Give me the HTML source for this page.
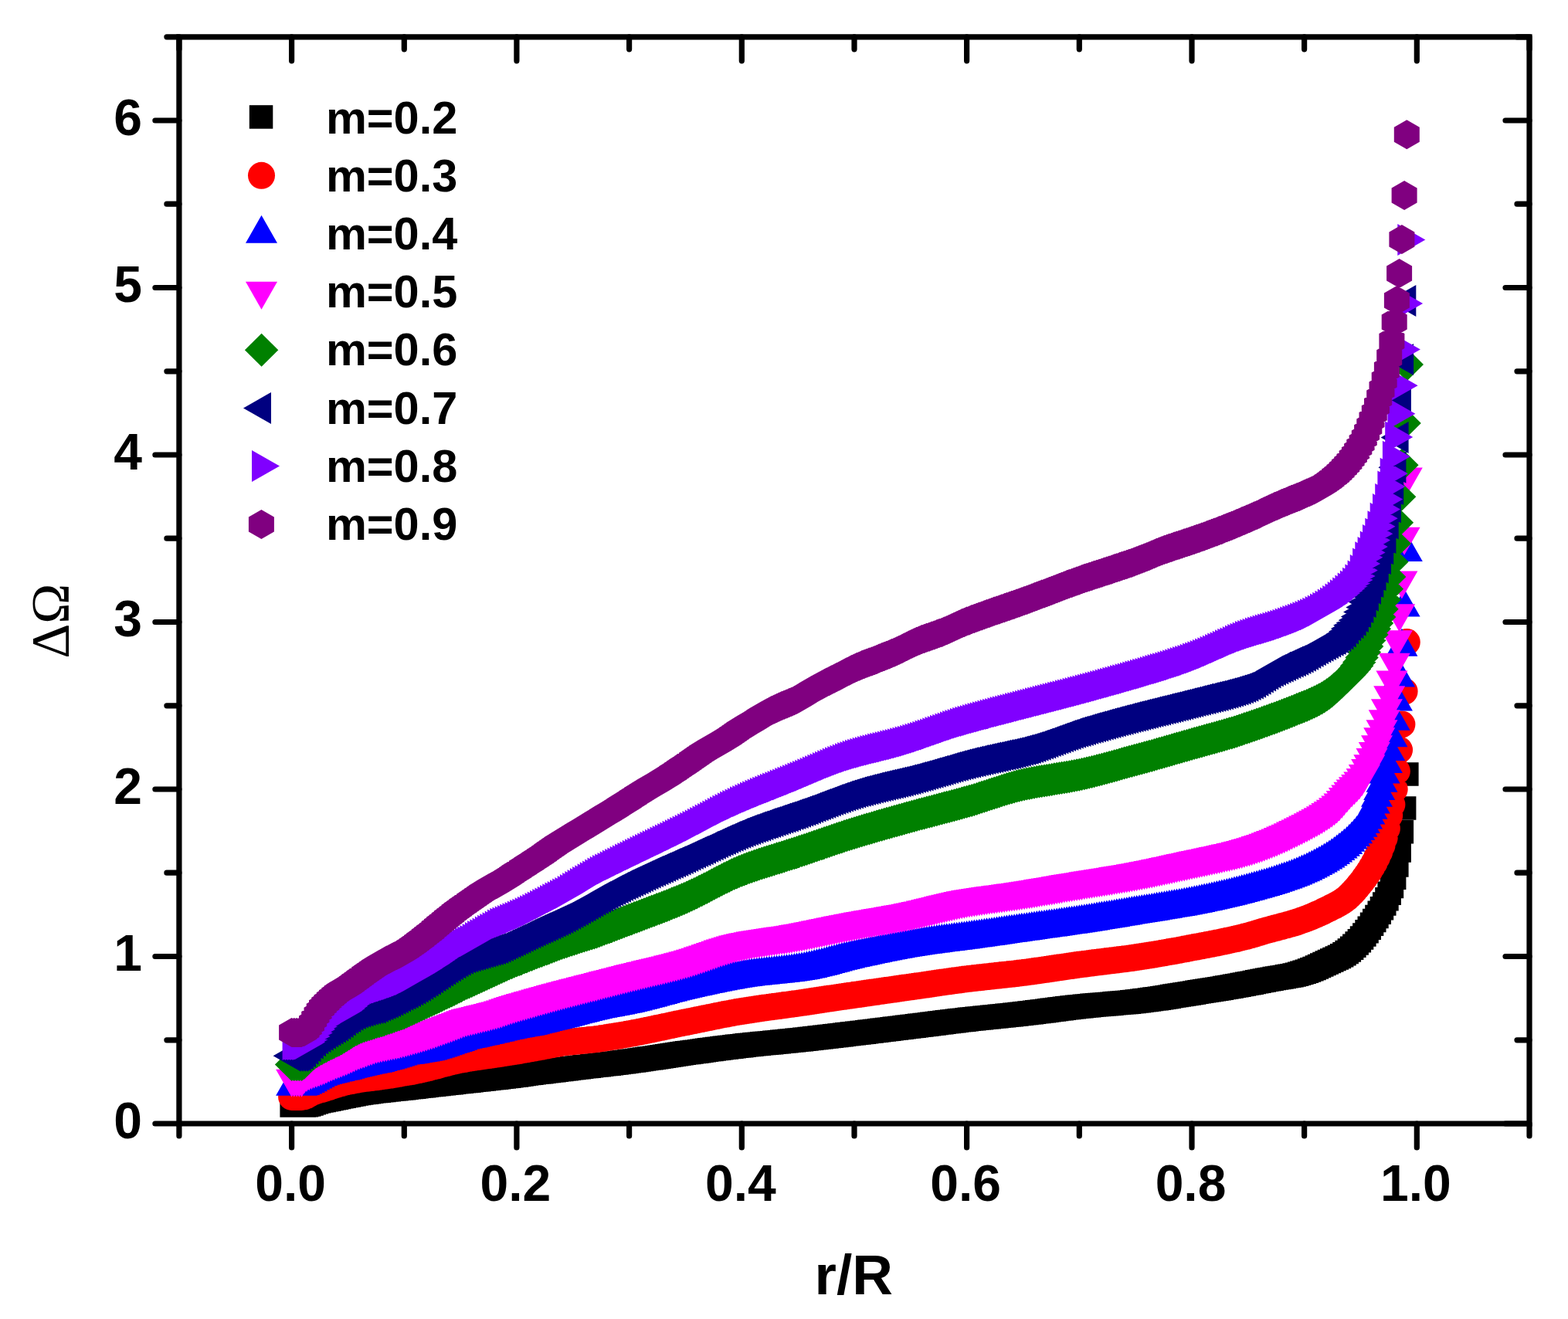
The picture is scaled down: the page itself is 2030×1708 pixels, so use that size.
<!DOCTYPE html><html><head><meta charset="utf-8"><style>html,body{margin:0;padding:0;background:#fff;overflow:hidden}svg{display:block}</style></head><body><svg xmlns="http://www.w3.org/2000/svg" width="2030" height="1708" viewBox="0 0 2030 1708">
<rect width="2030" height="1708" fill="#fff"/>
<path fill="#000000" d="M362.4 1416.2h30.5v30.5h-30.5zM365.6 1416.2h30.5v30.5h-30.5zM368.8 1416.2h30.5v30.5h-30.5zM372.1 1416.2h30.5v30.5h-30.5zM375.3 1416.2h30.5v30.5h-30.5zM378.5 1416.2h30.5v30.5h-30.5zM381.8 1415.9h30.5v30.5h-30.5zM385.0 1415.2h30.5v30.5h-30.5zM388.3 1414.2h30.5v30.5h-30.5zM391.5 1413.1h30.5v30.5h-30.5zM394.7 1412.0h30.5v30.5h-30.5zM398.0 1411.1h30.5v30.5h-30.5zM401.2 1410.3h30.5v30.5h-30.5zM404.4 1409.7h30.5v30.5h-30.5zM407.7 1409.0h30.5v30.5h-30.5zM410.9 1408.4h30.5v30.5h-30.5zM414.2 1407.7h30.5v30.5h-30.5zM417.4 1407.1h30.5v30.5h-30.5zM420.6 1406.4h30.5v30.5h-30.5zM423.9 1405.8h30.5v30.5h-30.5zM427.1 1405.1h30.5v30.5h-30.5zM430.3 1404.5h30.5v30.5h-30.5zM433.6 1403.8h30.5v30.5h-30.5zM436.8 1403.2h30.5v30.5h-30.5zM440.0 1402.5h30.5v30.5h-30.5zM443.3 1401.9h30.5v30.5h-30.5zM446.5 1401.3h30.5v30.5h-30.5zM449.8 1400.7h30.5v30.5h-30.5zM453.0 1400.3h30.5v30.5h-30.5zM456.2 1399.8h30.5v30.5h-30.5zM459.5 1399.4h30.5v30.5h-30.5zM462.7 1398.9h30.5v30.5h-30.5zM465.9 1398.5h30.5v30.5h-30.5zM469.2 1398.1h30.5v30.5h-30.5zM472.4 1397.7h30.5v30.5h-30.5zM475.7 1397.4h30.5v30.5h-30.5zM478.9 1397.0h30.5v30.5h-30.5zM482.1 1396.7h30.5v30.5h-30.5zM485.4 1396.3h30.5v30.5h-30.5zM488.6 1396.0h30.5v30.5h-30.5zM491.8 1395.6h30.5v30.5h-30.5zM495.1 1395.3h30.5v30.5h-30.5zM498.3 1394.9h30.5v30.5h-30.5zM501.6 1394.6h30.5v30.5h-30.5zM504.8 1394.2h30.5v30.5h-30.5zM508.0 1393.9h30.5v30.5h-30.5zM511.3 1393.5h30.5v30.5h-30.5zM514.5 1393.1h30.5v30.5h-30.5zM517.7 1392.7h30.5v30.5h-30.5zM521.0 1392.4h30.5v30.5h-30.5zM524.2 1392.0h30.5v30.5h-30.5zM527.4 1391.6h30.5v30.5h-30.5zM530.7 1391.3h30.5v30.5h-30.5zM533.9 1390.9h30.5v30.5h-30.5zM537.2 1390.5h30.5v30.5h-30.5zM540.4 1390.1h30.5v30.5h-30.5zM543.6 1389.8h30.5v30.5h-30.5zM546.9 1389.4h30.5v30.5h-30.5zM550.1 1389.0h30.5v30.5h-30.5zM553.3 1388.7h30.5v30.5h-30.5zM556.6 1388.3h30.5v30.5h-30.5zM559.8 1387.9h30.5v30.5h-30.5zM563.1 1387.6h30.5v30.5h-30.5zM566.3 1387.2h30.5v30.5h-30.5zM569.5 1386.9h30.5v30.5h-30.5zM572.8 1386.5h30.5v30.5h-30.5zM576.0 1386.1h30.5v30.5h-30.5zM579.2 1385.8h30.5v30.5h-30.5zM582.5 1385.5h30.5v30.5h-30.5zM585.7 1385.1h30.5v30.5h-30.5zM589.0 1384.7h30.5v30.5h-30.5zM592.2 1384.4h30.5v30.5h-30.5zM595.4 1384.0h30.5v30.5h-30.5zM598.7 1383.6h30.5v30.5h-30.5zM601.9 1383.3h30.5v30.5h-30.5zM605.1 1382.9h30.5v30.5h-30.5zM608.4 1382.6h30.5v30.5h-30.5zM611.6 1382.2h30.5v30.5h-30.5zM614.8 1381.8h30.5v30.5h-30.5zM618.1 1381.5h30.5v30.5h-30.5zM621.3 1381.1h30.5v30.5h-30.5zM624.6 1380.8h30.5v30.5h-30.5zM627.8 1380.4h30.5v30.5h-30.5zM631.0 1380.0h30.5v30.5h-30.5zM634.3 1379.6h30.5v30.5h-30.5zM637.5 1379.2h30.5v30.5h-30.5zM640.7 1378.8h30.5v30.5h-30.5zM644.0 1378.4h30.5v30.5h-30.5zM647.2 1378.0h30.5v30.5h-30.5zM650.5 1377.6h30.5v30.5h-30.5zM653.7 1377.2h30.5v30.5h-30.5zM656.9 1376.7h30.5v30.5h-30.5zM660.2 1376.3h30.5v30.5h-30.5zM663.4 1375.8h30.5v30.5h-30.5zM666.6 1375.3h30.5v30.5h-30.5zM669.9 1374.8h30.5v30.5h-30.5zM673.1 1374.4h30.5v30.5h-30.5zM676.4 1374.0h30.5v30.5h-30.5zM679.6 1373.6h30.5v30.5h-30.5zM682.8 1373.2h30.5v30.5h-30.5zM686.1 1372.9h30.5v30.5h-30.5zM689.3 1372.5h30.5v30.5h-30.5zM692.5 1372.1h30.5v30.5h-30.5zM695.8 1371.7h30.5v30.5h-30.5zM699.0 1371.3h30.5v30.5h-30.5zM702.2 1370.9h30.5v30.5h-30.5zM705.5 1370.5h30.5v30.5h-30.5zM708.7 1370.1h30.5v30.5h-30.5zM712.0 1369.7h30.5v30.5h-30.5zM715.2 1369.3h30.5v30.5h-30.5zM718.4 1368.9h30.5v30.5h-30.5zM721.7 1368.5h30.5v30.5h-30.5zM724.9 1368.0h30.5v30.5h-30.5zM728.1 1367.7h30.5v30.5h-30.5zM731.4 1367.3h30.5v30.5h-30.5zM734.6 1366.9h30.5v30.5h-30.5zM737.9 1366.5h30.5v30.5h-30.5zM741.1 1366.1h30.5v30.5h-30.5zM744.3 1365.8h30.5v30.5h-30.5zM747.6 1365.4h30.5v30.5h-30.5zM750.8 1365.0h30.5v30.5h-30.5zM754.0 1364.6h30.5v30.5h-30.5zM757.3 1364.3h30.5v30.5h-30.5zM760.5 1363.9h30.5v30.5h-30.5zM763.8 1363.5h30.5v30.5h-30.5zM767.0 1363.1h30.5v30.5h-30.5zM770.2 1362.7h30.5v30.5h-30.5zM773.5 1362.4h30.5v30.5h-30.5zM776.7 1361.9h30.5v30.5h-30.5zM779.9 1361.6h30.5v30.5h-30.5zM783.2 1361.2h30.5v30.5h-30.5zM786.4 1360.7h30.5v30.5h-30.5zM789.6 1360.3h30.5v30.5h-30.5zM792.9 1359.9h30.5v30.5h-30.5zM796.1 1359.5h30.5v30.5h-30.5zM799.4 1359.1h30.5v30.5h-30.5zM802.6 1358.6h30.5v30.5h-30.5zM805.8 1358.2h30.5v30.5h-30.5zM809.1 1357.7h30.5v30.5h-30.5zM812.3 1357.2h30.5v30.5h-30.5zM815.5 1356.8h30.5v30.5h-30.5zM818.8 1356.3h30.5v30.5h-30.5zM822.0 1355.8h30.5v30.5h-30.5zM825.3 1355.3h30.5v30.5h-30.5zM828.5 1354.9h30.5v30.5h-30.5zM831.7 1354.4h30.5v30.5h-30.5zM835.0 1353.9h30.5v30.5h-30.5zM838.2 1353.4h30.5v30.5h-30.5zM841.4 1352.9h30.5v30.5h-30.5zM844.7 1352.4h30.5v30.5h-30.5zM847.9 1351.9h30.5v30.5h-30.5zM851.2 1351.4h30.5v30.5h-30.5zM854.4 1350.9h30.5v30.5h-30.5zM857.6 1350.4h30.5v30.5h-30.5zM860.9 1349.9h30.5v30.5h-30.5zM864.1 1349.5h30.5v30.5h-30.5zM867.3 1349.0h30.5v30.5h-30.5zM870.6 1348.6h30.5v30.5h-30.5zM873.8 1348.1h30.5v30.5h-30.5zM877.0 1347.7h30.5v30.5h-30.5zM880.3 1347.2h30.5v30.5h-30.5zM883.5 1346.8h30.5v30.5h-30.5zM886.8 1346.4h30.5v30.5h-30.5zM890.0 1345.9h30.5v30.5h-30.5zM893.2 1345.5h30.5v30.5h-30.5zM896.5 1345.0h30.5v30.5h-30.5zM899.7 1344.6h30.5v30.5h-30.5zM902.9 1344.1h30.5v30.5h-30.5zM906.2 1343.7h30.5v30.5h-30.5zM909.4 1343.3h30.5v30.5h-30.5zM912.7 1342.8h30.5v30.5h-30.5zM915.9 1342.4h30.5v30.5h-30.5zM919.1 1342.0h30.5v30.5h-30.5zM922.4 1341.6h30.5v30.5h-30.5zM925.6 1341.2h30.5v30.5h-30.5zM928.8 1340.8h30.5v30.5h-30.5zM932.1 1340.4h30.5v30.5h-30.5zM935.3 1340.0h30.5v30.5h-30.5zM938.6 1339.6h30.5v30.5h-30.5zM941.8 1339.2h30.5v30.5h-30.5zM945.0 1338.9h30.5v30.5h-30.5zM948.3 1338.5h30.5v30.5h-30.5zM951.5 1338.1h30.5v30.5h-30.5zM954.7 1337.8h30.5v30.5h-30.5zM958.0 1337.5h30.5v30.5h-30.5zM961.2 1337.1h30.5v30.5h-30.5zM964.4 1336.8h30.5v30.5h-30.5zM967.7 1336.5h30.5v30.5h-30.5zM970.9 1336.1h30.5v30.5h-30.5zM974.2 1335.8h30.5v30.5h-30.5zM977.4 1335.5h30.5v30.5h-30.5zM980.6 1335.2h30.5v30.5h-30.5zM983.9 1334.9h30.5v30.5h-30.5zM987.1 1334.6h30.5v30.5h-30.5zM990.3 1334.2h30.5v30.5h-30.5zM993.6 1333.9h30.5v30.5h-30.5zM996.8 1333.6h30.5v30.5h-30.5zM1000.1 1333.3h30.5v30.5h-30.5zM1003.3 1333.0h30.5v30.5h-30.5zM1006.5 1332.6h30.5v30.5h-30.5zM1009.8 1332.3h30.5v30.5h-30.5zM1013.0 1332.0h30.5v30.5h-30.5zM1016.2 1331.6h30.5v30.5h-30.5zM1019.5 1331.3h30.5v30.5h-30.5zM1022.7 1330.9h30.5v30.5h-30.5zM1026.0 1330.6h30.5v30.5h-30.5zM1029.2 1330.2h30.5v30.5h-30.5zM1032.4 1329.8h30.5v30.5h-30.5zM1035.7 1329.5h30.5v30.5h-30.5zM1038.9 1329.1h30.5v30.5h-30.5zM1042.1 1328.7h30.5v30.5h-30.5zM1045.4 1328.3h30.5v30.5h-30.5zM1048.6 1328.0h30.5v30.5h-30.5zM1051.8 1327.6h30.5v30.5h-30.5zM1055.1 1327.2h30.5v30.5h-30.5zM1058.3 1326.8h30.5v30.5h-30.5zM1061.6 1326.4h30.5v30.5h-30.5zM1064.8 1326.0h30.5v30.5h-30.5zM1068.0 1325.7h30.5v30.5h-30.5zM1071.3 1325.3h30.5v30.5h-30.5zM1074.5 1324.9h30.5v30.5h-30.5zM1077.7 1324.5h30.5v30.5h-30.5zM1081.0 1324.1h30.5v30.5h-30.5zM1084.2 1323.7h30.5v30.5h-30.5zM1087.5 1323.3h30.5v30.5h-30.5zM1090.7 1322.9h30.5v30.5h-30.5zM1093.9 1322.6h30.5v30.5h-30.5zM1097.2 1322.2h30.5v30.5h-30.5zM1100.4 1321.8h30.5v30.5h-30.5zM1103.7 1321.4h30.5v30.5h-30.5zM1106.9 1321.0h30.5v30.5h-30.5zM1110.1 1320.6h30.5v30.5h-30.5zM1113.4 1320.2h30.5v30.5h-30.5zM1116.6 1319.8h30.5v30.5h-30.5zM1119.8 1319.4h30.5v30.5h-30.5zM1123.1 1319.0h30.5v30.5h-30.5zM1126.3 1318.6h30.5v30.5h-30.5zM1129.6 1318.2h30.5v30.5h-30.5zM1132.8 1317.8h30.5v30.5h-30.5zM1136.0 1317.4h30.5v30.5h-30.5zM1139.3 1317.0h30.5v30.5h-30.5zM1142.5 1316.6h30.5v30.5h-30.5zM1145.7 1316.2h30.5v30.5h-30.5zM1149.0 1315.8h30.5v30.5h-30.5zM1152.2 1315.4h30.5v30.5h-30.5zM1155.4 1315.0h30.5v30.5h-30.5zM1158.7 1314.6h30.5v30.5h-30.5zM1161.9 1314.2h30.5v30.5h-30.5zM1165.2 1313.8h30.5v30.5h-30.5zM1168.4 1313.4h30.5v30.5h-30.5zM1171.6 1313.0h30.5v30.5h-30.5zM1174.9 1312.6h30.5v30.5h-30.5zM1178.1 1312.2h30.5v30.5h-30.5zM1181.3 1311.8h30.5v30.5h-30.5zM1184.6 1311.4h30.5v30.5h-30.5zM1187.8 1311.0h30.5v30.5h-30.5zM1191.1 1310.6h30.5v30.5h-30.5zM1194.3 1310.2h30.5v30.5h-30.5zM1197.5 1309.7h30.5v30.5h-30.5zM1200.8 1309.3h30.5v30.5h-30.5zM1204.0 1308.9h30.5v30.5h-30.5zM1207.2 1308.5h30.5v30.5h-30.5zM1210.5 1308.1h30.5v30.5h-30.5zM1213.7 1307.7h30.5v30.5h-30.5zM1217.0 1307.3h30.5v30.5h-30.5zM1220.2 1306.9h30.5v30.5h-30.5zM1223.4 1306.5h30.5v30.5h-30.5zM1226.7 1306.1h30.5v30.5h-30.5zM1229.9 1305.7h30.5v30.5h-30.5zM1233.1 1305.4h30.5v30.5h-30.5zM1236.4 1305.0h30.5v30.5h-30.5zM1239.6 1304.6h30.5v30.5h-30.5zM1242.8 1304.3h30.5v30.5h-30.5zM1246.1 1303.9h30.5v30.5h-30.5zM1249.3 1303.6h30.5v30.5h-30.5zM1252.6 1303.2h30.5v30.5h-30.5zM1255.8 1302.9h30.5v30.5h-30.5zM1259.0 1302.6h30.5v30.5h-30.5zM1262.3 1302.2h30.5v30.5h-30.5zM1265.5 1301.9h30.5v30.5h-30.5zM1268.7 1301.6h30.5v30.5h-30.5zM1272.0 1301.2h30.5v30.5h-30.5zM1275.2 1300.9h30.5v30.5h-30.5zM1278.5 1300.6h30.5v30.5h-30.5zM1281.7 1300.2h30.5v30.5h-30.5zM1284.9 1299.9h30.5v30.5h-30.5zM1288.2 1299.6h30.5v30.5h-30.5zM1291.4 1299.2h30.5v30.5h-30.5zM1294.6 1298.9h30.5v30.5h-30.5zM1297.9 1298.5h30.5v30.5h-30.5zM1301.1 1298.2h30.5v30.5h-30.5zM1304.4 1297.8h30.5v30.5h-30.5zM1307.6 1297.5h30.5v30.5h-30.5zM1310.8 1297.1h30.5v30.5h-30.5zM1314.1 1296.7h30.5v30.5h-30.5zM1317.3 1296.3h30.5v30.5h-30.5zM1320.5 1296.0h30.5v30.5h-30.5zM1323.8 1295.5h30.5v30.5h-30.5zM1327.0 1295.1h30.5v30.5h-30.5zM1330.2 1294.7h30.5v30.5h-30.5zM1333.5 1294.3h30.5v30.5h-30.5zM1336.7 1293.9h30.5v30.5h-30.5zM1340.0 1293.4h30.5v30.5h-30.5zM1343.2 1293.0h30.5v30.5h-30.5zM1346.4 1292.6h30.5v30.5h-30.5zM1349.7 1292.2h30.5v30.5h-30.5zM1352.9 1291.7h30.5v30.5h-30.5zM1356.1 1291.3h30.5v30.5h-30.5zM1359.4 1290.9h30.5v30.5h-30.5zM1362.6 1290.5h30.5v30.5h-30.5zM1365.9 1290.1h30.5v30.5h-30.5zM1369.1 1289.7h30.5v30.5h-30.5zM1372.3 1289.3h30.5v30.5h-30.5zM1375.6 1288.9h30.5v30.5h-30.5zM1378.8 1288.5h30.5v30.5h-30.5zM1382.0 1288.2h30.5v30.5h-30.5zM1385.3 1287.9h30.5v30.5h-30.5zM1388.5 1287.6h30.5v30.5h-30.5zM1391.8 1287.2h30.5v30.5h-30.5zM1395.0 1286.9h30.5v30.5h-30.5zM1398.2 1286.6h30.5v30.5h-30.5zM1401.5 1286.3h30.5v30.5h-30.5zM1404.7 1286.1h30.5v30.5h-30.5zM1407.9 1285.8h30.5v30.5h-30.5zM1411.2 1285.5h30.5v30.5h-30.5zM1414.4 1285.2h30.5v30.5h-30.5zM1417.6 1285.0h30.5v30.5h-30.5zM1420.9 1284.7h30.5v30.5h-30.5zM1424.1 1284.4h30.5v30.5h-30.5zM1427.4 1284.1h30.5v30.5h-30.5zM1430.6 1283.8h30.5v30.5h-30.5zM1433.8 1283.6h30.5v30.5h-30.5zM1437.1 1283.3h30.5v30.5h-30.5zM1440.3 1283.0h30.5v30.5h-30.5zM1443.5 1282.7h30.5v30.5h-30.5zM1446.8 1282.4h30.5v30.5h-30.5zM1450.0 1282.0h30.5v30.5h-30.5zM1453.3 1281.7h30.5v30.5h-30.5zM1456.5 1281.3h30.5v30.5h-30.5zM1459.7 1280.9h30.5v30.5h-30.5zM1463.0 1280.5h30.5v30.5h-30.5zM1466.2 1280.1h30.5v30.5h-30.5zM1469.4 1279.7h30.5v30.5h-30.5zM1472.7 1279.2h30.5v30.5h-30.5zM1475.9 1278.8h30.5v30.5h-30.5zM1479.2 1278.3h30.5v30.5h-30.5zM1482.4 1277.9h30.5v30.5h-30.5zM1485.6 1277.4h30.5v30.5h-30.5zM1488.9 1276.9h30.5v30.5h-30.5zM1492.1 1276.4h30.5v30.5h-30.5zM1495.3 1275.9h30.5v30.5h-30.5zM1498.6 1275.4h30.5v30.5h-30.5zM1501.8 1274.8h30.5v30.5h-30.5zM1505.0 1274.3h30.5v30.5h-30.5zM1508.3 1273.8h30.5v30.5h-30.5zM1511.5 1273.3h30.5v30.5h-30.5zM1514.8 1272.7h30.5v30.5h-30.5zM1518.0 1272.2h30.5v30.5h-30.5zM1521.2 1271.7h30.5v30.5h-30.5zM1524.5 1271.2h30.5v30.5h-30.5zM1527.7 1270.7h30.5v30.5h-30.5zM1530.9 1270.2h30.5v30.5h-30.5zM1534.2 1269.6h30.5v30.5h-30.5zM1537.4 1269.1h30.5v30.5h-30.5zM1540.7 1268.6h30.5v30.5h-30.5zM1543.9 1268.1h30.5v30.5h-30.5zM1547.1 1267.6h30.5v30.5h-30.5zM1550.4 1267.1h30.5v30.5h-30.5zM1553.6 1266.5h30.5v30.5h-30.5zM1556.8 1266.0h30.5v30.5h-30.5zM1560.1 1265.5h30.5v30.5h-30.5zM1563.3 1264.9h30.5v30.5h-30.5zM1566.6 1264.4h30.5v30.5h-30.5zM1569.8 1263.8h30.5v30.5h-30.5zM1573.0 1263.3h30.5v30.5h-30.5zM1576.3 1262.7h30.5v30.5h-30.5zM1579.5 1262.2h30.5v30.5h-30.5zM1582.7 1261.6h30.5v30.5h-30.5zM1586.0 1261.0h30.5v30.5h-30.5zM1589.2 1260.4h30.5v30.5h-30.5zM1592.4 1259.8h30.5v30.5h-30.5zM1595.7 1259.3h30.5v30.5h-30.5zM1598.9 1258.6h30.5v30.5h-30.5zM1602.2 1258.0h30.5v30.5h-30.5zM1605.4 1257.4h30.5v30.5h-30.5zM1608.6 1256.7h30.5v30.5h-30.5zM1611.9 1256.1h30.5v30.5h-30.5zM1615.1 1255.4h30.5v30.5h-30.5zM1618.3 1254.8h30.5v30.5h-30.5zM1621.6 1254.2h30.5v30.5h-30.5zM1624.8 1253.6h30.5v30.5h-30.5zM1628.1 1253.0h30.5v30.5h-30.5zM1631.3 1252.4h30.5v30.5h-30.5zM1634.5 1251.8h30.5v30.5h-30.5zM1637.8 1251.3h30.5v30.5h-30.5zM1641.0 1250.8h30.5v30.5h-30.5zM1644.2 1250.2h30.5v30.5h-30.5zM1647.5 1249.7h30.5v30.5h-30.5zM1650.7 1249.1h30.5v30.5h-30.5zM1654.0 1248.5h30.5v30.5h-30.5zM1657.2 1247.9h30.5v30.5h-30.5zM1660.4 1247.2h30.5v30.5h-30.5zM1663.7 1246.4h30.5v30.5h-30.5zM1666.9 1245.5h30.5v30.5h-30.5zM1670.1 1244.6h30.5v30.5h-30.5zM1673.4 1243.6h30.5v30.5h-30.5zM1676.6 1242.5h30.5v30.5h-30.5zM1679.8 1241.3h30.5v30.5h-30.5zM1683.1 1240.0h30.5v30.5h-30.5zM1686.3 1238.7h30.5v30.5h-30.5zM1689.6 1237.3h30.5v30.5h-30.5zM1692.8 1235.8h30.5v30.5h-30.5zM1696.0 1234.3h30.5v30.5h-30.5zM1699.3 1232.8h30.5v30.5h-30.5zM1702.5 1231.3h30.5v30.5h-30.5zM1705.7 1229.8h30.5v30.5h-30.5zM1709.0 1228.3h30.5v30.5h-30.5zM1712.2 1226.8h30.5v30.5h-30.5zM1715.5 1225.3h30.5v30.5h-30.5zM1718.7 1223.7h30.5v30.5h-30.5zM1721.9 1221.9h30.5v30.5h-30.5zM1725.2 1219.9h30.5v30.5h-30.5zM1728.4 1217.7h30.5v30.5h-30.5zM1731.6 1215.2h30.5v30.5h-30.5zM1734.9 1212.4h30.5v30.5h-30.5zM1738.1 1209.4h30.5v30.5h-30.5zM1741.4 1206.2h30.5v30.5h-30.5zM1744.6 1202.9h30.5v30.5h-30.5zM1747.8 1199.3h30.5v30.5h-30.5zM1751.1 1195.3h30.5v30.5h-30.5zM1754.3 1191.0h30.5v30.5h-30.5zM1757.5 1186.4h30.5v30.5h-30.5zM1760.8 1181.6h30.5v30.5h-30.5zM1764.0 1176.7h30.5v30.5h-30.5zM1767.2 1171.7h30.5v30.5h-30.5zM1770.5 1166.5h30.5v30.5h-30.5zM1773.7 1161.0h30.5v30.5h-30.5zM1777.0 1155.2h30.5v30.5h-30.5zM1780.2 1148.9h30.5v30.5h-30.5zM1783.4 1141.6h30.5v30.5h-30.5zM1786.7 1132.8h30.5v30.5h-30.5zM1789.9 1121.5h30.5v30.5h-30.5zM1793.1 1105.3h30.5v30.5h-30.5zM1796.4 1086.2h30.5v30.5h-30.5zM1799.6 1062.0h30.5v30.5h-30.5zM1802.9 1031.2h30.5v30.5h-30.5zM1806.1 987.3h30.5v30.5h-30.5z"/>
<path fill="#ff0000" d="M360.1 1420.4a17.5 17.5 0 1 0 35.0 0a17.5 17.5 0 1 0 -35.0 0zM363.3 1420.4a17.5 17.5 0 1 0 35.0 0a17.5 17.5 0 1 0 -35.0 0zM366.6 1420.4a17.5 17.5 0 1 0 35.0 0a17.5 17.5 0 1 0 -35.0 0zM369.8 1420.4a17.5 17.5 0 1 0 35.0 0a17.5 17.5 0 1 0 -35.0 0zM373.1 1420.4a17.5 17.5 0 1 0 35.0 0a17.5 17.5 0 1 0 -35.0 0zM376.3 1419.8a17.5 17.5 0 1 0 35.0 0a17.5 17.5 0 1 0 -35.0 0zM379.5 1418.5a17.5 17.5 0 1 0 35.0 0a17.5 17.5 0 1 0 -35.0 0zM382.8 1416.7a17.5 17.5 0 1 0 35.0 0a17.5 17.5 0 1 0 -35.0 0zM386.0 1414.9a17.5 17.5 0 1 0 35.0 0a17.5 17.5 0 1 0 -35.0 0zM389.2 1413.5a17.5 17.5 0 1 0 35.0 0a17.5 17.5 0 1 0 -35.0 0zM392.5 1412.4a17.5 17.5 0 1 0 35.0 0a17.5 17.5 0 1 0 -35.0 0zM395.7 1411.4a17.5 17.5 0 1 0 35.0 0a17.5 17.5 0 1 0 -35.0 0zM399.0 1410.5a17.5 17.5 0 1 0 35.0 0a17.5 17.5 0 1 0 -35.0 0zM402.2 1409.5a17.5 17.5 0 1 0 35.0 0a17.5 17.5 0 1 0 -35.0 0zM405.4 1408.5a17.5 17.5 0 1 0 35.0 0a17.5 17.5 0 1 0 -35.0 0zM408.7 1407.5a17.5 17.5 0 1 0 35.0 0a17.5 17.5 0 1 0 -35.0 0zM411.9 1406.4a17.5 17.5 0 1 0 35.0 0a17.5 17.5 0 1 0 -35.0 0zM415.1 1405.4a17.5 17.5 0 1 0 35.0 0a17.5 17.5 0 1 0 -35.0 0zM418.4 1404.4a17.5 17.5 0 1 0 35.0 0a17.5 17.5 0 1 0 -35.0 0zM421.6 1403.4a17.5 17.5 0 1 0 35.0 0a17.5 17.5 0 1 0 -35.0 0zM424.8 1402.5a17.5 17.5 0 1 0 35.0 0a17.5 17.5 0 1 0 -35.0 0zM428.1 1401.6a17.5 17.5 0 1 0 35.0 0a17.5 17.5 0 1 0 -35.0 0zM431.3 1400.8a17.5 17.5 0 1 0 35.0 0a17.5 17.5 0 1 0 -35.0 0zM434.6 1400.1a17.5 17.5 0 1 0 35.0 0a17.5 17.5 0 1 0 -35.0 0zM437.8 1399.5a17.5 17.5 0 1 0 35.0 0a17.5 17.5 0 1 0 -35.0 0zM441.0 1398.9a17.5 17.5 0 1 0 35.0 0a17.5 17.5 0 1 0 -35.0 0zM444.3 1398.3a17.5 17.5 0 1 0 35.0 0a17.5 17.5 0 1 0 -35.0 0zM447.5 1397.7a17.5 17.5 0 1 0 35.0 0a17.5 17.5 0 1 0 -35.0 0zM450.7 1397.2a17.5 17.5 0 1 0 35.0 0a17.5 17.5 0 1 0 -35.0 0zM454.0 1396.7a17.5 17.5 0 1 0 35.0 0a17.5 17.5 0 1 0 -35.0 0zM457.2 1396.3a17.5 17.5 0 1 0 35.0 0a17.5 17.5 0 1 0 -35.0 0zM460.5 1395.9a17.5 17.5 0 1 0 35.0 0a17.5 17.5 0 1 0 -35.0 0zM463.7 1395.5a17.5 17.5 0 1 0 35.0 0a17.5 17.5 0 1 0 -35.0 0zM466.9 1395.1a17.5 17.5 0 1 0 35.0 0a17.5 17.5 0 1 0 -35.0 0zM470.2 1394.8a17.5 17.5 0 1 0 35.0 0a17.5 17.5 0 1 0 -35.0 0zM473.4 1394.3a17.5 17.5 0 1 0 35.0 0a17.5 17.5 0 1 0 -35.0 0zM476.6 1393.8a17.5 17.5 0 1 0 35.0 0a17.5 17.5 0 1 0 -35.0 0zM479.9 1393.3a17.5 17.5 0 1 0 35.0 0a17.5 17.5 0 1 0 -35.0 0zM483.1 1392.9a17.5 17.5 0 1 0 35.0 0a17.5 17.5 0 1 0 -35.0 0zM486.4 1392.4a17.5 17.5 0 1 0 35.0 0a17.5 17.5 0 1 0 -35.0 0zM489.6 1391.9a17.5 17.5 0 1 0 35.0 0a17.5 17.5 0 1 0 -35.0 0zM492.8 1391.4a17.5 17.5 0 1 0 35.0 0a17.5 17.5 0 1 0 -35.0 0zM496.1 1390.9a17.5 17.5 0 1 0 35.0 0a17.5 17.5 0 1 0 -35.0 0zM499.3 1390.3a17.5 17.5 0 1 0 35.0 0a17.5 17.5 0 1 0 -35.0 0zM502.5 1389.7a17.5 17.5 0 1 0 35.0 0a17.5 17.5 0 1 0 -35.0 0zM505.8 1389.1a17.5 17.5 0 1 0 35.0 0a17.5 17.5 0 1 0 -35.0 0zM509.0 1388.6a17.5 17.5 0 1 0 35.0 0a17.5 17.5 0 1 0 -35.0 0zM512.2 1388.1a17.5 17.5 0 1 0 35.0 0a17.5 17.5 0 1 0 -35.0 0zM515.5 1387.5a17.5 17.5 0 1 0 35.0 0a17.5 17.5 0 1 0 -35.0 0zM518.7 1386.9a17.5 17.5 0 1 0 35.0 0a17.5 17.5 0 1 0 -35.0 0zM522.0 1386.2a17.5 17.5 0 1 0 35.0 0a17.5 17.5 0 1 0 -35.0 0zM525.2 1385.5a17.5 17.5 0 1 0 35.0 0a17.5 17.5 0 1 0 -35.0 0zM528.4 1384.8a17.5 17.5 0 1 0 35.0 0a17.5 17.5 0 1 0 -35.0 0zM531.7 1384.1a17.5 17.5 0 1 0 35.0 0a17.5 17.5 0 1 0 -35.0 0zM534.9 1383.3a17.5 17.5 0 1 0 35.0 0a17.5 17.5 0 1 0 -35.0 0zM538.1 1382.5a17.5 17.5 0 1 0 35.0 0a17.5 17.5 0 1 0 -35.0 0zM541.4 1381.7a17.5 17.5 0 1 0 35.0 0a17.5 17.5 0 1 0 -35.0 0zM544.6 1380.8a17.5 17.5 0 1 0 35.0 0a17.5 17.5 0 1 0 -35.0 0zM547.9 1380.0a17.5 17.5 0 1 0 35.0 0a17.5 17.5 0 1 0 -35.0 0zM551.1 1379.1a17.5 17.5 0 1 0 35.0 0a17.5 17.5 0 1 0 -35.0 0zM554.3 1378.2a17.5 17.5 0 1 0 35.0 0a17.5 17.5 0 1 0 -35.0 0zM557.6 1377.3a17.5 17.5 0 1 0 35.0 0a17.5 17.5 0 1 0 -35.0 0zM560.8 1376.5a17.5 17.5 0 1 0 35.0 0a17.5 17.5 0 1 0 -35.0 0zM564.0 1375.7a17.5 17.5 0 1 0 35.0 0a17.5 17.5 0 1 0 -35.0 0zM567.3 1374.9a17.5 17.5 0 1 0 35.0 0a17.5 17.5 0 1 0 -35.0 0zM570.5 1374.1a17.5 17.5 0 1 0 35.0 0a17.5 17.5 0 1 0 -35.0 0zM573.8 1373.4a17.5 17.5 0 1 0 35.0 0a17.5 17.5 0 1 0 -35.0 0zM577.0 1372.7a17.5 17.5 0 1 0 35.0 0a17.5 17.5 0 1 0 -35.0 0zM580.2 1372.1a17.5 17.5 0 1 0 35.0 0a17.5 17.5 0 1 0 -35.0 0zM583.5 1371.5a17.5 17.5 0 1 0 35.0 0a17.5 17.5 0 1 0 -35.0 0zM586.7 1370.9a17.5 17.5 0 1 0 35.0 0a17.5 17.5 0 1 0 -35.0 0zM589.9 1370.3a17.5 17.5 0 1 0 35.0 0a17.5 17.5 0 1 0 -35.0 0zM593.2 1369.8a17.5 17.5 0 1 0 35.0 0a17.5 17.5 0 1 0 -35.0 0zM596.4 1369.3a17.5 17.5 0 1 0 35.0 0a17.5 17.5 0 1 0 -35.0 0zM599.6 1368.8a17.5 17.5 0 1 0 35.0 0a17.5 17.5 0 1 0 -35.0 0zM602.9 1368.4a17.5 17.5 0 1 0 35.0 0a17.5 17.5 0 1 0 -35.0 0zM606.1 1367.9a17.5 17.5 0 1 0 35.0 0a17.5 17.5 0 1 0 -35.0 0zM609.4 1367.4a17.5 17.5 0 1 0 35.0 0a17.5 17.5 0 1 0 -35.0 0zM612.6 1366.9a17.5 17.5 0 1 0 35.0 0a17.5 17.5 0 1 0 -35.0 0zM615.8 1366.5a17.5 17.5 0 1 0 35.0 0a17.5 17.5 0 1 0 -35.0 0zM619.1 1366.0a17.5 17.5 0 1 0 35.0 0a17.5 17.5 0 1 0 -35.0 0zM622.3 1365.6a17.5 17.5 0 1 0 35.0 0a17.5 17.5 0 1 0 -35.0 0zM625.5 1365.1a17.5 17.5 0 1 0 35.0 0a17.5 17.5 0 1 0 -35.0 0zM628.8 1364.7a17.5 17.5 0 1 0 35.0 0a17.5 17.5 0 1 0 -35.0 0zM632.0 1364.2a17.5 17.5 0 1 0 35.0 0a17.5 17.5 0 1 0 -35.0 0zM635.3 1363.6a17.5 17.5 0 1 0 35.0 0a17.5 17.5 0 1 0 -35.0 0zM638.5 1363.1a17.5 17.5 0 1 0 35.0 0a17.5 17.5 0 1 0 -35.0 0zM641.7 1362.6a17.5 17.5 0 1 0 35.0 0a17.5 17.5 0 1 0 -35.0 0zM645.0 1362.1a17.5 17.5 0 1 0 35.0 0a17.5 17.5 0 1 0 -35.0 0zM648.2 1361.5a17.5 17.5 0 1 0 35.0 0a17.5 17.5 0 1 0 -35.0 0zM651.4 1361.0a17.5 17.5 0 1 0 35.0 0a17.5 17.5 0 1 0 -35.0 0zM654.7 1360.5a17.5 17.5 0 1 0 35.0 0a17.5 17.5 0 1 0 -35.0 0zM657.9 1359.9a17.5 17.5 0 1 0 35.0 0a17.5 17.5 0 1 0 -35.0 0zM661.2 1359.3a17.5 17.5 0 1 0 35.0 0a17.5 17.5 0 1 0 -35.0 0zM664.4 1358.8a17.5 17.5 0 1 0 35.0 0a17.5 17.5 0 1 0 -35.0 0zM667.6 1358.2a17.5 17.5 0 1 0 35.0 0a17.5 17.5 0 1 0 -35.0 0zM670.9 1357.7a17.5 17.5 0 1 0 35.0 0a17.5 17.5 0 1 0 -35.0 0zM674.1 1357.1a17.5 17.5 0 1 0 35.0 0a17.5 17.5 0 1 0 -35.0 0zM677.3 1356.4a17.5 17.5 0 1 0 35.0 0a17.5 17.5 0 1 0 -35.0 0zM680.6 1355.9a17.5 17.5 0 1 0 35.0 0a17.5 17.5 0 1 0 -35.0 0zM683.8 1355.3a17.5 17.5 0 1 0 35.0 0a17.5 17.5 0 1 0 -35.0 0zM687.0 1354.7a17.5 17.5 0 1 0 35.0 0a17.5 17.5 0 1 0 -35.0 0zM690.3 1354.0a17.5 17.5 0 1 0 35.0 0a17.5 17.5 0 1 0 -35.0 0zM693.5 1353.4a17.5 17.5 0 1 0 35.0 0a17.5 17.5 0 1 0 -35.0 0zM696.8 1352.8a17.5 17.5 0 1 0 35.0 0a17.5 17.5 0 1 0 -35.0 0zM700.0 1352.2a17.5 17.5 0 1 0 35.0 0a17.5 17.5 0 1 0 -35.0 0zM703.2 1351.6a17.5 17.5 0 1 0 35.0 0a17.5 17.5 0 1 0 -35.0 0zM706.5 1351.0a17.5 17.5 0 1 0 35.0 0a17.5 17.5 0 1 0 -35.0 0zM709.7 1350.4a17.5 17.5 0 1 0 35.0 0a17.5 17.5 0 1 0 -35.0 0zM712.9 1349.8a17.5 17.5 0 1 0 35.0 0a17.5 17.5 0 1 0 -35.0 0zM716.2 1349.5a17.5 17.5 0 1 0 35.0 0a17.5 17.5 0 1 0 -35.0 0zM719.4 1349.2a17.5 17.5 0 1 0 35.0 0a17.5 17.5 0 1 0 -35.0 0zM722.7 1348.9a17.5 17.5 0 1 0 35.0 0a17.5 17.5 0 1 0 -35.0 0zM725.9 1348.5a17.5 17.5 0 1 0 35.0 0a17.5 17.5 0 1 0 -35.0 0zM729.1 1348.2a17.5 17.5 0 1 0 35.0 0a17.5 17.5 0 1 0 -35.0 0zM732.4 1347.9a17.5 17.5 0 1 0 35.0 0a17.5 17.5 0 1 0 -35.0 0zM735.6 1347.5a17.5 17.5 0 1 0 35.0 0a17.5 17.5 0 1 0 -35.0 0zM738.8 1347.2a17.5 17.5 0 1 0 35.0 0a17.5 17.5 0 1 0 -35.0 0zM742.1 1346.9a17.5 17.5 0 1 0 35.0 0a17.5 17.5 0 1 0 -35.0 0zM745.3 1346.6a17.5 17.5 0 1 0 35.0 0a17.5 17.5 0 1 0 -35.0 0zM748.6 1346.3a17.5 17.5 0 1 0 35.0 0a17.5 17.5 0 1 0 -35.0 0zM751.8 1345.9a17.5 17.5 0 1 0 35.0 0a17.5 17.5 0 1 0 -35.0 0zM755.0 1345.6a17.5 17.5 0 1 0 35.0 0a17.5 17.5 0 1 0 -35.0 0zM758.3 1345.2a17.5 17.5 0 1 0 35.0 0a17.5 17.5 0 1 0 -35.0 0zM761.5 1344.6a17.5 17.5 0 1 0 35.0 0a17.5 17.5 0 1 0 -35.0 0zM764.7 1344.2a17.5 17.5 0 1 0 35.0 0a17.5 17.5 0 1 0 -35.0 0zM768.0 1343.6a17.5 17.5 0 1 0 35.0 0a17.5 17.5 0 1 0 -35.0 0zM771.2 1343.1a17.5 17.5 0 1 0 35.0 0a17.5 17.5 0 1 0 -35.0 0zM774.4 1342.6a17.5 17.5 0 1 0 35.0 0a17.5 17.5 0 1 0 -35.0 0zM777.7 1342.1a17.5 17.5 0 1 0 35.0 0a17.5 17.5 0 1 0 -35.0 0zM780.9 1341.5a17.5 17.5 0 1 0 35.0 0a17.5 17.5 0 1 0 -35.0 0zM784.2 1341.0a17.5 17.5 0 1 0 35.0 0a17.5 17.5 0 1 0 -35.0 0zM787.4 1340.4a17.5 17.5 0 1 0 35.0 0a17.5 17.5 0 1 0 -35.0 0zM790.6 1339.9a17.5 17.5 0 1 0 35.0 0a17.5 17.5 0 1 0 -35.0 0zM793.9 1339.3a17.5 17.5 0 1 0 35.0 0a17.5 17.5 0 1 0 -35.0 0zM797.1 1338.7a17.5 17.5 0 1 0 35.0 0a17.5 17.5 0 1 0 -35.0 0zM800.3 1338.2a17.5 17.5 0 1 0 35.0 0a17.5 17.5 0 1 0 -35.0 0zM803.6 1337.5a17.5 17.5 0 1 0 35.0 0a17.5 17.5 0 1 0 -35.0 0zM806.8 1336.9a17.5 17.5 0 1 0 35.0 0a17.5 17.5 0 1 0 -35.0 0zM810.1 1336.3a17.5 17.5 0 1 0 35.0 0a17.5 17.5 0 1 0 -35.0 0zM813.3 1335.7a17.5 17.5 0 1 0 35.0 0a17.5 17.5 0 1 0 -35.0 0zM816.5 1335.0a17.5 17.5 0 1 0 35.0 0a17.5 17.5 0 1 0 -35.0 0zM819.8 1334.3a17.5 17.5 0 1 0 35.0 0a17.5 17.5 0 1 0 -35.0 0zM823.0 1333.7a17.5 17.5 0 1 0 35.0 0a17.5 17.5 0 1 0 -35.0 0zM826.2 1333.0a17.5 17.5 0 1 0 35.0 0a17.5 17.5 0 1 0 -35.0 0zM829.5 1332.3a17.5 17.5 0 1 0 35.0 0a17.5 17.5 0 1 0 -35.0 0zM832.7 1331.6a17.5 17.5 0 1 0 35.0 0a17.5 17.5 0 1 0 -35.0 0zM836.0 1330.9a17.5 17.5 0 1 0 35.0 0a17.5 17.5 0 1 0 -35.0 0zM839.2 1330.3a17.5 17.5 0 1 0 35.0 0a17.5 17.5 0 1 0 -35.0 0zM842.4 1329.6a17.5 17.5 0 1 0 35.0 0a17.5 17.5 0 1 0 -35.0 0zM845.7 1328.9a17.5 17.5 0 1 0 35.0 0a17.5 17.5 0 1 0 -35.0 0zM848.9 1328.2a17.5 17.5 0 1 0 35.0 0a17.5 17.5 0 1 0 -35.0 0zM852.1 1327.5a17.5 17.5 0 1 0 35.0 0a17.5 17.5 0 1 0 -35.0 0zM855.4 1326.8a17.5 17.5 0 1 0 35.0 0a17.5 17.5 0 1 0 -35.0 0zM858.6 1326.1a17.5 17.5 0 1 0 35.0 0a17.5 17.5 0 1 0 -35.0 0zM861.8 1325.4a17.5 17.5 0 1 0 35.0 0a17.5 17.5 0 1 0 -35.0 0zM865.1 1324.8a17.5 17.5 0 1 0 35.0 0a17.5 17.5 0 1 0 -35.0 0zM868.3 1324.1a17.5 17.5 0 1 0 35.0 0a17.5 17.5 0 1 0 -35.0 0zM871.6 1323.5a17.5 17.5 0 1 0 35.0 0a17.5 17.5 0 1 0 -35.0 0zM874.8 1322.8a17.5 17.5 0 1 0 35.0 0a17.5 17.5 0 1 0 -35.0 0zM878.0 1322.2a17.5 17.5 0 1 0 35.0 0a17.5 17.5 0 1 0 -35.0 0zM881.3 1321.5a17.5 17.5 0 1 0 35.0 0a17.5 17.5 0 1 0 -35.0 0zM884.5 1320.8a17.5 17.5 0 1 0 35.0 0a17.5 17.5 0 1 0 -35.0 0zM887.7 1320.2a17.5 17.5 0 1 0 35.0 0a17.5 17.5 0 1 0 -35.0 0zM891.0 1319.5a17.5 17.5 0 1 0 35.0 0a17.5 17.5 0 1 0 -35.0 0zM894.2 1318.8a17.5 17.5 0 1 0 35.0 0a17.5 17.5 0 1 0 -35.0 0zM897.5 1318.2a17.5 17.5 0 1 0 35.0 0a17.5 17.5 0 1 0 -35.0 0zM900.7 1317.5a17.5 17.5 0 1 0 35.0 0a17.5 17.5 0 1 0 -35.0 0zM903.9 1316.9a17.5 17.5 0 1 0 35.0 0a17.5 17.5 0 1 0 -35.0 0zM907.2 1316.2a17.5 17.5 0 1 0 35.0 0a17.5 17.5 0 1 0 -35.0 0zM910.4 1315.5a17.5 17.5 0 1 0 35.0 0a17.5 17.5 0 1 0 -35.0 0zM913.6 1314.9a17.5 17.5 0 1 0 35.0 0a17.5 17.5 0 1 0 -35.0 0zM916.9 1314.2a17.5 17.5 0 1 0 35.0 0a17.5 17.5 0 1 0 -35.0 0zM920.1 1313.6a17.5 17.5 0 1 0 35.0 0a17.5 17.5 0 1 0 -35.0 0zM923.4 1313.0a17.5 17.5 0 1 0 35.0 0a17.5 17.5 0 1 0 -35.0 0zM926.6 1312.4a17.5 17.5 0 1 0 35.0 0a17.5 17.5 0 1 0 -35.0 0zM929.8 1311.8a17.5 17.5 0 1 0 35.0 0a17.5 17.5 0 1 0 -35.0 0zM933.1 1311.2a17.5 17.5 0 1 0 35.0 0a17.5 17.5 0 1 0 -35.0 0zM936.3 1310.6a17.5 17.5 0 1 0 35.0 0a17.5 17.5 0 1 0 -35.0 0zM939.5 1310.1a17.5 17.5 0 1 0 35.0 0a17.5 17.5 0 1 0 -35.0 0zM942.8 1309.5a17.5 17.5 0 1 0 35.0 0a17.5 17.5 0 1 0 -35.0 0zM946.0 1309.0a17.5 17.5 0 1 0 35.0 0a17.5 17.5 0 1 0 -35.0 0zM949.2 1308.5a17.5 17.5 0 1 0 35.0 0a17.5 17.5 0 1 0 -35.0 0zM952.5 1308.0a17.5 17.5 0 1 0 35.0 0a17.5 17.5 0 1 0 -35.0 0zM955.7 1307.5a17.5 17.5 0 1 0 35.0 0a17.5 17.5 0 1 0 -35.0 0zM959.0 1307.0a17.5 17.5 0 1 0 35.0 0a17.5 17.5 0 1 0 -35.0 0zM962.2 1306.5a17.5 17.5 0 1 0 35.0 0a17.5 17.5 0 1 0 -35.0 0zM965.4 1306.0a17.5 17.5 0 1 0 35.0 0a17.5 17.5 0 1 0 -35.0 0zM968.7 1305.6a17.5 17.5 0 1 0 35.0 0a17.5 17.5 0 1 0 -35.0 0zM971.9 1305.1a17.5 17.5 0 1 0 35.0 0a17.5 17.5 0 1 0 -35.0 0zM975.1 1304.7a17.5 17.5 0 1 0 35.0 0a17.5 17.5 0 1 0 -35.0 0zM978.4 1304.2a17.5 17.5 0 1 0 35.0 0a17.5 17.5 0 1 0 -35.0 0zM981.6 1303.8a17.5 17.5 0 1 0 35.0 0a17.5 17.5 0 1 0 -35.0 0zM984.9 1303.3a17.5 17.5 0 1 0 35.0 0a17.5 17.5 0 1 0 -35.0 0zM988.1 1302.9a17.5 17.5 0 1 0 35.0 0a17.5 17.5 0 1 0 -35.0 0zM991.3 1302.5a17.5 17.5 0 1 0 35.0 0a17.5 17.5 0 1 0 -35.0 0zM994.6 1302.0a17.5 17.5 0 1 0 35.0 0a17.5 17.5 0 1 0 -35.0 0zM997.8 1301.6a17.5 17.5 0 1 0 35.0 0a17.5 17.5 0 1 0 -35.0 0zM1001.0 1301.2a17.5 17.5 0 1 0 35.0 0a17.5 17.5 0 1 0 -35.0 0zM1004.3 1300.7a17.5 17.5 0 1 0 35.0 0a17.5 17.5 0 1 0 -35.0 0zM1007.5 1300.3a17.5 17.5 0 1 0 35.0 0a17.5 17.5 0 1 0 -35.0 0zM1010.8 1299.8a17.5 17.5 0 1 0 35.0 0a17.5 17.5 0 1 0 -35.0 0zM1014.0 1299.4a17.5 17.5 0 1 0 35.0 0a17.5 17.5 0 1 0 -35.0 0zM1017.2 1298.9a17.5 17.5 0 1 0 35.0 0a17.5 17.5 0 1 0 -35.0 0zM1020.5 1298.4a17.5 17.5 0 1 0 35.0 0a17.5 17.5 0 1 0 -35.0 0zM1023.7 1298.0a17.5 17.5 0 1 0 35.0 0a17.5 17.5 0 1 0 -35.0 0zM1026.9 1297.5a17.5 17.5 0 1 0 35.0 0a17.5 17.5 0 1 0 -35.0 0zM1030.2 1297.0a17.5 17.5 0 1 0 35.0 0a17.5 17.5 0 1 0 -35.0 0zM1033.4 1296.5a17.5 17.5 0 1 0 35.0 0a17.5 17.5 0 1 0 -35.0 0zM1036.6 1296.0a17.5 17.5 0 1 0 35.0 0a17.5 17.5 0 1 0 -35.0 0zM1039.9 1295.5a17.5 17.5 0 1 0 35.0 0a17.5 17.5 0 1 0 -35.0 0zM1043.1 1295.1a17.5 17.5 0 1 0 35.0 0a17.5 17.5 0 1 0 -35.0 0zM1046.4 1294.6a17.5 17.5 0 1 0 35.0 0a17.5 17.5 0 1 0 -35.0 0zM1049.6 1294.1a17.5 17.5 0 1 0 35.0 0a17.5 17.5 0 1 0 -35.0 0zM1052.8 1293.6a17.5 17.5 0 1 0 35.0 0a17.5 17.5 0 1 0 -35.0 0zM1056.1 1293.1a17.5 17.5 0 1 0 35.0 0a17.5 17.5 0 1 0 -35.0 0zM1059.3 1292.7a17.5 17.5 0 1 0 35.0 0a17.5 17.5 0 1 0 -35.0 0zM1062.5 1292.2a17.5 17.5 0 1 0 35.0 0a17.5 17.5 0 1 0 -35.0 0zM1065.8 1291.7a17.5 17.5 0 1 0 35.0 0a17.5 17.5 0 1 0 -35.0 0zM1069.0 1291.2a17.5 17.5 0 1 0 35.0 0a17.5 17.5 0 1 0 -35.0 0zM1072.3 1290.7a17.5 17.5 0 1 0 35.0 0a17.5 17.5 0 1 0 -35.0 0zM1075.5 1290.3a17.5 17.5 0 1 0 35.0 0a17.5 17.5 0 1 0 -35.0 0zM1078.7 1289.8a17.5 17.5 0 1 0 35.0 0a17.5 17.5 0 1 0 -35.0 0zM1082.0 1289.3a17.5 17.5 0 1 0 35.0 0a17.5 17.5 0 1 0 -35.0 0zM1085.2 1288.9a17.5 17.5 0 1 0 35.0 0a17.5 17.5 0 1 0 -35.0 0zM1088.5 1288.4a17.5 17.5 0 1 0 35.0 0a17.5 17.5 0 1 0 -35.0 0zM1091.7 1287.9a17.5 17.5 0 1 0 35.0 0a17.5 17.5 0 1 0 -35.0 0zM1094.9 1287.5a17.5 17.5 0 1 0 35.0 0a17.5 17.5 0 1 0 -35.0 0zM1098.2 1287.0a17.5 17.5 0 1 0 35.0 0a17.5 17.5 0 1 0 -35.0 0zM1101.4 1286.5a17.5 17.5 0 1 0 35.0 0a17.5 17.5 0 1 0 -35.0 0zM1104.6 1286.0a17.5 17.5 0 1 0 35.0 0a17.5 17.5 0 1 0 -35.0 0zM1107.9 1285.6a17.5 17.5 0 1 0 35.0 0a17.5 17.5 0 1 0 -35.0 0zM1111.1 1285.1a17.5 17.5 0 1 0 35.0 0a17.5 17.5 0 1 0 -35.0 0zM1114.4 1284.7a17.5 17.5 0 1 0 35.0 0a17.5 17.5 0 1 0 -35.0 0zM1117.6 1284.2a17.5 17.5 0 1 0 35.0 0a17.5 17.5 0 1 0 -35.0 0zM1120.8 1283.7a17.5 17.5 0 1 0 35.0 0a17.5 17.5 0 1 0 -35.0 0zM1124.1 1283.3a17.5 17.5 0 1 0 35.0 0a17.5 17.5 0 1 0 -35.0 0zM1127.3 1282.8a17.5 17.5 0 1 0 35.0 0a17.5 17.5 0 1 0 -35.0 0zM1130.5 1282.3a17.5 17.5 0 1 0 35.0 0a17.5 17.5 0 1 0 -35.0 0zM1133.8 1281.9a17.5 17.5 0 1 0 35.0 0a17.5 17.5 0 1 0 -35.0 0zM1137.0 1281.4a17.5 17.5 0 1 0 35.0 0a17.5 17.5 0 1 0 -35.0 0zM1140.3 1281.0a17.5 17.5 0 1 0 35.0 0a17.5 17.5 0 1 0 -35.0 0zM1143.5 1280.5a17.5 17.5 0 1 0 35.0 0a17.5 17.5 0 1 0 -35.0 0zM1146.7 1280.0a17.5 17.5 0 1 0 35.0 0a17.5 17.5 0 1 0 -35.0 0zM1150.0 1279.6a17.5 17.5 0 1 0 35.0 0a17.5 17.5 0 1 0 -35.0 0zM1153.2 1279.1a17.5 17.5 0 1 0 35.0 0a17.5 17.5 0 1 0 -35.0 0zM1156.4 1278.7a17.5 17.5 0 1 0 35.0 0a17.5 17.5 0 1 0 -35.0 0zM1159.7 1278.2a17.5 17.5 0 1 0 35.0 0a17.5 17.5 0 1 0 -35.0 0zM1162.9 1277.8a17.5 17.5 0 1 0 35.0 0a17.5 17.5 0 1 0 -35.0 0zM1166.1 1277.3a17.5 17.5 0 1 0 35.0 0a17.5 17.5 0 1 0 -35.0 0zM1169.4 1276.8a17.5 17.5 0 1 0 35.0 0a17.5 17.5 0 1 0 -35.0 0zM1172.6 1276.4a17.5 17.5 0 1 0 35.0 0a17.5 17.5 0 1 0 -35.0 0zM1175.9 1275.9a17.5 17.5 0 1 0 35.0 0a17.5 17.5 0 1 0 -35.0 0zM1179.1 1275.4a17.5 17.5 0 1 0 35.0 0a17.5 17.5 0 1 0 -35.0 0zM1182.3 1275.0a17.5 17.5 0 1 0 35.0 0a17.5 17.5 0 1 0 -35.0 0zM1185.6 1274.5a17.5 17.5 0 1 0 35.0 0a17.5 17.5 0 1 0 -35.0 0zM1188.8 1274.0a17.5 17.5 0 1 0 35.0 0a17.5 17.5 0 1 0 -35.0 0zM1192.0 1273.6a17.5 17.5 0 1 0 35.0 0a17.5 17.5 0 1 0 -35.0 0zM1195.3 1273.1a17.5 17.5 0 1 0 35.0 0a17.5 17.5 0 1 0 -35.0 0zM1198.5 1272.6a17.5 17.5 0 1 0 35.0 0a17.5 17.5 0 1 0 -35.0 0zM1201.8 1272.1a17.5 17.5 0 1 0 35.0 0a17.5 17.5 0 1 0 -35.0 0zM1205.0 1271.7a17.5 17.5 0 1 0 35.0 0a17.5 17.5 0 1 0 -35.0 0zM1208.2 1271.2a17.5 17.5 0 1 0 35.0 0a17.5 17.5 0 1 0 -35.0 0zM1211.5 1270.8a17.5 17.5 0 1 0 35.0 0a17.5 17.5 0 1 0 -35.0 0zM1214.7 1270.3a17.5 17.5 0 1 0 35.0 0a17.5 17.5 0 1 0 -35.0 0zM1217.9 1269.8a17.5 17.5 0 1 0 35.0 0a17.5 17.5 0 1 0 -35.0 0zM1221.2 1269.4a17.5 17.5 0 1 0 35.0 0a17.5 17.5 0 1 0 -35.0 0zM1224.4 1269.0a17.5 17.5 0 1 0 35.0 0a17.5 17.5 0 1 0 -35.0 0zM1227.7 1268.6a17.5 17.5 0 1 0 35.0 0a17.5 17.5 0 1 0 -35.0 0zM1230.9 1268.1a17.5 17.5 0 1 0 35.0 0a17.5 17.5 0 1 0 -35.0 0zM1234.1 1267.7a17.5 17.5 0 1 0 35.0 0a17.5 17.5 0 1 0 -35.0 0zM1237.4 1267.3a17.5 17.5 0 1 0 35.0 0a17.5 17.5 0 1 0 -35.0 0zM1240.6 1266.9a17.5 17.5 0 1 0 35.0 0a17.5 17.5 0 1 0 -35.0 0zM1243.8 1266.6a17.5 17.5 0 1 0 35.0 0a17.5 17.5 0 1 0 -35.0 0zM1247.1 1266.2a17.5 17.5 0 1 0 35.0 0a17.5 17.5 0 1 0 -35.0 0zM1250.3 1265.8a17.5 17.5 0 1 0 35.0 0a17.5 17.5 0 1 0 -35.0 0zM1253.5 1265.5a17.5 17.5 0 1 0 35.0 0a17.5 17.5 0 1 0 -35.0 0zM1256.8 1265.1a17.5 17.5 0 1 0 35.0 0a17.5 17.5 0 1 0 -35.0 0zM1260.0 1264.7a17.5 17.5 0 1 0 35.0 0a17.5 17.5 0 1 0 -35.0 0zM1263.3 1264.4a17.5 17.5 0 1 0 35.0 0a17.5 17.5 0 1 0 -35.0 0zM1266.5 1264.0a17.5 17.5 0 1 0 35.0 0a17.5 17.5 0 1 0 -35.0 0zM1269.7 1263.7a17.5 17.5 0 1 0 35.0 0a17.5 17.5 0 1 0 -35.0 0zM1273.0 1263.3a17.5 17.5 0 1 0 35.0 0a17.5 17.5 0 1 0 -35.0 0zM1276.2 1263.0a17.5 17.5 0 1 0 35.0 0a17.5 17.5 0 1 0 -35.0 0zM1279.4 1262.6a17.5 17.5 0 1 0 35.0 0a17.5 17.5 0 1 0 -35.0 0zM1282.7 1262.3a17.5 17.5 0 1 0 35.0 0a17.5 17.5 0 1 0 -35.0 0zM1285.9 1261.9a17.5 17.5 0 1 0 35.0 0a17.5 17.5 0 1 0 -35.0 0zM1289.2 1261.6a17.5 17.5 0 1 0 35.0 0a17.5 17.5 0 1 0 -35.0 0zM1292.4 1261.2a17.5 17.5 0 1 0 35.0 0a17.5 17.5 0 1 0 -35.0 0zM1295.6 1260.9a17.5 17.5 0 1 0 35.0 0a17.5 17.5 0 1 0 -35.0 0zM1298.9 1260.5a17.5 17.5 0 1 0 35.0 0a17.5 17.5 0 1 0 -35.0 0zM1302.1 1260.1a17.5 17.5 0 1 0 35.0 0a17.5 17.5 0 1 0 -35.0 0zM1305.3 1259.7a17.5 17.5 0 1 0 35.0 0a17.5 17.5 0 1 0 -35.0 0zM1308.6 1259.3a17.5 17.5 0 1 0 35.0 0a17.5 17.5 0 1 0 -35.0 0zM1311.8 1258.9a17.5 17.5 0 1 0 35.0 0a17.5 17.5 0 1 0 -35.0 0zM1315.1 1258.4a17.5 17.5 0 1 0 35.0 0a17.5 17.5 0 1 0 -35.0 0zM1318.3 1258.0a17.5 17.5 0 1 0 35.0 0a17.5 17.5 0 1 0 -35.0 0zM1321.5 1257.6a17.5 17.5 0 1 0 35.0 0a17.5 17.5 0 1 0 -35.0 0zM1324.8 1257.1a17.5 17.5 0 1 0 35.0 0a17.5 17.5 0 1 0 -35.0 0zM1328.0 1256.7a17.5 17.5 0 1 0 35.0 0a17.5 17.5 0 1 0 -35.0 0zM1331.2 1256.2a17.5 17.5 0 1 0 35.0 0a17.5 17.5 0 1 0 -35.0 0zM1334.5 1255.7a17.5 17.5 0 1 0 35.0 0a17.5 17.5 0 1 0 -35.0 0zM1337.7 1255.3a17.5 17.5 0 1 0 35.0 0a17.5 17.5 0 1 0 -35.0 0zM1340.9 1254.8a17.5 17.5 0 1 0 35.0 0a17.5 17.5 0 1 0 -35.0 0zM1344.2 1254.3a17.5 17.5 0 1 0 35.0 0a17.5 17.5 0 1 0 -35.0 0zM1347.4 1253.8a17.5 17.5 0 1 0 35.0 0a17.5 17.5 0 1 0 -35.0 0zM1350.7 1253.3a17.5 17.5 0 1 0 35.0 0a17.5 17.5 0 1 0 -35.0 0zM1353.9 1252.8a17.5 17.5 0 1 0 35.0 0a17.5 17.5 0 1 0 -35.0 0zM1357.1 1252.4a17.5 17.5 0 1 0 35.0 0a17.5 17.5 0 1 0 -35.0 0zM1360.4 1251.9a17.5 17.5 0 1 0 35.0 0a17.5 17.5 0 1 0 -35.0 0zM1363.6 1251.4a17.5 17.5 0 1 0 35.0 0a17.5 17.5 0 1 0 -35.0 0zM1366.8 1250.9a17.5 17.5 0 1 0 35.0 0a17.5 17.5 0 1 0 -35.0 0zM1370.1 1250.5a17.5 17.5 0 1 0 35.0 0a17.5 17.5 0 1 0 -35.0 0zM1373.3 1250.0a17.5 17.5 0 1 0 35.0 0a17.5 17.5 0 1 0 -35.0 0zM1376.6 1249.5a17.5 17.5 0 1 0 35.0 0a17.5 17.5 0 1 0 -35.0 0zM1379.8 1249.1a17.5 17.5 0 1 0 35.0 0a17.5 17.5 0 1 0 -35.0 0zM1383.0 1248.7a17.5 17.5 0 1 0 35.0 0a17.5 17.5 0 1 0 -35.0 0zM1386.3 1248.3a17.5 17.5 0 1 0 35.0 0a17.5 17.5 0 1 0 -35.0 0zM1389.5 1247.9a17.5 17.5 0 1 0 35.0 0a17.5 17.5 0 1 0 -35.0 0zM1392.7 1247.4a17.5 17.5 0 1 0 35.0 0a17.5 17.5 0 1 0 -35.0 0zM1396.0 1247.0a17.5 17.5 0 1 0 35.0 0a17.5 17.5 0 1 0 -35.0 0zM1399.2 1246.6a17.5 17.5 0 1 0 35.0 0a17.5 17.5 0 1 0 -35.0 0zM1402.5 1246.2a17.5 17.5 0 1 0 35.0 0a17.5 17.5 0 1 0 -35.0 0zM1405.7 1245.8a17.5 17.5 0 1 0 35.0 0a17.5 17.5 0 1 0 -35.0 0zM1408.9 1245.4a17.5 17.5 0 1 0 35.0 0a17.5 17.5 0 1 0 -35.0 0zM1412.2 1245.0a17.5 17.5 0 1 0 35.0 0a17.5 17.5 0 1 0 -35.0 0zM1415.4 1244.6a17.5 17.5 0 1 0 35.0 0a17.5 17.5 0 1 0 -35.0 0zM1418.6 1244.2a17.5 17.5 0 1 0 35.0 0a17.5 17.5 0 1 0 -35.0 0zM1421.9 1243.8a17.5 17.5 0 1 0 35.0 0a17.5 17.5 0 1 0 -35.0 0zM1425.1 1243.4a17.5 17.5 0 1 0 35.0 0a17.5 17.5 0 1 0 -35.0 0zM1428.3 1243.0a17.5 17.5 0 1 0 35.0 0a17.5 17.5 0 1 0 -35.0 0zM1431.6 1242.6a17.5 17.5 0 1 0 35.0 0a17.5 17.5 0 1 0 -35.0 0zM1434.8 1242.2a17.5 17.5 0 1 0 35.0 0a17.5 17.5 0 1 0 -35.0 0zM1438.1 1241.8a17.5 17.5 0 1 0 35.0 0a17.5 17.5 0 1 0 -35.0 0zM1441.3 1241.4a17.5 17.5 0 1 0 35.0 0a17.5 17.5 0 1 0 -35.0 0zM1444.5 1240.9a17.5 17.5 0 1 0 35.0 0a17.5 17.5 0 1 0 -35.0 0zM1447.8 1240.5a17.5 17.5 0 1 0 35.0 0a17.5 17.5 0 1 0 -35.0 0zM1451.0 1240.0a17.5 17.5 0 1 0 35.0 0a17.5 17.5 0 1 0 -35.0 0zM1454.2 1239.6a17.5 17.5 0 1 0 35.0 0a17.5 17.5 0 1 0 -35.0 0zM1457.5 1239.1a17.5 17.5 0 1 0 35.0 0a17.5 17.5 0 1 0 -35.0 0zM1460.7 1238.6a17.5 17.5 0 1 0 35.0 0a17.5 17.5 0 1 0 -35.0 0zM1464.0 1238.1a17.5 17.5 0 1 0 35.0 0a17.5 17.5 0 1 0 -35.0 0zM1467.2 1237.6a17.5 17.5 0 1 0 35.0 0a17.5 17.5 0 1 0 -35.0 0zM1470.4 1237.0a17.5 17.5 0 1 0 35.0 0a17.5 17.5 0 1 0 -35.0 0zM1473.7 1236.5a17.5 17.5 0 1 0 35.0 0a17.5 17.5 0 1 0 -35.0 0zM1476.9 1236.0a17.5 17.5 0 1 0 35.0 0a17.5 17.5 0 1 0 -35.0 0zM1480.1 1235.4a17.5 17.5 0 1 0 35.0 0a17.5 17.5 0 1 0 -35.0 0zM1483.4 1234.9a17.5 17.5 0 1 0 35.0 0a17.5 17.5 0 1 0 -35.0 0zM1486.6 1234.3a17.5 17.5 0 1 0 35.0 0a17.5 17.5 0 1 0 -35.0 0zM1489.9 1233.8a17.5 17.5 0 1 0 35.0 0a17.5 17.5 0 1 0 -35.0 0zM1493.1 1233.2a17.5 17.5 0 1 0 35.0 0a17.5 17.5 0 1 0 -35.0 0zM1496.3 1232.6a17.5 17.5 0 1 0 35.0 0a17.5 17.5 0 1 0 -35.0 0zM1499.6 1232.0a17.5 17.5 0 1 0 35.0 0a17.5 17.5 0 1 0 -35.0 0zM1502.8 1231.5a17.5 17.5 0 1 0 35.0 0a17.5 17.5 0 1 0 -35.0 0zM1506.0 1230.9a17.5 17.5 0 1 0 35.0 0a17.5 17.5 0 1 0 -35.0 0zM1509.3 1230.3a17.5 17.5 0 1 0 35.0 0a17.5 17.5 0 1 0 -35.0 0zM1512.5 1229.7a17.5 17.5 0 1 0 35.0 0a17.5 17.5 0 1 0 -35.0 0zM1515.7 1229.1a17.5 17.5 0 1 0 35.0 0a17.5 17.5 0 1 0 -35.0 0zM1519.0 1228.5a17.5 17.5 0 1 0 35.0 0a17.5 17.5 0 1 0 -35.0 0zM1522.2 1227.8a17.5 17.5 0 1 0 35.0 0a17.5 17.5 0 1 0 -35.0 0zM1525.5 1227.2a17.5 17.5 0 1 0 35.0 0a17.5 17.5 0 1 0 -35.0 0zM1528.7 1226.6a17.5 17.5 0 1 0 35.0 0a17.5 17.5 0 1 0 -35.0 0zM1531.9 1226.0a17.5 17.5 0 1 0 35.0 0a17.5 17.5 0 1 0 -35.0 0zM1535.2 1225.4a17.5 17.5 0 1 0 35.0 0a17.5 17.5 0 1 0 -35.0 0zM1538.4 1224.8a17.5 17.5 0 1 0 35.0 0a17.5 17.5 0 1 0 -35.0 0zM1541.6 1224.2a17.5 17.5 0 1 0 35.0 0a17.5 17.5 0 1 0 -35.0 0zM1544.9 1223.6a17.5 17.5 0 1 0 35.0 0a17.5 17.5 0 1 0 -35.0 0zM1548.1 1222.9a17.5 17.5 0 1 0 35.0 0a17.5 17.5 0 1 0 -35.0 0zM1551.4 1222.3a17.5 17.5 0 1 0 35.0 0a17.5 17.5 0 1 0 -35.0 0zM1554.6 1221.7a17.5 17.5 0 1 0 35.0 0a17.5 17.5 0 1 0 -35.0 0zM1557.8 1221.0a17.5 17.5 0 1 0 35.0 0a17.5 17.5 0 1 0 -35.0 0zM1561.1 1220.4a17.5 17.5 0 1 0 35.0 0a17.5 17.5 0 1 0 -35.0 0zM1564.3 1219.7a17.5 17.5 0 1 0 35.0 0a17.5 17.5 0 1 0 -35.0 0zM1567.5 1219.0a17.5 17.5 0 1 0 35.0 0a17.5 17.5 0 1 0 -35.0 0zM1570.8 1218.3a17.5 17.5 0 1 0 35.0 0a17.5 17.5 0 1 0 -35.0 0zM1574.0 1217.7a17.5 17.5 0 1 0 35.0 0a17.5 17.5 0 1 0 -35.0 0zM1577.3 1216.9a17.5 17.5 0 1 0 35.0 0a17.5 17.5 0 1 0 -35.0 0zM1580.5 1216.2a17.5 17.5 0 1 0 35.0 0a17.5 17.5 0 1 0 -35.0 0zM1583.7 1215.5a17.5 17.5 0 1 0 35.0 0a17.5 17.5 0 1 0 -35.0 0zM1587.0 1214.7a17.5 17.5 0 1 0 35.0 0a17.5 17.5 0 1 0 -35.0 0zM1590.2 1213.9a17.5 17.5 0 1 0 35.0 0a17.5 17.5 0 1 0 -35.0 0zM1593.4 1213.1a17.5 17.5 0 1 0 35.0 0a17.5 17.5 0 1 0 -35.0 0zM1596.7 1212.3a17.5 17.5 0 1 0 35.0 0a17.5 17.5 0 1 0 -35.0 0zM1599.9 1211.4a17.5 17.5 0 1 0 35.0 0a17.5 17.5 0 1 0 -35.0 0zM1603.1 1210.5a17.5 17.5 0 1 0 35.0 0a17.5 17.5 0 1 0 -35.0 0zM1606.4 1209.6a17.5 17.5 0 1 0 35.0 0a17.5 17.5 0 1 0 -35.0 0zM1609.6 1208.6a17.5 17.5 0 1 0 35.0 0a17.5 17.5 0 1 0 -35.0 0zM1612.9 1207.6a17.5 17.5 0 1 0 35.0 0a17.5 17.5 0 1 0 -35.0 0zM1616.1 1206.6a17.5 17.5 0 1 0 35.0 0a17.5 17.5 0 1 0 -35.0 0zM1619.3 1205.7a17.5 17.5 0 1 0 35.0 0a17.5 17.5 0 1 0 -35.0 0zM1622.6 1204.7a17.5 17.5 0 1 0 35.0 0a17.5 17.5 0 1 0 -35.0 0zM1625.8 1203.9a17.5 17.5 0 1 0 35.0 0a17.5 17.5 0 1 0 -35.0 0zM1629.0 1203.0a17.5 17.5 0 1 0 35.0 0a17.5 17.5 0 1 0 -35.0 0zM1632.3 1202.1a17.5 17.5 0 1 0 35.0 0a17.5 17.5 0 1 0 -35.0 0zM1635.5 1201.3a17.5 17.5 0 1 0 35.0 0a17.5 17.5 0 1 0 -35.0 0zM1638.8 1200.4a17.5 17.5 0 1 0 35.0 0a17.5 17.5 0 1 0 -35.0 0zM1642.0 1199.5a17.5 17.5 0 1 0 35.0 0a17.5 17.5 0 1 0 -35.0 0zM1645.2 1198.7a17.5 17.5 0 1 0 35.0 0a17.5 17.5 0 1 0 -35.0 0zM1648.5 1197.8a17.5 17.5 0 1 0 35.0 0a17.5 17.5 0 1 0 -35.0 0zM1651.7 1196.9a17.5 17.5 0 1 0 35.0 0a17.5 17.5 0 1 0 -35.0 0zM1654.9 1196.0a17.5 17.5 0 1 0 35.0 0a17.5 17.5 0 1 0 -35.0 0zM1658.2 1195.0a17.5 17.5 0 1 0 35.0 0a17.5 17.5 0 1 0 -35.0 0zM1661.4 1194.0a17.5 17.5 0 1 0 35.0 0a17.5 17.5 0 1 0 -35.0 0zM1664.7 1192.9a17.5 17.5 0 1 0 35.0 0a17.5 17.5 0 1 0 -35.0 0zM1667.9 1191.7a17.5 17.5 0 1 0 35.0 0a17.5 17.5 0 1 0 -35.0 0zM1671.1 1190.6a17.5 17.5 0 1 0 35.0 0a17.5 17.5 0 1 0 -35.0 0zM1674.4 1189.4a17.5 17.5 0 1 0 35.0 0a17.5 17.5 0 1 0 -35.0 0zM1677.6 1188.1a17.5 17.5 0 1 0 35.0 0a17.5 17.5 0 1 0 -35.0 0zM1680.8 1186.8a17.5 17.5 0 1 0 35.0 0a17.5 17.5 0 1 0 -35.0 0zM1684.1 1185.4a17.5 17.5 0 1 0 35.0 0a17.5 17.5 0 1 0 -35.0 0zM1687.3 1184.0a17.5 17.5 0 1 0 35.0 0a17.5 17.5 0 1 0 -35.0 0zM1690.5 1182.6a17.5 17.5 0 1 0 35.0 0a17.5 17.5 0 1 0 -35.0 0zM1693.8 1181.1a17.5 17.5 0 1 0 35.0 0a17.5 17.5 0 1 0 -35.0 0zM1697.0 1179.5a17.5 17.5 0 1 0 35.0 0a17.5 17.5 0 1 0 -35.0 0zM1700.3 1177.9a17.5 17.5 0 1 0 35.0 0a17.5 17.5 0 1 0 -35.0 0zM1703.5 1176.3a17.5 17.5 0 1 0 35.0 0a17.5 17.5 0 1 0 -35.0 0zM1706.7 1174.7a17.5 17.5 0 1 0 35.0 0a17.5 17.5 0 1 0 -35.0 0zM1710.0 1173.1a17.5 17.5 0 1 0 35.0 0a17.5 17.5 0 1 0 -35.0 0zM1713.2 1171.4a17.5 17.5 0 1 0 35.0 0a17.5 17.5 0 1 0 -35.0 0zM1716.4 1169.6a17.5 17.5 0 1 0 35.0 0a17.5 17.5 0 1 0 -35.0 0zM1719.7 1167.6a17.5 17.5 0 1 0 35.0 0a17.5 17.5 0 1 0 -35.0 0zM1722.9 1165.4a17.5 17.5 0 1 0 35.0 0a17.5 17.5 0 1 0 -35.0 0zM1726.2 1162.8a17.5 17.5 0 1 0 35.0 0a17.5 17.5 0 1 0 -35.0 0zM1729.4 1159.9a17.5 17.5 0 1 0 35.0 0a17.5 17.5 0 1 0 -35.0 0zM1732.6 1156.7a17.5 17.5 0 1 0 35.0 0a17.5 17.5 0 1 0 -35.0 0zM1735.9 1153.2a17.5 17.5 0 1 0 35.0 0a17.5 17.5 0 1 0 -35.0 0zM1739.1 1149.5a17.5 17.5 0 1 0 35.0 0a17.5 17.5 0 1 0 -35.0 0zM1742.3 1145.5a17.5 17.5 0 1 0 35.0 0a17.5 17.5 0 1 0 -35.0 0zM1745.6 1141.5a17.5 17.5 0 1 0 35.0 0a17.5 17.5 0 1 0 -35.0 0zM1748.8 1137.2a17.5 17.5 0 1 0 35.0 0a17.5 17.5 0 1 0 -35.0 0zM1752.1 1132.6a17.5 17.5 0 1 0 35.0 0a17.5 17.5 0 1 0 -35.0 0zM1755.3 1127.8a17.5 17.5 0 1 0 35.0 0a17.5 17.5 0 1 0 -35.0 0zM1758.5 1122.5a17.5 17.5 0 1 0 35.0 0a17.5 17.5 0 1 0 -35.0 0zM1761.8 1116.8a17.5 17.5 0 1 0 35.0 0a17.5 17.5 0 1 0 -35.0 0zM1765.0 1110.4a17.5 17.5 0 1 0 35.0 0a17.5 17.5 0 1 0 -35.0 0zM1768.2 1103.2a17.5 17.5 0 1 0 35.0 0a17.5 17.5 0 1 0 -35.0 0zM1771.5 1094.9a17.5 17.5 0 1 0 35.0 0a17.5 17.5 0 1 0 -35.0 0zM1774.7 1085.0a17.5 17.5 0 1 0 35.0 0a17.5 17.5 0 1 0 -35.0 0zM1777.9 1072.9a17.5 17.5 0 1 0 35.0 0a17.5 17.5 0 1 0 -35.0 0zM1781.2 1056.0a17.5 17.5 0 1 0 35.0 0a17.5 17.5 0 1 0 -35.0 0zM1784.4 1041.9a17.5 17.5 0 1 0 35.0 0a17.5 17.5 0 1 0 -35.0 0zM1787.7 1022.0a17.5 17.5 0 1 0 35.0 0a17.5 17.5 0 1 0 -35.0 0zM1790.9 998.6a17.5 17.5 0 1 0 35.0 0a17.5 17.5 0 1 0 -35.0 0zM1794.1 971.1a17.5 17.5 0 1 0 35.0 0a17.5 17.5 0 1 0 -35.0 0zM1797.4 938.0a17.5 17.5 0 1 0 35.0 0a17.5 17.5 0 1 0 -35.0 0zM1800.6 895.3a17.5 17.5 0 1 0 35.0 0a17.5 17.5 0 1 0 -35.0 0zM1803.8 831.5a17.5 17.5 0 1 0 35.0 0a17.5 17.5 0 1 0 -35.0 0z"/>
<path fill="#0000ff" d="M377.6 1382.7l20.5 36h-41zM380.8 1382.7l20.5 36h-41zM384.1 1382.7l20.5 36h-41zM387.3 1382.7l20.5 36h-41zM390.6 1382.7l20.5 36h-41zM393.8 1382.0l20.5 36h-41zM397.0 1380.4l20.5 36h-41zM400.3 1379.0l20.5 36h-41zM403.5 1377.2l20.5 36h-41zM406.7 1375.3l20.5 36h-41zM410.0 1373.5l20.5 36h-41zM413.2 1371.7l20.5 36h-41zM416.5 1369.9l20.5 36h-41zM419.7 1368.7l20.5 36h-41zM422.9 1367.8l20.5 36h-41zM426.2 1367.0l20.5 36h-41zM429.4 1366.2l20.5 36h-41zM432.6 1365.4l20.5 36h-41zM435.9 1364.6l20.5 36h-41zM439.1 1363.9l20.5 36h-41zM442.3 1363.1l20.5 36h-41zM445.6 1362.4l20.5 36h-41zM448.8 1361.7l20.5 36h-41zM452.1 1360.7l20.5 36h-41zM455.3 1359.8l20.5 36h-41zM458.5 1359.0l20.5 36h-41zM461.8 1358.2l20.5 36h-41zM465.0 1357.4l20.5 36h-41zM468.2 1356.7l20.5 36h-41zM471.5 1356.0l20.5 36h-41zM474.7 1355.3l20.5 36h-41zM478.0 1354.6l20.5 36h-41zM481.2 1354.0l20.5 36h-41zM484.4 1353.3l20.5 36h-41zM487.7 1352.7l20.5 36h-41zM490.9 1351.9l20.5 36h-41zM494.1 1351.0l20.5 36h-41zM497.4 1350.1l20.5 36h-41zM500.6 1349.2l20.5 36h-41zM503.9 1348.4l20.5 36h-41zM507.1 1347.5l20.5 36h-41zM510.3 1346.5l20.5 36h-41zM513.6 1345.6l20.5 36h-41zM516.8 1344.6l20.5 36h-41zM520.0 1343.6l20.5 36h-41zM523.3 1342.6l20.5 36h-41zM526.5 1342.1l20.5 36h-41zM529.7 1341.7l20.5 36h-41zM533.0 1341.2l20.5 36h-41zM536.2 1340.7l20.5 36h-41zM539.5 1340.1l20.5 36h-41zM542.7 1339.6l20.5 36h-41zM545.9 1339.0l20.5 36h-41zM549.2 1338.4l20.5 36h-41zM552.4 1337.8l20.5 36h-41zM555.6 1337.2l20.5 36h-41zM558.9 1336.5l20.5 36h-41zM562.1 1335.5l20.5 36h-41zM565.4 1334.5l20.5 36h-41zM568.6 1333.5l20.5 36h-41zM571.8 1332.4l20.5 36h-41zM575.1 1331.4l20.5 36h-41zM578.3 1330.3l20.5 36h-41zM581.5 1329.2l20.5 36h-41zM584.8 1328.1l20.5 36h-41zM588.0 1327.1l20.5 36h-41zM591.3 1326.0l20.5 36h-41zM594.5 1324.9l20.5 36h-41zM597.7 1323.7l20.5 36h-41zM601.0 1322.6l20.5 36h-41zM604.2 1321.8l20.5 36h-41zM607.4 1321.1l20.5 36h-41zM610.7 1320.4l20.5 36h-41zM613.9 1319.8l20.5 36h-41zM617.1 1319.0l20.5 36h-41zM620.4 1318.3l20.5 36h-41zM623.6 1317.6l20.5 36h-41zM626.9 1316.9l20.5 36h-41zM630.1 1316.1l20.5 36h-41zM633.3 1315.4l20.5 36h-41zM636.6 1314.6l20.5 36h-41zM639.8 1313.9l20.5 36h-41zM643.0 1313.1l20.5 36h-41zM646.3 1312.4l20.5 36h-41zM649.5 1311.6l20.5 36h-41zM652.8 1310.8l20.5 36h-41zM656.0 1310.1l20.5 36h-41zM659.2 1309.4l20.5 36h-41zM662.5 1308.7l20.5 36h-41zM665.7 1308.0l20.5 36h-41zM668.9 1307.4l20.5 36h-41zM672.2 1306.9l20.5 36h-41zM675.4 1306.3l20.5 36h-41zM678.7 1305.7l20.5 36h-41zM681.9 1305.2l20.5 36h-41zM685.1 1304.7l20.5 36h-41zM688.4 1304.0l20.5 36h-41zM691.6 1303.2l20.5 36h-41zM694.8 1302.3l20.5 36h-41zM698.1 1301.5l20.5 36h-41zM701.3 1300.7l20.5 36h-41zM704.5 1299.9l20.5 36h-41zM707.8 1299.1l20.5 36h-41zM711.0 1298.3l20.5 36h-41zM714.3 1297.5l20.5 36h-41zM717.5 1296.7l20.5 36h-41zM720.7 1296.0l20.5 36h-41zM724.0 1295.2l20.5 36h-41zM727.2 1294.5l20.5 36h-41zM730.4 1293.7l20.5 36h-41zM733.7 1292.8l20.5 36h-41zM736.9 1291.9l20.5 36h-41zM740.2 1291.1l20.5 36h-41zM743.4 1290.2l20.5 36h-41zM746.6 1289.3l20.5 36h-41zM749.9 1288.5l20.5 36h-41zM753.1 1287.7l20.5 36h-41zM756.3 1286.9l20.5 36h-41zM759.6 1286.1l20.5 36h-41zM762.8 1285.3l20.5 36h-41zM766.1 1284.5l20.5 36h-41zM769.3 1283.7l20.5 36h-41zM772.5 1283.0l20.5 36h-41zM775.8 1282.3l20.5 36h-41zM779.0 1281.7l20.5 36h-41zM782.2 1281.1l20.5 36h-41zM785.5 1280.5l20.5 36h-41zM788.7 1279.9l20.5 36h-41zM791.9 1279.3l20.5 36h-41zM795.2 1278.7l20.5 36h-41zM798.4 1278.0l20.5 36h-41zM801.7 1277.4l20.5 36h-41zM804.9 1276.7l20.5 36h-41zM808.1 1276.1l20.5 36h-41zM811.4 1275.4l20.5 36h-41zM814.6 1274.7l20.5 36h-41zM817.8 1274.0l20.5 36h-41zM821.1 1273.2l20.5 36h-41zM824.3 1272.4l20.5 36h-41zM827.6 1271.6l20.5 36h-41zM830.8 1270.8l20.5 36h-41zM834.0 1270.0l20.5 36h-41zM837.3 1269.1l20.5 36h-41zM840.5 1268.3l20.5 36h-41zM843.7 1267.4l20.5 36h-41zM847.0 1266.5l20.5 36h-41zM850.2 1265.6l20.5 36h-41zM853.5 1264.7l20.5 36h-41zM856.7 1263.9l20.5 36h-41zM859.9 1263.0l20.5 36h-41zM863.2 1262.1l20.5 36h-41zM866.4 1261.2l20.5 36h-41zM869.6 1260.4l20.5 36h-41zM872.9 1259.6l20.5 36h-41zM876.1 1258.8l20.5 36h-41zM879.3 1258.0l20.5 36h-41zM882.6 1257.2l20.5 36h-41zM885.8 1256.4l20.5 36h-41zM889.1 1255.7l20.5 36h-41zM892.3 1255.0l20.5 36h-41zM895.5 1254.3l20.5 36h-41zM898.8 1253.6l20.5 36h-41zM902.0 1252.9l20.5 36h-41zM905.2 1252.2l20.5 36h-41zM908.5 1251.5l20.5 36h-41zM911.7 1250.8l20.5 36h-41zM915.0 1250.1l20.5 36h-41zM918.2 1249.4l20.5 36h-41zM921.4 1248.8l20.5 36h-41zM924.7 1248.1l20.5 36h-41zM927.9 1247.4l20.5 36h-41zM931.1 1246.8l20.5 36h-41zM934.4 1246.2l20.5 36h-41zM937.6 1245.6l20.5 36h-41zM940.9 1245.0l20.5 36h-41zM944.1 1244.4l20.5 36h-41zM947.3 1243.8l20.5 36h-41zM950.6 1243.3l20.5 36h-41zM953.8 1242.8l20.5 36h-41zM957.0 1242.3l20.5 36h-41zM960.3 1241.8l20.5 36h-41zM963.5 1241.3l20.5 36h-41zM966.7 1240.9l20.5 36h-41zM970.0 1240.5l20.5 36h-41zM973.2 1240.1l20.5 36h-41zM976.5 1239.7l20.5 36h-41zM979.7 1239.4l20.5 36h-41zM982.9 1239.0l20.5 36h-41zM986.2 1238.7l20.5 36h-41zM989.4 1238.4l20.5 36h-41zM992.6 1238.0l20.5 36h-41zM995.9 1237.7l20.5 36h-41zM999.1 1237.4l20.5 36h-41zM1002.4 1237.1l20.5 36h-41zM1005.6 1236.7l20.5 36h-41zM1008.8 1236.4l20.5 36h-41zM1012.1 1236.1l20.5 36h-41zM1015.3 1235.7l20.5 36h-41zM1018.5 1235.3l20.5 36h-41zM1021.8 1234.9l20.5 36h-41zM1025.0 1234.5l20.5 36h-41zM1028.3 1234.1l20.5 36h-41zM1031.5 1233.6l20.5 36h-41zM1034.7 1233.1l20.5 36h-41zM1038.0 1232.5l20.5 36h-41zM1041.2 1231.9l20.5 36h-41zM1044.4 1231.3l20.5 36h-41zM1047.7 1230.6l20.5 36h-41zM1050.9 1229.9l20.5 36h-41zM1054.1 1229.1l20.5 36h-41zM1057.4 1228.3l20.5 36h-41zM1060.6 1227.5l20.5 36h-41zM1063.9 1226.7l20.5 36h-41zM1067.1 1225.9l20.5 36h-41zM1070.3 1225.0l20.5 36h-41zM1073.6 1224.1l20.5 36h-41zM1076.8 1223.3l20.5 36h-41zM1080.0 1222.4l20.5 36h-41zM1083.3 1221.5l20.5 36h-41zM1086.5 1220.6l20.5 36h-41zM1089.8 1219.8l20.5 36h-41zM1093.0 1219.0l20.5 36h-41zM1096.2 1218.2l20.5 36h-41zM1099.5 1217.4l20.5 36h-41zM1102.7 1216.6l20.5 36h-41zM1106.0 1215.9l20.5 36h-41zM1109.2 1215.2l20.5 36h-41zM1112.4 1214.5l20.5 36h-41zM1115.7 1213.9l20.5 36h-41zM1118.9 1213.2l20.5 36h-41zM1122.1 1212.5l20.5 36h-41zM1125.4 1211.8l20.5 36h-41zM1128.6 1211.1l20.5 36h-41zM1131.9 1210.5l20.5 36h-41zM1135.1 1209.8l20.5 36h-41zM1138.3 1209.1l20.5 36h-41zM1141.6 1208.5l20.5 36h-41zM1144.8 1207.8l20.5 36h-41zM1148.0 1207.2l20.5 36h-41zM1151.3 1206.6l20.5 36h-41zM1154.5 1205.9l20.5 36h-41zM1157.8 1205.3l20.5 36h-41zM1161.0 1204.8l20.5 36h-41zM1164.2 1204.2l20.5 36h-41zM1167.5 1203.6l20.5 36h-41zM1170.7 1203.0l20.5 36h-41zM1173.9 1202.5l20.5 36h-41zM1177.2 1202.0l20.5 36h-41zM1180.4 1201.5l20.5 36h-41zM1183.6 1201.0l20.5 36h-41zM1186.9 1200.5l20.5 36h-41zM1190.1 1200.0l20.5 36h-41zM1193.4 1199.6l20.5 36h-41zM1196.6 1199.1l20.5 36h-41zM1199.8 1198.7l20.5 36h-41zM1203.1 1198.2l20.5 36h-41zM1206.3 1197.8l20.5 36h-41zM1209.5 1197.4l20.5 36h-41zM1212.8 1197.0l20.5 36h-41zM1216.0 1196.6l20.5 36h-41zM1219.3 1196.1l20.5 36h-41zM1222.5 1195.7l20.5 36h-41zM1225.7 1195.3l20.5 36h-41zM1229.0 1194.9l20.5 36h-41zM1232.2 1194.5l20.5 36h-41zM1235.4 1194.1l20.5 36h-41zM1238.7 1193.7l20.5 36h-41zM1241.9 1193.3l20.5 36h-41zM1245.2 1192.8l20.5 36h-41zM1248.4 1192.4l20.5 36h-41zM1251.6 1192.0l20.5 36h-41zM1254.9 1191.5l20.5 36h-41zM1258.1 1191.1l20.5 36h-41zM1261.3 1190.6l20.5 36h-41zM1264.6 1190.2l20.5 36h-41zM1267.8 1189.7l20.5 36h-41zM1271.0 1189.3l20.5 36h-41zM1274.3 1188.8l20.5 36h-41zM1277.5 1188.3l20.5 36h-41zM1280.8 1187.9l20.5 36h-41zM1284.0 1187.4l20.5 36h-41zM1287.2 1186.9l20.5 36h-41zM1290.5 1186.5l20.5 36h-41zM1293.7 1186.0l20.5 36h-41zM1296.9 1185.6l20.5 36h-41zM1300.2 1185.1l20.5 36h-41zM1303.4 1184.6l20.5 36h-41zM1306.7 1184.1l20.5 36h-41zM1309.9 1183.7l20.5 36h-41zM1313.1 1183.2l20.5 36h-41zM1316.4 1182.7l20.5 36h-41zM1319.6 1182.3l20.5 36h-41zM1322.8 1181.8l20.5 36h-41zM1326.1 1181.4l20.5 36h-41zM1329.3 1180.9l20.5 36h-41zM1332.6 1180.4l20.5 36h-41zM1335.8 1180.0l20.5 36h-41zM1339.0 1179.5l20.5 36h-41zM1342.3 1179.1l20.5 36h-41zM1345.5 1178.6l20.5 36h-41zM1348.7 1178.2l20.5 36h-41zM1352.0 1177.7l20.5 36h-41zM1355.2 1177.3l20.5 36h-41zM1358.4 1176.8l20.5 36h-41zM1361.7 1176.4l20.5 36h-41zM1364.9 1175.9l20.5 36h-41zM1368.2 1175.4l20.5 36h-41zM1371.4 1175.0l20.5 36h-41zM1374.6 1174.5l20.5 36h-41zM1377.9 1174.1l20.5 36h-41zM1381.1 1173.6l20.5 36h-41zM1384.3 1173.1l20.5 36h-41zM1387.6 1172.7l20.5 36h-41zM1390.8 1172.2l20.5 36h-41zM1394.1 1171.7l20.5 36h-41zM1397.3 1171.2l20.5 36h-41zM1400.5 1170.7l20.5 36h-41zM1403.8 1170.2l20.5 36h-41zM1407.0 1169.7l20.5 36h-41zM1410.2 1169.2l20.5 36h-41zM1413.5 1168.7l20.5 36h-41zM1416.7 1168.2l20.5 36h-41zM1420.0 1167.6l20.5 36h-41zM1423.2 1167.1l20.5 36h-41zM1426.4 1166.6l20.5 36h-41zM1429.7 1166.0l20.5 36h-41zM1432.9 1165.5l20.5 36h-41zM1436.1 1165.0l20.5 36h-41zM1439.4 1164.4l20.5 36h-41zM1442.6 1163.9l20.5 36h-41zM1445.8 1163.3l20.5 36h-41zM1449.1 1162.8l20.5 36h-41zM1452.3 1162.3l20.5 36h-41zM1455.6 1161.7l20.5 36h-41zM1458.8 1161.2l20.5 36h-41zM1462.0 1160.6l20.5 36h-41zM1465.3 1160.1l20.5 36h-41zM1468.5 1159.6l20.5 36h-41zM1471.7 1159.0l20.5 36h-41zM1475.0 1158.5l20.5 36h-41zM1478.2 1158.0l20.5 36h-41zM1481.5 1157.5l20.5 36h-41zM1484.7 1156.9l20.5 36h-41zM1487.9 1156.4l20.5 36h-41zM1491.2 1155.9l20.5 36h-41zM1494.4 1155.4l20.5 36h-41zM1497.6 1154.8l20.5 36h-41zM1500.9 1154.3l20.5 36h-41zM1504.1 1153.8l20.5 36h-41zM1507.4 1153.2l20.5 36h-41zM1510.6 1152.7l20.5 36h-41zM1513.8 1152.1l20.5 36h-41zM1517.1 1151.6l20.5 36h-41zM1520.3 1151.1l20.5 36h-41zM1523.5 1150.5l20.5 36h-41zM1526.8 1149.9l20.5 36h-41zM1530.0 1149.4l20.5 36h-41zM1533.2 1148.8l20.5 36h-41zM1536.5 1148.2l20.5 36h-41zM1539.7 1147.6l20.5 36h-41zM1543.0 1147.0l20.5 36h-41zM1546.2 1146.3l20.5 36h-41zM1549.4 1145.7l20.5 36h-41zM1552.7 1145.0l20.5 36h-41zM1555.9 1144.3l20.5 36h-41zM1559.1 1143.6l20.5 36h-41zM1562.4 1142.9l20.5 36h-41zM1565.6 1142.3l20.5 36h-41zM1568.9 1141.5l20.5 36h-41zM1572.1 1140.8l20.5 36h-41zM1575.3 1140.1l20.5 36h-41zM1578.6 1139.3l20.5 36h-41zM1581.8 1138.6l20.5 36h-41zM1585.0 1137.8l20.5 36h-41zM1588.3 1137.0l20.5 36h-41zM1591.5 1136.2l20.5 36h-41zM1594.8 1135.4l20.5 36h-41zM1598.0 1134.5l20.5 36h-41zM1601.2 1133.7l20.5 36h-41zM1604.5 1132.9l20.5 36h-41zM1607.7 1132.0l20.5 36h-41zM1610.9 1131.2l20.5 36h-41zM1614.2 1130.3l20.5 36h-41zM1617.4 1129.4l20.5 36h-41zM1620.6 1128.5l20.5 36h-41zM1623.9 1127.6l20.5 36h-41zM1627.1 1126.7l20.5 36h-41zM1630.4 1125.8l20.5 36h-41zM1633.6 1124.8l20.5 36h-41zM1636.8 1123.9l20.5 36h-41zM1640.1 1122.9l20.5 36h-41zM1643.3 1121.9l20.5 36h-41zM1646.5 1120.9l20.5 36h-41zM1649.8 1119.9l20.5 36h-41zM1653.0 1118.8l20.5 36h-41zM1656.3 1117.7l20.5 36h-41zM1659.5 1116.6l20.5 36h-41zM1662.7 1115.5l20.5 36h-41zM1666.0 1114.4l20.5 36h-41zM1669.2 1113.2l20.5 36h-41zM1672.4 1112.0l20.5 36h-41zM1675.7 1110.7l20.5 36h-41zM1678.9 1109.4l20.5 36h-41zM1682.2 1108.0l20.5 36h-41zM1685.4 1106.6l20.5 36h-41zM1688.6 1105.2l20.5 36h-41zM1691.9 1103.7l20.5 36h-41zM1695.1 1102.1l20.5 36h-41zM1698.3 1100.5l20.5 36h-41zM1701.6 1098.8l20.5 36h-41zM1704.8 1097.1l20.5 36h-41zM1708.0 1095.3l20.5 36h-41zM1711.3 1093.4l20.5 36h-41zM1714.5 1091.5l20.5 36h-41zM1717.8 1089.5l20.5 36h-41zM1721.0 1087.4l20.5 36h-41zM1724.2 1085.3l20.5 36h-41zM1727.5 1083.0l20.5 36h-41zM1730.7 1080.6l20.5 36h-41zM1733.9 1078.1l20.5 36h-41zM1737.2 1075.5l20.5 36h-41zM1740.4 1072.8l20.5 36h-41zM1743.7 1069.9l20.5 36h-41zM1746.9 1066.8l20.5 36h-41zM1750.1 1063.5l20.5 36h-41zM1753.4 1059.9l20.5 36h-41zM1756.6 1056.2l20.5 36h-41zM1759.8 1052.1l20.5 36h-41zM1763.1 1047.7l20.5 36h-41zM1766.3 1042.9l20.5 36h-41zM1769.6 1037.6l20.5 36h-41zM1772.8 1031.6l20.5 36h-41zM1776.0 1024.8l20.5 36h-41zM1779.3 1017.5l20.5 36h-41zM1782.5 1008.8l20.5 36h-41zM1785.7 999.9l20.5 36h-41zM1789.0 989.8l20.5 36h-41zM1792.2 978.5l20.5 36h-41zM1795.4 965.1l20.5 36h-41zM1798.7 949.1l20.5 36h-41zM1801.9 931.3l20.5 36h-41zM1805.2 909.7l20.5 36h-41zM1808.4 884.6l20.5 36h-41zM1811.6 853.6l20.5 36h-41zM1814.9 813.8l20.5 36h-41zM1818.1 762.4l20.5 36h-41zM1821.3 691.0l20.5 36h-41z"/>
<path fill="#ff00ff" d="M377.6 1420.8l20.5 -36h-41zM380.8 1420.8l20.5 -36h-41zM384.1 1420.8l20.5 -36h-41zM387.3 1420.8l20.5 -36h-41zM390.6 1420.8l20.5 -36h-41zM393.8 1416.4l20.5 -36h-41zM397.0 1414.0l20.5 -36h-41zM400.3 1412.2l20.5 -36h-41zM403.5 1410.9l20.5 -36h-41zM406.7 1409.8l20.5 -36h-41zM410.0 1408.7l20.5 -36h-41zM413.2 1407.5l20.5 -36h-41zM416.5 1406.3l20.5 -36h-41zM419.7 1404.9l20.5 -36h-41zM422.9 1403.4l20.5 -36h-41zM426.2 1401.9l20.5 -36h-41zM429.4 1400.5l20.5 -36h-41zM432.6 1399.2l20.5 -36h-41zM435.9 1397.9l20.5 -36h-41zM439.1 1396.7l20.5 -36h-41zM442.3 1395.5l20.5 -36h-41zM445.6 1394.3l20.5 -36h-41zM448.8 1392.9l20.5 -36h-41zM452.1 1391.5l20.5 -36h-41zM455.3 1390.0l20.5 -36h-41zM458.5 1388.5l20.5 -36h-41zM461.8 1387.1l20.5 -36h-41zM465.0 1385.8l20.5 -36h-41zM468.2 1384.6l20.5 -36h-41zM471.5 1383.4l20.5 -36h-41zM474.7 1382.3l20.5 -36h-41zM478.0 1381.1l20.5 -36h-41zM481.2 1380.0l20.5 -36h-41zM484.4 1378.8l20.5 -36h-41zM487.7 1377.7l20.5 -36h-41zM490.9 1377.0l20.5 -36h-41zM494.1 1376.3l20.5 -36h-41zM497.4 1375.6l20.5 -36h-41zM500.6 1375.0l20.5 -36h-41zM503.9 1374.3l20.5 -36h-41zM507.1 1373.6l20.5 -36h-41zM510.3 1372.9l20.5 -36h-41zM513.6 1372.2l20.5 -36h-41zM516.8 1371.5l20.5 -36h-41zM520.0 1370.8l20.5 -36h-41zM523.3 1370.0l20.5 -36h-41zM526.5 1369.1l20.5 -36h-41zM529.7 1368.2l20.5 -36h-41zM533.0 1367.3l20.5 -36h-41zM536.2 1366.3l20.5 -36h-41zM539.5 1365.4l20.5 -36h-41zM542.7 1364.4l20.5 -36h-41zM545.9 1363.5l20.5 -36h-41zM549.2 1362.5l20.5 -36h-41zM552.4 1361.5l20.5 -36h-41zM555.6 1360.6l20.5 -36h-41zM558.9 1359.6l20.5 -36h-41zM562.1 1358.5l20.5 -36h-41zM565.4 1357.3l20.5 -36h-41zM568.6 1356.1l20.5 -36h-41zM571.8 1354.9l20.5 -36h-41zM575.1 1353.8l20.5 -36h-41zM578.3 1352.6l20.5 -36h-41zM581.5 1351.4l20.5 -36h-41zM584.8 1350.2l20.5 -36h-41zM588.0 1348.9l20.5 -36h-41zM591.3 1347.7l20.5 -36h-41zM594.5 1346.5l20.5 -36h-41zM597.7 1345.3l20.5 -36h-41zM601.0 1344.0l20.5 -36h-41zM604.2 1343.0l20.5 -36h-41zM607.4 1342.3l20.5 -36h-41zM610.7 1341.5l20.5 -36h-41zM613.9 1340.7l20.5 -36h-41zM617.1 1339.9l20.5 -36h-41zM620.4 1339.1l20.5 -36h-41zM623.6 1338.3l20.5 -36h-41zM626.9 1337.5l20.5 -36h-41zM630.1 1336.7l20.5 -36h-41zM633.3 1335.9l20.5 -36h-41zM636.6 1335.0l20.5 -36h-41zM639.8 1334.2l20.5 -36h-41zM643.0 1333.4l20.5 -36h-41zM646.3 1332.5l20.5 -36h-41zM649.5 1331.4l20.5 -36h-41zM652.8 1330.3l20.5 -36h-41zM656.0 1329.2l20.5 -36h-41zM659.2 1328.1l20.5 -36h-41zM662.5 1327.1l20.5 -36h-41zM665.7 1326.0l20.5 -36h-41zM668.9 1325.0l20.5 -36h-41zM672.2 1324.1l20.5 -36h-41zM675.4 1323.1l20.5 -36h-41zM678.7 1322.2l20.5 -36h-41zM681.9 1321.2l20.5 -36h-41zM685.1 1320.3l20.5 -36h-41zM688.4 1319.4l20.5 -36h-41zM691.6 1318.4l20.5 -36h-41zM694.8 1317.5l20.5 -36h-41zM698.1 1316.6l20.5 -36h-41zM701.3 1315.7l20.5 -36h-41zM704.5 1314.8l20.5 -36h-41zM707.8 1313.9l20.5 -36h-41zM711.0 1313.0l20.5 -36h-41zM714.3 1312.1l20.5 -36h-41zM717.5 1311.2l20.5 -36h-41zM720.7 1310.3l20.5 -36h-41zM724.0 1309.4l20.5 -36h-41zM727.2 1308.5l20.5 -36h-41zM730.4 1307.7l20.5 -36h-41zM733.7 1306.8l20.5 -36h-41zM736.9 1306.0l20.5 -36h-41zM740.2 1305.2l20.5 -36h-41zM743.4 1304.3l20.5 -36h-41zM746.6 1303.5l20.5 -36h-41zM749.9 1302.7l20.5 -36h-41zM753.1 1301.8l20.5 -36h-41zM756.3 1301.0l20.5 -36h-41zM759.6 1300.2l20.5 -36h-41zM762.8 1299.3l20.5 -36h-41zM766.1 1298.5l20.5 -36h-41zM769.3 1297.7l20.5 -36h-41zM772.5 1296.9l20.5 -36h-41zM775.8 1296.0l20.5 -36h-41zM779.0 1295.2l20.5 -36h-41zM782.2 1294.3l20.5 -36h-41zM785.5 1293.5l20.5 -36h-41zM788.7 1292.7l20.5 -36h-41zM791.9 1291.9l20.5 -36h-41zM795.2 1291.0l20.5 -36h-41zM798.4 1290.2l20.5 -36h-41zM801.7 1289.4l20.5 -36h-41zM804.9 1288.5l20.5 -36h-41zM808.1 1287.7l20.5 -36h-41zM811.4 1286.9l20.5 -36h-41zM814.6 1286.1l20.5 -36h-41zM817.8 1285.3l20.5 -36h-41zM821.1 1284.5l20.5 -36h-41zM824.3 1283.7l20.5 -36h-41zM827.6 1282.9l20.5 -36h-41zM830.8 1282.1l20.5 -36h-41zM834.0 1281.4l20.5 -36h-41zM837.3 1280.6l20.5 -36h-41zM840.5 1279.8l20.5 -36h-41zM843.7 1279.0l20.5 -36h-41zM847.0 1278.3l20.5 -36h-41zM850.2 1277.5l20.5 -36h-41zM853.5 1276.7l20.5 -36h-41zM856.7 1276.0l20.5 -36h-41zM859.9 1275.2l20.5 -36h-41zM863.2 1274.4l20.5 -36h-41zM866.4 1273.6l20.5 -36h-41zM869.6 1272.8l20.5 -36h-41zM872.9 1272.0l20.5 -36h-41zM876.1 1271.2l20.5 -36h-41zM879.3 1270.3l20.5 -36h-41zM882.6 1269.4l20.5 -36h-41zM885.8 1268.6l20.5 -36h-41zM889.1 1267.7l20.5 -36h-41zM892.3 1266.7l20.5 -36h-41zM895.5 1265.7l20.5 -36h-41zM898.8 1264.7l20.5 -36h-41zM902.0 1263.7l20.5 -36h-41zM905.2 1262.6l20.5 -36h-41zM908.5 1261.5l20.5 -36h-41zM911.7 1260.4l20.5 -36h-41zM915.0 1259.3l20.5 -36h-41zM918.2 1258.2l20.5 -36h-41zM921.4 1257.0l20.5 -36h-41zM924.7 1255.9l20.5 -36h-41zM927.9 1254.8l20.5 -36h-41zM931.1 1253.6l20.5 -36h-41zM934.4 1252.5l20.5 -36h-41zM937.6 1251.5l20.5 -36h-41zM940.9 1250.4l20.5 -36h-41zM944.1 1249.4l20.5 -36h-41zM947.3 1248.5l20.5 -36h-41zM950.6 1247.6l20.5 -36h-41zM953.8 1246.7l20.5 -36h-41zM957.0 1245.9l20.5 -36h-41zM960.3 1245.2l20.5 -36h-41zM963.5 1244.5l20.5 -36h-41zM966.7 1243.9l20.5 -36h-41zM970.0 1243.3l20.5 -36h-41zM973.2 1242.6l20.5 -36h-41zM976.5 1242.1l20.5 -36h-41zM979.7 1241.5l20.5 -36h-41zM982.9 1241.0l20.5 -36h-41zM986.2 1240.5l20.5 -36h-41zM989.4 1240.0l20.5 -36h-41zM992.6 1239.5l20.5 -36h-41zM995.9 1239.0l20.5 -36h-41zM999.1 1238.5l20.5 -36h-41zM1002.4 1238.1l20.5 -36h-41zM1005.6 1237.6l20.5 -36h-41zM1008.8 1237.1l20.5 -36h-41zM1012.1 1236.6l20.5 -36h-41zM1015.3 1236.2l20.5 -36h-41zM1018.5 1235.7l20.5 -36h-41zM1021.8 1235.2l20.5 -36h-41zM1025.0 1234.7l20.5 -36h-41zM1028.3 1234.1l20.5 -36h-41zM1031.5 1233.6l20.5 -36h-41zM1034.7 1233.0l20.5 -36h-41zM1038.0 1232.4l20.5 -36h-41zM1041.2 1231.8l20.5 -36h-41zM1044.4 1231.2l20.5 -36h-41zM1047.7 1230.5l20.5 -36h-41zM1050.9 1229.9l20.5 -36h-41zM1054.1 1229.2l20.5 -36h-41zM1057.4 1228.6l20.5 -36h-41zM1060.6 1227.9l20.5 -36h-41zM1063.9 1227.3l20.5 -36h-41zM1067.1 1226.6l20.5 -36h-41zM1070.3 1226.0l20.5 -36h-41zM1073.6 1225.3l20.5 -36h-41zM1076.8 1224.6l20.5 -36h-41zM1080.0 1223.9l20.5 -36h-41zM1083.3 1223.3l20.5 -36h-41zM1086.5 1222.6l20.5 -36h-41zM1089.8 1221.9l20.5 -36h-41zM1093.0 1221.3l20.5 -36h-41zM1096.2 1220.7l20.5 -36h-41zM1099.5 1220.0l20.5 -36h-41zM1102.7 1219.4l20.5 -36h-41zM1106.0 1218.8l20.5 -36h-41zM1109.2 1218.2l20.5 -36h-41zM1112.4 1217.6l20.5 -36h-41zM1115.7 1217.0l20.5 -36h-41zM1118.9 1216.4l20.5 -36h-41zM1122.1 1215.8l20.5 -36h-41zM1125.4 1215.3l20.5 -36h-41zM1128.6 1214.7l20.5 -36h-41zM1131.9 1214.2l20.5 -36h-41zM1135.1 1213.6l20.5 -36h-41zM1138.3 1213.1l20.5 -36h-41zM1141.6 1212.5l20.5 -36h-41zM1144.8 1211.9l20.5 -36h-41zM1148.0 1211.4l20.5 -36h-41zM1151.3 1210.8l20.5 -36h-41zM1154.5 1210.3l20.5 -36h-41zM1157.8 1209.7l20.5 -36h-41zM1161.0 1209.1l20.5 -36h-41zM1164.2 1208.5l20.5 -36h-41zM1167.5 1208.0l20.5 -36h-41zM1170.7 1207.4l20.5 -36h-41zM1173.9 1206.7l20.5 -36h-41zM1177.2 1206.1l20.5 -36h-41zM1180.4 1205.5l20.5 -36h-41zM1183.6 1204.8l20.5 -36h-41zM1186.9 1204.1l20.5 -36h-41zM1190.1 1203.4l20.5 -36h-41zM1193.4 1202.6l20.5 -36h-41zM1196.6 1201.9l20.5 -36h-41zM1199.8 1201.1l20.5 -36h-41zM1203.1 1200.3l20.5 -36h-41zM1206.3 1199.5l20.5 -36h-41zM1209.5 1198.7l20.5 -36h-41zM1212.8 1197.9l20.5 -36h-41zM1216.0 1197.1l20.5 -36h-41zM1219.3 1196.3l20.5 -36h-41zM1222.5 1195.5l20.5 -36h-41zM1225.7 1194.7l20.5 -36h-41zM1229.0 1193.9l20.5 -36h-41zM1232.2 1193.2l20.5 -36h-41zM1235.4 1192.4l20.5 -36h-41zM1238.7 1191.7l20.5 -36h-41zM1241.9 1191.0l20.5 -36h-41zM1245.2 1190.3l20.5 -36h-41zM1248.4 1189.7l20.5 -36h-41zM1251.6 1189.1l20.5 -36h-41zM1254.9 1188.5l20.5 -36h-41zM1258.1 1188.0l20.5 -36h-41zM1261.3 1187.5l20.5 -36h-41zM1264.6 1187.0l20.5 -36h-41zM1267.8 1186.5l20.5 -36h-41zM1271.0 1186.0l20.5 -36h-41zM1274.3 1185.5l20.5 -36h-41zM1277.5 1185.0l20.5 -36h-41zM1280.8 1184.6l20.5 -36h-41zM1284.0 1184.1l20.5 -36h-41zM1287.2 1183.7l20.5 -36h-41zM1290.5 1183.2l20.5 -36h-41zM1293.7 1182.8l20.5 -36h-41zM1296.9 1182.4l20.5 -36h-41zM1300.2 1181.9l20.5 -36h-41zM1303.4 1181.5l20.5 -36h-41zM1306.7 1181.1l20.5 -36h-41zM1309.9 1180.6l20.5 -36h-41zM1313.1 1180.2l20.5 -36h-41zM1316.4 1179.7l20.5 -36h-41zM1319.6 1179.2l20.5 -36h-41zM1322.8 1178.7l20.5 -36h-41zM1326.1 1178.2l20.5 -36h-41zM1329.3 1177.7l20.5 -36h-41zM1332.6 1177.2l20.5 -36h-41zM1335.8 1176.7l20.5 -36h-41zM1339.0 1176.2l20.5 -36h-41zM1342.3 1175.7l20.5 -36h-41zM1345.5 1175.1l20.5 -36h-41zM1348.7 1174.6l20.5 -36h-41zM1352.0 1174.0l20.5 -36h-41zM1355.2 1173.5l20.5 -36h-41zM1358.4 1173.0l20.5 -36h-41zM1361.7 1172.4l20.5 -36h-41zM1364.9 1171.9l20.5 -36h-41zM1368.2 1171.3l20.5 -36h-41zM1371.4 1170.7l20.5 -36h-41zM1374.6 1170.2l20.5 -36h-41zM1377.9 1169.6l20.5 -36h-41zM1381.1 1169.1l20.5 -36h-41zM1384.3 1168.5l20.5 -36h-41zM1387.6 1168.0l20.5 -36h-41zM1390.8 1167.4l20.5 -36h-41zM1394.1 1166.9l20.5 -36h-41zM1397.3 1166.4l20.5 -36h-41zM1400.5 1165.9l20.5 -36h-41zM1403.8 1165.3l20.5 -36h-41zM1407.0 1164.8l20.5 -36h-41zM1410.2 1164.3l20.5 -36h-41zM1413.5 1163.8l20.5 -36h-41zM1416.7 1163.3l20.5 -36h-41zM1420.0 1162.7l20.5 -36h-41zM1423.2 1162.2l20.5 -36h-41zM1426.4 1161.7l20.5 -36h-41zM1429.7 1161.2l20.5 -36h-41zM1432.9 1160.7l20.5 -36h-41zM1436.1 1160.2l20.5 -36h-41zM1439.4 1159.7l20.5 -36h-41zM1442.6 1159.1l20.5 -36h-41zM1445.8 1158.6l20.5 -36h-41zM1449.1 1158.1l20.5 -36h-41zM1452.3 1157.5l20.5 -36h-41zM1455.6 1157.0l20.5 -36h-41zM1458.8 1156.5l20.5 -36h-41zM1462.0 1155.9l20.5 -36h-41zM1465.3 1155.3l20.5 -36h-41zM1468.5 1154.8l20.5 -36h-41zM1471.7 1154.2l20.5 -36h-41zM1475.0 1153.6l20.5 -36h-41zM1478.2 1153.0l20.5 -36h-41zM1481.5 1152.3l20.5 -36h-41zM1484.7 1151.7l20.5 -36h-41zM1487.9 1151.1l20.5 -36h-41zM1491.2 1150.4l20.5 -36h-41zM1494.4 1149.8l20.5 -36h-41zM1497.6 1149.1l20.5 -36h-41zM1500.9 1148.4l20.5 -36h-41zM1504.1 1147.7l20.5 -36h-41zM1507.4 1147.0l20.5 -36h-41zM1510.6 1146.3l20.5 -36h-41zM1513.8 1145.7l20.5 -36h-41zM1517.1 1145.0l20.5 -36h-41zM1520.3 1144.2l20.5 -36h-41zM1523.5 1143.5l20.5 -36h-41zM1526.8 1142.8l20.5 -36h-41zM1530.0 1142.1l20.5 -36h-41zM1533.2 1141.4l20.5 -36h-41zM1536.5 1140.7l20.5 -36h-41zM1539.7 1140.0l20.5 -36h-41zM1543.0 1139.3l20.5 -36h-41zM1546.2 1138.6l20.5 -36h-41zM1549.4 1137.9l20.5 -36h-41zM1552.7 1137.3l20.5 -36h-41zM1555.9 1136.6l20.5 -36h-41zM1559.1 1135.9l20.5 -36h-41zM1562.4 1135.2l20.5 -36h-41zM1565.6 1134.5l20.5 -36h-41zM1568.9 1133.8l20.5 -36h-41zM1572.1 1133.1l20.5 -36h-41zM1575.3 1132.4l20.5 -36h-41zM1578.6 1131.8l20.5 -36h-41zM1581.8 1131.1l20.5 -36h-41zM1585.0 1130.3l20.5 -36h-41zM1588.3 1129.6l20.5 -36h-41zM1591.5 1128.9l20.5 -36h-41zM1594.8 1128.1l20.5 -36h-41zM1598.0 1127.4l20.5 -36h-41zM1601.2 1126.6l20.5 -36h-41zM1604.5 1125.7l20.5 -36h-41zM1607.7 1124.9l20.5 -36h-41zM1610.9 1124.0l20.5 -36h-41zM1614.2 1123.1l20.5 -36h-41zM1617.4 1122.2l20.5 -36h-41zM1620.6 1121.2l20.5 -36h-41zM1623.9 1120.2l20.5 -36h-41zM1627.1 1119.1l20.5 -36h-41zM1630.4 1118.0l20.5 -36h-41zM1633.6 1116.9l20.5 -36h-41zM1636.8 1115.7l20.5 -36h-41zM1640.1 1114.5l20.5 -36h-41zM1643.3 1113.3l20.5 -36h-41zM1646.5 1112.1l20.5 -36h-41zM1649.8 1110.8l20.5 -36h-41zM1653.0 1109.4l20.5 -36h-41zM1656.3 1108.0l20.5 -36h-41zM1659.5 1106.6l20.5 -36h-41zM1662.7 1105.2l20.5 -36h-41zM1666.0 1103.7l20.5 -36h-41zM1669.2 1102.2l20.5 -36h-41zM1672.4 1100.6l20.5 -36h-41zM1675.7 1099.1l20.5 -36h-41zM1678.9 1097.5l20.5 -36h-41zM1682.2 1095.8l20.5 -36h-41zM1685.4 1094.2l20.5 -36h-41zM1688.6 1092.5l20.5 -36h-41zM1691.9 1090.9l20.5 -36h-41zM1695.1 1089.2l20.5 -36h-41zM1698.3 1087.5l20.5 -36h-41zM1701.6 1085.8l20.5 -36h-41zM1704.8 1084.0l20.5 -36h-41zM1708.0 1082.2l20.5 -36h-41zM1711.3 1080.2l20.5 -36h-41zM1714.5 1078.2l20.5 -36h-41zM1717.8 1076.1l20.5 -36h-41zM1721.0 1074.0l20.5 -36h-41zM1724.2 1071.7l20.5 -36h-41zM1727.5 1069.3l20.5 -36h-41zM1730.7 1066.5l20.5 -36h-41zM1733.9 1063.4l20.5 -36h-41zM1737.2 1059.9l20.5 -36h-41zM1740.4 1056.1l20.5 -36h-41zM1743.7 1052.4l20.5 -36h-41zM1746.9 1048.8l20.5 -36h-41zM1750.1 1045.5l20.5 -36h-41zM1753.4 1042.3l20.5 -36h-41zM1756.6 1039.1l20.5 -36h-41zM1759.8 1035.5l20.5 -36h-41zM1763.1 1031.3l20.5 -36h-41zM1766.3 1025.9l20.5 -36h-41zM1769.6 1018.9l20.5 -36h-41zM1772.8 1013.3l20.5 -36h-41zM1776.0 1005.1l20.5 -36h-41zM1779.3 996.9l20.5 -36h-41zM1782.5 988.2l20.5 -36h-41zM1785.7 978.2l20.5 -36h-41zM1789.0 968.3l20.5 -36h-41zM1792.2 955.3l20.5 -36h-41zM1795.4 941.2l20.5 -36h-41zM1798.7 924.3l20.5 -36h-41zM1801.9 904.4l20.5 -36h-41zM1805.2 881.7l20.5 -36h-41zM1808.4 852.2l20.5 -36h-41zM1811.6 818.2l20.5 -36h-41zM1814.9 775.4l20.5 -36h-41zM1818.1 718.7l20.5 -36h-41zM1821.3 641.4l20.5 -36h-41z"/>
<path fill="#008000" d="M377.6 1357.1l21.7 21.5l-21.7 21.5l-21.7 -21.5zM380.8 1357.1l21.7 21.5l-21.7 21.5l-21.7 -21.5zM384.1 1357.1l21.7 21.5l-21.7 21.5l-21.7 -21.5zM387.3 1357.1l21.7 21.5l-21.7 21.5l-21.7 -21.5zM390.6 1357.1l21.7 21.5l-21.7 21.5l-21.7 -21.5zM393.8 1354.7l21.7 21.5l-21.7 21.5l-21.7 -21.5zM397.0 1350.5l21.7 21.5l-21.7 21.5l-21.7 -21.5zM400.3 1347.5l21.7 21.5l-21.7 21.5l-21.7 -21.5zM403.5 1345.0l21.7 21.5l-21.7 21.5l-21.7 -21.5zM406.7 1342.6l21.7 21.5l-21.7 21.5l-21.7 -21.5zM410.0 1340.3l21.7 21.5l-21.7 21.5l-21.7 -21.5zM413.2 1338.2l21.7 21.5l-21.7 21.5l-21.7 -21.5zM416.5 1336.4l21.7 21.5l-21.7 21.5l-21.7 -21.5zM419.7 1334.6l21.7 21.5l-21.7 21.5l-21.7 -21.5zM422.9 1332.9l21.7 21.5l-21.7 21.5l-21.7 -21.5zM426.2 1331.3l21.7 21.5l-21.7 21.5l-21.7 -21.5zM429.4 1329.7l21.7 21.5l-21.7 21.5l-21.7 -21.5zM432.6 1328.2l21.7 21.5l-21.7 21.5l-21.7 -21.5zM435.9 1326.6l21.7 21.5l-21.7 21.5l-21.7 -21.5zM439.1 1325.0l21.7 21.5l-21.7 21.5l-21.7 -21.5zM442.3 1323.2l21.7 21.5l-21.7 21.5l-21.7 -21.5zM445.6 1321.3l21.7 21.5l-21.7 21.5l-21.7 -21.5zM448.8 1319.3l21.7 21.5l-21.7 21.5l-21.7 -21.5zM452.1 1317.2l21.7 21.5l-21.7 21.5l-21.7 -21.5zM455.3 1315.1l21.7 21.5l-21.7 21.5l-21.7 -21.5zM458.5 1313.1l21.7 21.5l-21.7 21.5l-21.7 -21.5zM461.8 1311.4l21.7 21.5l-21.7 21.5l-21.7 -21.5zM465.0 1309.8l21.7 21.5l-21.7 21.5l-21.7 -21.5zM468.2 1308.5l21.7 21.5l-21.7 21.5l-21.7 -21.5zM471.5 1307.3l21.7 21.5l-21.7 21.5l-21.7 -21.5zM474.7 1306.2l21.7 21.5l-21.7 21.5l-21.7 -21.5zM478.0 1305.2l21.7 21.5l-21.7 21.5l-21.7 -21.5zM481.2 1304.2l21.7 21.5l-21.7 21.5l-21.7 -21.5zM484.4 1303.2l21.7 21.5l-21.7 21.5l-21.7 -21.5zM487.7 1302.1l21.7 21.5l-21.7 21.5l-21.7 -21.5zM490.9 1301.2l21.7 21.5l-21.7 21.5l-21.7 -21.5zM494.1 1300.2l21.7 21.5l-21.7 21.5l-21.7 -21.5zM497.4 1299.2l21.7 21.5l-21.7 21.5l-21.7 -21.5zM500.6 1298.1l21.7 21.5l-21.7 21.5l-21.7 -21.5zM503.9 1297.0l21.7 21.5l-21.7 21.5l-21.7 -21.5zM507.1 1295.9l21.7 21.5l-21.7 21.5l-21.7 -21.5zM510.3 1294.7l21.7 21.5l-21.7 21.5l-21.7 -21.5zM513.6 1293.6l21.7 21.5l-21.7 21.5l-21.7 -21.5zM516.8 1292.5l21.7 21.5l-21.7 21.5l-21.7 -21.5zM520.0 1291.3l21.7 21.5l-21.7 21.5l-21.7 -21.5zM523.3 1290.2l21.7 21.5l-21.7 21.5l-21.7 -21.5zM526.5 1288.7l21.7 21.5l-21.7 21.5l-21.7 -21.5zM529.7 1287.2l21.7 21.5l-21.7 21.5l-21.7 -21.5zM533.0 1285.7l21.7 21.5l-21.7 21.5l-21.7 -21.5zM536.2 1284.2l21.7 21.5l-21.7 21.5l-21.7 -21.5zM539.5 1282.7l21.7 21.5l-21.7 21.5l-21.7 -21.5zM542.7 1281.2l21.7 21.5l-21.7 21.5l-21.7 -21.5zM545.9 1279.7l21.7 21.5l-21.7 21.5l-21.7 -21.5zM549.2 1278.2l21.7 21.5l-21.7 21.5l-21.7 -21.5zM552.4 1276.7l21.7 21.5l-21.7 21.5l-21.7 -21.5zM555.6 1275.2l21.7 21.5l-21.7 21.5l-21.7 -21.5zM558.9 1273.7l21.7 21.5l-21.7 21.5l-21.7 -21.5zM562.1 1272.2l21.7 21.5l-21.7 21.5l-21.7 -21.5zM565.4 1270.7l21.7 21.5l-21.7 21.5l-21.7 -21.5zM568.6 1269.2l21.7 21.5l-21.7 21.5l-21.7 -21.5zM571.8 1267.7l21.7 21.5l-21.7 21.5l-21.7 -21.5zM575.1 1266.1l21.7 21.5l-21.7 21.5l-21.7 -21.5zM578.3 1264.6l21.7 21.5l-21.7 21.5l-21.7 -21.5zM581.5 1263.0l21.7 21.5l-21.7 21.5l-21.7 -21.5zM584.8 1261.5l21.7 21.5l-21.7 21.5l-21.7 -21.5zM588.0 1259.9l21.7 21.5l-21.7 21.5l-21.7 -21.5zM591.3 1258.3l21.7 21.5l-21.7 21.5l-21.7 -21.5zM594.5 1256.6l21.7 21.5l-21.7 21.5l-21.7 -21.5zM597.7 1255.0l21.7 21.5l-21.7 21.5l-21.7 -21.5zM601.0 1253.3l21.7 21.5l-21.7 21.5l-21.7 -21.5zM604.2 1251.8l21.7 21.5l-21.7 21.5l-21.7 -21.5zM607.4 1250.4l21.7 21.5l-21.7 21.5l-21.7 -21.5zM610.7 1249.0l21.7 21.5l-21.7 21.5l-21.7 -21.5zM613.9 1247.5l21.7 21.5l-21.7 21.5l-21.7 -21.5zM617.1 1246.1l21.7 21.5l-21.7 21.5l-21.7 -21.5zM620.4 1244.6l21.7 21.5l-21.7 21.5l-21.7 -21.5zM623.6 1243.1l21.7 21.5l-21.7 21.5l-21.7 -21.5zM626.9 1241.6l21.7 21.5l-21.7 21.5l-21.7 -21.5zM630.1 1240.1l21.7 21.5l-21.7 21.5l-21.7 -21.5zM633.3 1238.5l21.7 21.5l-21.7 21.5l-21.7 -21.5zM636.6 1237.0l21.7 21.5l-21.7 21.5l-21.7 -21.5zM639.8 1235.5l21.7 21.5l-21.7 21.5l-21.7 -21.5zM643.0 1234.0l21.7 21.5l-21.7 21.5l-21.7 -21.5zM646.3 1232.5l21.7 21.5l-21.7 21.5l-21.7 -21.5zM649.5 1231.0l21.7 21.5l-21.7 21.5l-21.7 -21.5zM652.8 1229.5l21.7 21.5l-21.7 21.5l-21.7 -21.5zM656.0 1228.0l21.7 21.5l-21.7 21.5l-21.7 -21.5zM659.2 1226.6l21.7 21.5l-21.7 21.5l-21.7 -21.5zM662.5 1225.2l21.7 21.5l-21.7 21.5l-21.7 -21.5zM665.7 1223.8l21.7 21.5l-21.7 21.5l-21.7 -21.5zM668.9 1222.5l21.7 21.5l-21.7 21.5l-21.7 -21.5zM672.2 1221.2l21.7 21.5l-21.7 21.5l-21.7 -21.5zM675.4 1219.9l21.7 21.5l-21.7 21.5l-21.7 -21.5zM678.7 1218.6l21.7 21.5l-21.7 21.5l-21.7 -21.5zM681.9 1217.4l21.7 21.5l-21.7 21.5l-21.7 -21.5zM685.1 1216.1l21.7 21.5l-21.7 21.5l-21.7 -21.5zM688.4 1214.9l21.7 21.5l-21.7 21.5l-21.7 -21.5zM691.6 1213.6l21.7 21.5l-21.7 21.5l-21.7 -21.5zM694.8 1212.3l21.7 21.5l-21.7 21.5l-21.7 -21.5zM698.1 1211.1l21.7 21.5l-21.7 21.5l-21.7 -21.5zM701.3 1209.9l21.7 21.5l-21.7 21.5l-21.7 -21.5zM704.5 1208.6l21.7 21.5l-21.7 21.5l-21.7 -21.5zM707.8 1207.4l21.7 21.5l-21.7 21.5l-21.7 -21.5zM711.0 1206.2l21.7 21.5l-21.7 21.5l-21.7 -21.5zM714.3 1205.0l21.7 21.5l-21.7 21.5l-21.7 -21.5zM717.5 1203.8l21.7 21.5l-21.7 21.5l-21.7 -21.5zM720.7 1202.5l21.7 21.5l-21.7 21.5l-21.7 -21.5zM724.0 1201.3l21.7 21.5l-21.7 21.5l-21.7 -21.5zM727.2 1200.1l21.7 21.5l-21.7 21.5l-21.7 -21.5zM730.4 1198.9l21.7 21.5l-21.7 21.5l-21.7 -21.5zM733.7 1197.9l21.7 21.5l-21.7 21.5l-21.7 -21.5zM736.9 1196.8l21.7 21.5l-21.7 21.5l-21.7 -21.5zM740.2 1195.8l21.7 21.5l-21.7 21.5l-21.7 -21.5zM743.4 1194.7l21.7 21.5l-21.7 21.5l-21.7 -21.5zM746.6 1193.7l21.7 21.5l-21.7 21.5l-21.7 -21.5zM749.9 1192.6l21.7 21.5l-21.7 21.5l-21.7 -21.5zM753.1 1191.6l21.7 21.5l-21.7 21.5l-21.7 -21.5zM756.3 1190.5l21.7 21.5l-21.7 21.5l-21.7 -21.5zM759.6 1189.5l21.7 21.5l-21.7 21.5l-21.7 -21.5zM762.8 1188.5l21.7 21.5l-21.7 21.5l-21.7 -21.5zM766.1 1187.4l21.7 21.5l-21.7 21.5l-21.7 -21.5zM769.3 1186.4l21.7 21.5l-21.7 21.5l-21.7 -21.5zM772.5 1185.4l21.7 21.5l-21.7 21.5l-21.7 -21.5zM775.8 1184.2l21.7 21.5l-21.7 21.5l-21.7 -21.5zM779.0 1183.0l21.7 21.5l-21.7 21.5l-21.7 -21.5zM782.2 1181.8l21.7 21.5l-21.7 21.5l-21.7 -21.5zM785.5 1180.6l21.7 21.5l-21.7 21.5l-21.7 -21.5zM788.7 1179.4l21.7 21.5l-21.7 21.5l-21.7 -21.5zM791.9 1178.2l21.7 21.5l-21.7 21.5l-21.7 -21.5zM795.2 1176.9l21.7 21.5l-21.7 21.5l-21.7 -21.5zM798.4 1175.7l21.7 21.5l-21.7 21.5l-21.7 -21.5zM801.7 1174.5l21.7 21.5l-21.7 21.5l-21.7 -21.5zM804.9 1173.3l21.7 21.5l-21.7 21.5l-21.7 -21.5zM808.1 1172.1l21.7 21.5l-21.7 21.5l-21.7 -21.5zM811.4 1170.8l21.7 21.5l-21.7 21.5l-21.7 -21.5zM814.6 1169.6l21.7 21.5l-21.7 21.5l-21.7 -21.5zM817.8 1168.4l21.7 21.5l-21.7 21.5l-21.7 -21.5zM821.1 1167.1l21.7 21.5l-21.7 21.5l-21.7 -21.5zM824.3 1165.9l21.7 21.5l-21.7 21.5l-21.7 -21.5zM827.6 1164.7l21.7 21.5l-21.7 21.5l-21.7 -21.5zM830.8 1163.5l21.7 21.5l-21.7 21.5l-21.7 -21.5zM834.0 1162.2l21.7 21.5l-21.7 21.5l-21.7 -21.5zM837.3 1161.0l21.7 21.5l-21.7 21.5l-21.7 -21.5zM840.5 1159.8l21.7 21.5l-21.7 21.5l-21.7 -21.5zM843.7 1158.6l21.7 21.5l-21.7 21.5l-21.7 -21.5zM847.0 1157.4l21.7 21.5l-21.7 21.5l-21.7 -21.5zM850.2 1156.1l21.7 21.5l-21.7 21.5l-21.7 -21.5zM853.5 1154.9l21.7 21.5l-21.7 21.5l-21.7 -21.5zM856.7 1153.7l21.7 21.5l-21.7 21.5l-21.7 -21.5zM859.9 1152.4l21.7 21.5l-21.7 21.5l-21.7 -21.5zM863.2 1151.2l21.7 21.5l-21.7 21.5l-21.7 -21.5zM866.4 1149.9l21.7 21.5l-21.7 21.5l-21.7 -21.5zM869.6 1148.6l21.7 21.5l-21.7 21.5l-21.7 -21.5zM872.9 1147.3l21.7 21.5l-21.7 21.5l-21.7 -21.5zM876.1 1146.0l21.7 21.5l-21.7 21.5l-21.7 -21.5zM879.3 1144.7l21.7 21.5l-21.7 21.5l-21.7 -21.5zM882.6 1143.3l21.7 21.5l-21.7 21.5l-21.7 -21.5zM885.8 1141.9l21.7 21.5l-21.7 21.5l-21.7 -21.5zM889.1 1140.5l21.7 21.5l-21.7 21.5l-21.7 -21.5zM892.3 1139.1l21.7 21.5l-21.7 21.5l-21.7 -21.5zM895.5 1137.6l21.7 21.5l-21.7 21.5l-21.7 -21.5zM898.8 1136.0l21.7 21.5l-21.7 21.5l-21.7 -21.5zM902.0 1134.4l21.7 21.5l-21.7 21.5l-21.7 -21.5zM905.2 1132.8l21.7 21.5l-21.7 21.5l-21.7 -21.5zM908.5 1131.2l21.7 21.5l-21.7 21.5l-21.7 -21.5zM911.7 1129.5l21.7 21.5l-21.7 21.5l-21.7 -21.5zM915.0 1127.9l21.7 21.5l-21.7 21.5l-21.7 -21.5zM918.2 1126.2l21.7 21.5l-21.7 21.5l-21.7 -21.5zM921.4 1124.5l21.7 21.5l-21.7 21.5l-21.7 -21.5zM924.7 1122.8l21.7 21.5l-21.7 21.5l-21.7 -21.5zM927.9 1121.1l21.7 21.5l-21.7 21.5l-21.7 -21.5zM931.1 1119.4l21.7 21.5l-21.7 21.5l-21.7 -21.5zM934.4 1117.7l21.7 21.5l-21.7 21.5l-21.7 -21.5zM937.6 1116.1l21.7 21.5l-21.7 21.5l-21.7 -21.5zM940.9 1114.4l21.7 21.5l-21.7 21.5l-21.7 -21.5zM944.1 1112.9l21.7 21.5l-21.7 21.5l-21.7 -21.5zM947.3 1111.3l21.7 21.5l-21.7 21.5l-21.7 -21.5zM950.6 1109.8l21.7 21.5l-21.7 21.5l-21.7 -21.5zM953.8 1108.4l21.7 21.5l-21.7 21.5l-21.7 -21.5zM957.0 1107.0l21.7 21.5l-21.7 21.5l-21.7 -21.5zM960.3 1105.7l21.7 21.5l-21.7 21.5l-21.7 -21.5zM963.5 1104.5l21.7 21.5l-21.7 21.5l-21.7 -21.5zM966.7 1103.3l21.7 21.5l-21.7 21.5l-21.7 -21.5zM970.0 1102.1l21.7 21.5l-21.7 21.5l-21.7 -21.5zM973.2 1100.9l21.7 21.5l-21.7 21.5l-21.7 -21.5zM976.5 1099.8l21.7 21.5l-21.7 21.5l-21.7 -21.5zM979.7 1098.7l21.7 21.5l-21.7 21.5l-21.7 -21.5zM982.9 1097.6l21.7 21.5l-21.7 21.5l-21.7 -21.5zM986.2 1096.5l21.7 21.5l-21.7 21.5l-21.7 -21.5zM989.4 1095.5l21.7 21.5l-21.7 21.5l-21.7 -21.5zM992.6 1094.4l21.7 21.5l-21.7 21.5l-21.7 -21.5zM995.9 1093.4l21.7 21.5l-21.7 21.5l-21.7 -21.5zM999.1 1092.4l21.7 21.5l-21.7 21.5l-21.7 -21.5zM1002.4 1091.4l21.7 21.5l-21.7 21.5l-21.7 -21.5zM1005.6 1090.3l21.7 21.5l-21.7 21.5l-21.7 -21.5zM1008.8 1089.4l21.7 21.5l-21.7 21.5l-21.7 -21.5zM1012.1 1088.4l21.7 21.5l-21.7 21.5l-21.7 -21.5zM1015.3 1087.4l21.7 21.5l-21.7 21.5l-21.7 -21.5zM1018.5 1086.3l21.7 21.5l-21.7 21.5l-21.7 -21.5zM1021.8 1085.3l21.7 21.5l-21.7 21.5l-21.7 -21.5zM1025.0 1084.3l21.7 21.5l-21.7 21.5l-21.7 -21.5zM1028.3 1083.3l21.7 21.5l-21.7 21.5l-21.7 -21.5zM1031.5 1082.2l21.7 21.5l-21.7 21.5l-21.7 -21.5zM1034.7 1081.1l21.7 21.5l-21.7 21.5l-21.7 -21.5zM1038.0 1080.1l21.7 21.5l-21.7 21.5l-21.7 -21.5zM1041.2 1079.0l21.7 21.5l-21.7 21.5l-21.7 -21.5zM1044.4 1077.9l21.7 21.5l-21.7 21.5l-21.7 -21.5zM1047.7 1076.8l21.7 21.5l-21.7 21.5l-21.7 -21.5zM1050.9 1075.7l21.7 21.5l-21.7 21.5l-21.7 -21.5zM1054.1 1074.6l21.7 21.5l-21.7 21.5l-21.7 -21.5zM1057.4 1073.4l21.7 21.5l-21.7 21.5l-21.7 -21.5zM1060.6 1072.3l21.7 21.5l-21.7 21.5l-21.7 -21.5zM1063.9 1071.2l21.7 21.5l-21.7 21.5l-21.7 -21.5zM1067.1 1070.1l21.7 21.5l-21.7 21.5l-21.7 -21.5zM1070.3 1069.0l21.7 21.5l-21.7 21.5l-21.7 -21.5zM1073.6 1067.9l21.7 21.5l-21.7 21.5l-21.7 -21.5zM1076.8 1066.8l21.7 21.5l-21.7 21.5l-21.7 -21.5zM1080.0 1065.7l21.7 21.5l-21.7 21.5l-21.7 -21.5zM1083.3 1064.6l21.7 21.5l-21.7 21.5l-21.7 -21.5zM1086.5 1063.5l21.7 21.5l-21.7 21.5l-21.7 -21.5zM1089.8 1062.4l21.7 21.5l-21.7 21.5l-21.7 -21.5zM1093.0 1061.3l21.7 21.5l-21.7 21.5l-21.7 -21.5zM1096.2 1060.3l21.7 21.5l-21.7 21.5l-21.7 -21.5zM1099.5 1059.3l21.7 21.5l-21.7 21.5l-21.7 -21.5zM1102.7 1058.2l21.7 21.5l-21.7 21.5l-21.7 -21.5zM1106.0 1057.2l21.7 21.5l-21.7 21.5l-21.7 -21.5zM1109.2 1056.2l21.7 21.5l-21.7 21.5l-21.7 -21.5zM1112.4 1055.3l21.7 21.5l-21.7 21.5l-21.7 -21.5zM1115.7 1054.3l21.7 21.5l-21.7 21.5l-21.7 -21.5zM1118.9 1053.3l21.7 21.5l-21.7 21.5l-21.7 -21.5zM1122.1 1052.3l21.7 21.5l-21.7 21.5l-21.7 -21.5zM1125.4 1051.4l21.7 21.5l-21.7 21.5l-21.7 -21.5zM1128.6 1050.4l21.7 21.5l-21.7 21.5l-21.7 -21.5zM1131.9 1049.5l21.7 21.5l-21.7 21.5l-21.7 -21.5zM1135.1 1048.5l21.7 21.5l-21.7 21.5l-21.7 -21.5zM1138.3 1047.6l21.7 21.5l-21.7 21.5l-21.7 -21.5zM1141.6 1046.7l21.7 21.5l-21.7 21.5l-21.7 -21.5zM1144.8 1045.7l21.7 21.5l-21.7 21.5l-21.7 -21.5zM1148.0 1044.8l21.7 21.5l-21.7 21.5l-21.7 -21.5zM1151.3 1043.9l21.7 21.5l-21.7 21.5l-21.7 -21.5zM1154.5 1043.0l21.7 21.5l-21.7 21.5l-21.7 -21.5zM1157.8 1042.1l21.7 21.5l-21.7 21.5l-21.7 -21.5zM1161.0 1041.2l21.7 21.5l-21.7 21.5l-21.7 -21.5zM1164.2 1040.2l21.7 21.5l-21.7 21.5l-21.7 -21.5zM1167.5 1039.4l21.7 21.5l-21.7 21.5l-21.7 -21.5zM1170.7 1038.5l21.7 21.5l-21.7 21.5l-21.7 -21.5zM1173.9 1037.6l21.7 21.5l-21.7 21.5l-21.7 -21.5zM1177.2 1036.7l21.7 21.5l-21.7 21.5l-21.7 -21.5zM1180.4 1035.8l21.7 21.5l-21.7 21.5l-21.7 -21.5zM1183.6 1034.9l21.7 21.5l-21.7 21.5l-21.7 -21.5zM1186.9 1034.0l21.7 21.5l-21.7 21.5l-21.7 -21.5zM1190.1 1033.1l21.7 21.5l-21.7 21.5l-21.7 -21.5zM1193.4 1032.3l21.7 21.5l-21.7 21.5l-21.7 -21.5zM1196.6 1031.4l21.7 21.5l-21.7 21.5l-21.7 -21.5zM1199.8 1030.6l21.7 21.5l-21.7 21.5l-21.7 -21.5zM1203.1 1029.7l21.7 21.5l-21.7 21.5l-21.7 -21.5zM1206.3 1028.9l21.7 21.5l-21.7 21.5l-21.7 -21.5zM1209.5 1028.0l21.7 21.5l-21.7 21.5l-21.7 -21.5zM1212.8 1027.2l21.7 21.5l-21.7 21.5l-21.7 -21.5zM1216.0 1026.3l21.7 21.5l-21.7 21.5l-21.7 -21.5zM1219.3 1025.5l21.7 21.5l-21.7 21.5l-21.7 -21.5zM1222.5 1024.6l21.7 21.5l-21.7 21.5l-21.7 -21.5zM1225.7 1023.8l21.7 21.5l-21.7 21.5l-21.7 -21.5zM1229.0 1022.9l21.7 21.5l-21.7 21.5l-21.7 -21.5zM1232.2 1022.0l21.7 21.5l-21.7 21.5l-21.7 -21.5zM1235.4 1021.2l21.7 21.5l-21.7 21.5l-21.7 -21.5zM1238.7 1020.3l21.7 21.5l-21.7 21.5l-21.7 -21.5zM1241.9 1019.4l21.7 21.5l-21.7 21.5l-21.7 -21.5zM1245.2 1018.6l21.7 21.5l-21.7 21.5l-21.7 -21.5zM1248.4 1017.6l21.7 21.5l-21.7 21.5l-21.7 -21.5zM1251.6 1016.7l21.7 21.5l-21.7 21.5l-21.7 -21.5zM1254.9 1015.8l21.7 21.5l-21.7 21.5l-21.7 -21.5zM1258.1 1014.9l21.7 21.5l-21.7 21.5l-21.7 -21.5zM1261.3 1013.9l21.7 21.5l-21.7 21.5l-21.7 -21.5zM1264.6 1012.9l21.7 21.5l-21.7 21.5l-21.7 -21.5zM1267.8 1011.8l21.7 21.5l-21.7 21.5l-21.7 -21.5zM1271.0 1010.8l21.7 21.5l-21.7 21.5l-21.7 -21.5zM1274.3 1009.8l21.7 21.5l-21.7 21.5l-21.7 -21.5zM1277.5 1008.7l21.7 21.5l-21.7 21.5l-21.7 -21.5zM1280.8 1007.6l21.7 21.5l-21.7 21.5l-21.7 -21.5zM1284.0 1006.6l21.7 21.5l-21.7 21.5l-21.7 -21.5zM1287.2 1005.5l21.7 21.5l-21.7 21.5l-21.7 -21.5zM1290.5 1004.4l21.7 21.5l-21.7 21.5l-21.7 -21.5zM1293.7 1003.4l21.7 21.5l-21.7 21.5l-21.7 -21.5zM1296.9 1002.3l21.7 21.5l-21.7 21.5l-21.7 -21.5zM1300.2 1001.3l21.7 21.5l-21.7 21.5l-21.7 -21.5zM1303.4 1000.3l21.7 21.5l-21.7 21.5l-21.7 -21.5zM1306.7 999.3l21.7 21.5l-21.7 21.5l-21.7 -21.5zM1309.9 998.4l21.7 21.5l-21.7 21.5l-21.7 -21.5zM1313.1 997.5l21.7 21.5l-21.7 21.5l-21.7 -21.5zM1316.4 996.6l21.7 21.5l-21.7 21.5l-21.7 -21.5zM1319.6 995.8l21.7 21.5l-21.7 21.5l-21.7 -21.5zM1322.8 995.0l21.7 21.5l-21.7 21.5l-21.7 -21.5zM1326.1 994.3l21.7 21.5l-21.7 21.5l-21.7 -21.5zM1329.3 993.6l21.7 21.5l-21.7 21.5l-21.7 -21.5zM1332.6 993.0l21.7 21.5l-21.7 21.5l-21.7 -21.5zM1335.8 992.3l21.7 21.5l-21.7 21.5l-21.7 -21.5zM1339.0 991.7l21.7 21.5l-21.7 21.5l-21.7 -21.5zM1342.3 991.1l21.7 21.5l-21.7 21.5l-21.7 -21.5zM1345.5 990.5l21.7 21.5l-21.7 21.5l-21.7 -21.5zM1348.7 990.0l21.7 21.5l-21.7 21.5l-21.7 -21.5zM1352.0 989.4l21.7 21.5l-21.7 21.5l-21.7 -21.5zM1355.2 988.9l21.7 21.5l-21.7 21.5l-21.7 -21.5zM1358.4 988.4l21.7 21.5l-21.7 21.5l-21.7 -21.5zM1361.7 987.9l21.7 21.5l-21.7 21.5l-21.7 -21.5zM1364.9 987.3l21.7 21.5l-21.7 21.5l-21.7 -21.5zM1368.2 986.8l21.7 21.5l-21.7 21.5l-21.7 -21.5zM1371.4 986.3l21.7 21.5l-21.7 21.5l-21.7 -21.5zM1374.6 985.8l21.7 21.5l-21.7 21.5l-21.7 -21.5zM1377.9 985.3l21.7 21.5l-21.7 21.5l-21.7 -21.5zM1381.1 984.7l21.7 21.5l-21.7 21.5l-21.7 -21.5zM1384.3 984.2l21.7 21.5l-21.7 21.5l-21.7 -21.5zM1387.6 983.6l21.7 21.5l-21.7 21.5l-21.7 -21.5zM1390.8 983.0l21.7 21.5l-21.7 21.5l-21.7 -21.5zM1394.1 982.3l21.7 21.5l-21.7 21.5l-21.7 -21.5zM1397.3 981.7l21.7 21.5l-21.7 21.5l-21.7 -21.5zM1400.5 981.0l21.7 21.5l-21.7 21.5l-21.7 -21.5zM1403.8 980.2l21.7 21.5l-21.7 21.5l-21.7 -21.5zM1407.0 979.5l21.7 21.5l-21.7 21.5l-21.7 -21.5zM1410.2 978.7l21.7 21.5l-21.7 21.5l-21.7 -21.5zM1413.5 978.0l21.7 21.5l-21.7 21.5l-21.7 -21.5zM1416.7 977.2l21.7 21.5l-21.7 21.5l-21.7 -21.5zM1420.0 976.3l21.7 21.5l-21.7 21.5l-21.7 -21.5zM1423.2 975.5l21.7 21.5l-21.7 21.5l-21.7 -21.5zM1426.4 974.7l21.7 21.5l-21.7 21.5l-21.7 -21.5zM1429.7 973.8l21.7 21.5l-21.7 21.5l-21.7 -21.5zM1432.9 972.9l21.7 21.5l-21.7 21.5l-21.7 -21.5zM1436.1 972.1l21.7 21.5l-21.7 21.5l-21.7 -21.5zM1439.4 971.2l21.7 21.5l-21.7 21.5l-21.7 -21.5zM1442.6 970.3l21.7 21.5l-21.7 21.5l-21.7 -21.5zM1445.8 969.4l21.7 21.5l-21.7 21.5l-21.7 -21.5zM1449.1 968.5l21.7 21.5l-21.7 21.5l-21.7 -21.5zM1452.3 967.5l21.7 21.5l-21.7 21.5l-21.7 -21.5zM1455.6 966.6l21.7 21.5l-21.7 21.5l-21.7 -21.5zM1458.8 965.7l21.7 21.5l-21.7 21.5l-21.7 -21.5zM1462.0 964.8l21.7 21.5l-21.7 21.5l-21.7 -21.5zM1465.3 963.9l21.7 21.5l-21.7 21.5l-21.7 -21.5zM1468.5 963.0l21.7 21.5l-21.7 21.5l-21.7 -21.5zM1471.7 962.2l21.7 21.5l-21.7 21.5l-21.7 -21.5zM1475.0 961.3l21.7 21.5l-21.7 21.5l-21.7 -21.5zM1478.2 960.4l21.7 21.5l-21.7 21.5l-21.7 -21.5zM1481.5 959.5l21.7 21.5l-21.7 21.5l-21.7 -21.5zM1484.7 958.7l21.7 21.5l-21.7 21.5l-21.7 -21.5zM1487.9 957.7l21.7 21.5l-21.7 21.5l-21.7 -21.5zM1491.2 956.9l21.7 21.5l-21.7 21.5l-21.7 -21.5zM1494.4 955.9l21.7 21.5l-21.7 21.5l-21.7 -21.5zM1497.6 955.0l21.7 21.5l-21.7 21.5l-21.7 -21.5zM1500.9 954.1l21.7 21.5l-21.7 21.5l-21.7 -21.5zM1504.1 953.2l21.7 21.5l-21.7 21.5l-21.7 -21.5zM1507.4 952.3l21.7 21.5l-21.7 21.5l-21.7 -21.5zM1510.6 951.3l21.7 21.5l-21.7 21.5l-21.7 -21.5zM1513.8 950.4l21.7 21.5l-21.7 21.5l-21.7 -21.5zM1517.1 949.5l21.7 21.5l-21.7 21.5l-21.7 -21.5zM1520.3 948.5l21.7 21.5l-21.7 21.5l-21.7 -21.5zM1523.5 947.6l21.7 21.5l-21.7 21.5l-21.7 -21.5zM1526.8 946.7l21.7 21.5l-21.7 21.5l-21.7 -21.5zM1530.0 945.7l21.7 21.5l-21.7 21.5l-21.7 -21.5zM1533.2 944.8l21.7 21.5l-21.7 21.5l-21.7 -21.5zM1536.5 943.9l21.7 21.5l-21.7 21.5l-21.7 -21.5zM1539.7 943.0l21.7 21.5l-21.7 21.5l-21.7 -21.5zM1543.0 942.0l21.7 21.5l-21.7 21.5l-21.7 -21.5zM1546.2 941.1l21.7 21.5l-21.7 21.5l-21.7 -21.5zM1549.4 940.2l21.7 21.5l-21.7 21.5l-21.7 -21.5zM1552.7 939.3l21.7 21.5l-21.7 21.5l-21.7 -21.5zM1555.9 938.4l21.7 21.5l-21.7 21.5l-21.7 -21.5zM1559.1 937.5l21.7 21.5l-21.7 21.5l-21.7 -21.5zM1562.4 936.6l21.7 21.5l-21.7 21.5l-21.7 -21.5zM1565.6 935.7l21.7 21.5l-21.7 21.5l-21.7 -21.5zM1568.9 934.8l21.7 21.5l-21.7 21.5l-21.7 -21.5zM1572.1 933.9l21.7 21.5l-21.7 21.5l-21.7 -21.5zM1575.3 933.0l21.7 21.5l-21.7 21.5l-21.7 -21.5zM1578.6 932.1l21.7 21.5l-21.7 21.5l-21.7 -21.5zM1581.8 931.2l21.7 21.5l-21.7 21.5l-21.7 -21.5zM1585.0 930.2l21.7 21.5l-21.7 21.5l-21.7 -21.5zM1588.3 929.3l21.7 21.5l-21.7 21.5l-21.7 -21.5zM1591.5 928.3l21.7 21.5l-21.7 21.5l-21.7 -21.5zM1594.8 927.4l21.7 21.5l-21.7 21.5l-21.7 -21.5zM1598.0 926.4l21.7 21.5l-21.7 21.5l-21.7 -21.5zM1601.2 925.4l21.7 21.5l-21.7 21.5l-21.7 -21.5zM1604.5 924.3l21.7 21.5l-21.7 21.5l-21.7 -21.5zM1607.7 923.2l21.7 21.5l-21.7 21.5l-21.7 -21.5zM1610.9 922.1l21.7 21.5l-21.7 21.5l-21.7 -21.5zM1614.2 921.1l21.7 21.5l-21.7 21.5l-21.7 -21.5zM1617.4 920.0l21.7 21.5l-21.7 21.5l-21.7 -21.5zM1620.6 918.8l21.7 21.5l-21.7 21.5l-21.7 -21.5zM1623.9 917.7l21.7 21.5l-21.7 21.5l-21.7 -21.5zM1627.1 916.6l21.7 21.5l-21.7 21.5l-21.7 -21.5zM1630.4 915.4l21.7 21.5l-21.7 21.5l-21.7 -21.5zM1633.6 914.3l21.7 21.5l-21.7 21.5l-21.7 -21.5zM1636.8 913.1l21.7 21.5l-21.7 21.5l-21.7 -21.5zM1640.1 912.0l21.7 21.5l-21.7 21.5l-21.7 -21.5zM1643.3 910.8l21.7 21.5l-21.7 21.5l-21.7 -21.5zM1646.5 909.6l21.7 21.5l-21.7 21.5l-21.7 -21.5zM1649.8 908.4l21.7 21.5l-21.7 21.5l-21.7 -21.5zM1653.0 907.2l21.7 21.5l-21.7 21.5l-21.7 -21.5zM1656.3 906.0l21.7 21.5l-21.7 21.5l-21.7 -21.5zM1659.5 904.8l21.7 21.5l-21.7 21.5l-21.7 -21.5zM1662.7 903.6l21.7 21.5l-21.7 21.5l-21.7 -21.5zM1666.0 902.3l21.7 21.5l-21.7 21.5l-21.7 -21.5zM1669.2 901.0l21.7 21.5l-21.7 21.5l-21.7 -21.5zM1672.4 899.7l21.7 21.5l-21.7 21.5l-21.7 -21.5zM1675.7 898.4l21.7 21.5l-21.7 21.5l-21.7 -21.5zM1678.9 897.1l21.7 21.5l-21.7 21.5l-21.7 -21.5zM1682.2 895.8l21.7 21.5l-21.7 21.5l-21.7 -21.5zM1685.4 894.5l21.7 21.5l-21.7 21.5l-21.7 -21.5zM1688.6 893.2l21.7 21.5l-21.7 21.5l-21.7 -21.5zM1691.9 891.9l21.7 21.5l-21.7 21.5l-21.7 -21.5zM1695.1 890.5l21.7 21.5l-21.7 21.5l-21.7 -21.5zM1698.3 889.1l21.7 21.5l-21.7 21.5l-21.7 -21.5zM1701.6 887.6l21.7 21.5l-21.7 21.5l-21.7 -21.5zM1704.8 886.0l21.7 21.5l-21.7 21.5l-21.7 -21.5zM1708.0 884.3l21.7 21.5l-21.7 21.5l-21.7 -21.5zM1711.3 882.5l21.7 21.5l-21.7 21.5l-21.7 -21.5zM1714.5 880.5l21.7 21.5l-21.7 21.5l-21.7 -21.5zM1717.8 878.3l21.7 21.5l-21.7 21.5l-21.7 -21.5zM1721.0 875.9l21.7 21.5l-21.7 21.5l-21.7 -21.5zM1724.2 873.4l21.7 21.5l-21.7 21.5l-21.7 -21.5zM1727.5 870.6l21.7 21.5l-21.7 21.5l-21.7 -21.5zM1730.7 867.8l21.7 21.5l-21.7 21.5l-21.7 -21.5zM1733.9 864.8l21.7 21.5l-21.7 21.5l-21.7 -21.5zM1737.2 861.7l21.7 21.5l-21.7 21.5l-21.7 -21.5zM1740.4 858.5l21.7 21.5l-21.7 21.5l-21.7 -21.5zM1743.7 855.4l21.7 21.5l-21.7 21.5l-21.7 -21.5zM1746.9 852.2l21.7 21.5l-21.7 21.5l-21.7 -21.5zM1750.1 848.8l21.7 21.5l-21.7 21.5l-21.7 -21.5zM1753.4 845.1l21.7 21.5l-21.7 21.5l-21.7 -21.5zM1756.6 840.8l21.7 21.5l-21.7 21.5l-21.7 -21.5zM1759.8 836.0l21.7 21.5l-21.7 21.5l-21.7 -21.5zM1763.1 829.9l21.7 21.5l-21.7 21.5l-21.7 -21.5zM1766.3 823.0l21.7 21.5l-21.7 21.5l-21.7 -21.5zM1769.6 815.5l21.7 21.5l-21.7 21.5l-21.7 -21.5zM1772.8 807.8l21.7 21.5l-21.7 21.5l-21.7 -21.5zM1776.0 800.2l21.7 21.5l-21.7 21.5l-21.7 -21.5zM1779.3 792.7l21.7 21.5l-21.7 21.5l-21.7 -21.5zM1782.5 785.4l21.7 21.5l-21.7 21.5l-21.7 -21.5zM1785.7 777.5l21.7 21.5l-21.7 21.5l-21.7 -21.5zM1789.0 767.3l21.7 21.5l-21.7 21.5l-21.7 -21.5zM1792.2 755.2l21.7 21.5l-21.7 21.5l-21.7 -21.5zM1795.4 741.3l21.7 21.5l-21.7 21.5l-21.7 -21.5zM1798.7 725.5l21.7 21.5l-21.7 21.5l-21.7 -21.5zM1801.9 706.1l21.7 21.5l-21.7 21.5l-21.7 -21.5zM1805.2 682.2l21.7 21.5l-21.7 21.5l-21.7 -21.5zM1808.4 655.2l21.7 21.5l-21.7 21.5l-21.7 -21.5zM1811.6 621.8l21.7 21.5l-21.7 21.5l-21.7 -21.5zM1814.9 580.7l21.7 21.5l-21.7 21.5l-21.7 -21.5zM1818.1 526.4l21.7 21.5l-21.7 21.5l-21.7 -21.5zM1821.3 450.4l21.7 21.5l-21.7 21.5l-21.7 -21.5z"/>
<path fill="#000080" d="M353.6 1367.2l36 -20.5v41zM356.8 1367.2l36 -20.5v41zM360.1 1367.2l36 -20.5v41zM363.3 1367.2l36 -20.5v41zM366.6 1366.5l36 -20.5v41zM369.8 1364.6l36 -20.5v41zM373.0 1361.8l36 -20.5v41zM376.3 1358.3l36 -20.5v41zM379.5 1354.7l36 -20.5v41zM382.7 1351.1l36 -20.5v41zM386.0 1347.7l36 -20.5v41zM389.2 1344.7l36 -20.5v41zM392.5 1342.4l36 -20.5v41zM395.7 1340.3l36 -20.5v41zM398.9 1338.1l36 -20.5v41zM402.2 1336.1l36 -20.5v41zM405.4 1334.1l36 -20.5v41zM408.6 1332.1l36 -20.5v41zM411.9 1330.1l36 -20.5v41zM415.1 1328.0l36 -20.5v41zM418.3 1325.8l36 -20.5v41zM421.6 1323.4l36 -20.5v41zM424.8 1321.0l36 -20.5v41zM428.1 1318.6l36 -20.5v41zM431.3 1316.4l36 -20.5v41zM434.5 1314.3l36 -20.5v41zM437.8 1312.5l36 -20.5v41zM441.0 1311.0l36 -20.5v41zM444.2 1309.9l36 -20.5v41zM447.5 1308.9l36 -20.5v41zM450.7 1307.9l36 -20.5v41zM454.0 1307.1l36 -20.5v41zM457.2 1306.3l36 -20.5v41zM460.4 1305.6l36 -20.5v41zM463.7 1304.9l36 -20.5v41zM466.9 1303.6l36 -20.5v41zM470.1 1302.1l36 -20.5v41zM473.4 1300.7l36 -20.5v41zM476.6 1299.3l36 -20.5v41zM479.9 1297.9l36 -20.5v41zM483.1 1296.4l36 -20.5v41zM486.3 1294.9l36 -20.5v41zM489.6 1293.3l36 -20.5v41zM492.8 1291.7l36 -20.5v41zM496.0 1290.0l36 -20.5v41zM499.3 1288.2l36 -20.5v41zM502.5 1286.7l36 -20.5v41zM505.7 1285.2l36 -20.5v41zM509.0 1283.5l36 -20.5v41zM512.2 1281.8l36 -20.5v41zM515.5 1280.0l36 -20.5v41zM518.7 1278.1l36 -20.5v41zM521.9 1276.2l36 -20.5v41zM525.2 1274.2l36 -20.5v41zM528.4 1272.1l36 -20.5v41zM531.6 1270.1l36 -20.5v41zM534.9 1268.0l36 -20.5v41zM538.1 1265.8l36 -20.5v41zM541.4 1263.6l36 -20.5v41zM544.6 1261.4l36 -20.5v41zM547.8 1259.3l36 -20.5v41zM551.1 1257.1l36 -20.5v41zM554.3 1255.0l36 -20.5v41zM557.5 1252.8l36 -20.5v41zM560.8 1250.8l36 -20.5v41zM564.0 1248.7l36 -20.5v41zM567.3 1246.7l36 -20.5v41zM570.5 1244.8l36 -20.5v41zM573.7 1243.0l36 -20.5v41zM577.0 1241.2l36 -20.5v41zM580.2 1239.8l36 -20.5v41zM583.4 1238.8l36 -20.5v41zM586.7 1237.8l36 -20.5v41zM589.9 1236.8l36 -20.5v41zM593.1 1235.9l36 -20.5v41zM596.4 1234.9l36 -20.5v41zM599.6 1234.0l36 -20.5v41zM602.9 1233.1l36 -20.5v41zM606.1 1232.2l36 -20.5v41zM609.3 1231.2l36 -20.5v41zM612.6 1230.3l36 -20.5v41zM615.8 1229.4l36 -20.5v41zM619.0 1228.5l36 -20.5v41zM622.3 1227.4l36 -20.5v41zM625.5 1225.9l36 -20.5v41zM628.8 1224.5l36 -20.5v41zM632.0 1223.0l36 -20.5v41zM635.2 1221.5l36 -20.5v41zM638.5 1220.0l36 -20.5v41zM641.7 1218.5l36 -20.5v41zM644.9 1217.0l36 -20.5v41zM648.2 1215.4l36 -20.5v41zM651.4 1213.9l36 -20.5v41zM654.7 1212.3l36 -20.5v41zM657.9 1210.8l36 -20.5v41zM661.1 1209.2l36 -20.5v41zM664.4 1207.7l36 -20.5v41zM667.6 1206.2l36 -20.5v41zM670.8 1204.7l36 -20.5v41zM674.1 1203.3l36 -20.5v41zM677.3 1201.8l36 -20.5v41zM680.5 1200.4l36 -20.5v41zM683.8 1198.9l36 -20.5v41zM687.0 1197.4l36 -20.5v41zM690.3 1195.9l36 -20.5v41zM693.5 1194.5l36 -20.5v41zM696.7 1193.0l36 -20.5v41zM700.0 1191.5l36 -20.5v41zM703.2 1190.0l36 -20.5v41zM706.4 1188.4l36 -20.5v41zM709.7 1186.7l36 -20.5v41zM712.9 1185.0l36 -20.5v41zM716.2 1183.2l36 -20.5v41zM719.4 1181.4l36 -20.5v41zM722.6 1179.7l36 -20.5v41zM725.9 1177.9l36 -20.5v41zM729.1 1176.1l36 -20.5v41zM732.3 1174.2l36 -20.5v41zM735.6 1172.4l36 -20.5v41zM738.8 1170.6l36 -20.5v41zM742.1 1168.7l36 -20.5v41zM745.3 1166.9l36 -20.5v41zM748.5 1165.0l36 -20.5v41zM751.8 1163.3l36 -20.5v41zM755.0 1161.6l36 -20.5v41zM758.2 1159.9l36 -20.5v41zM761.5 1158.2l36 -20.5v41zM764.7 1156.5l36 -20.5v41zM767.9 1154.8l36 -20.5v41zM771.2 1153.1l36 -20.5v41zM774.4 1151.5l36 -20.5v41zM777.7 1149.8l36 -20.5v41zM780.9 1148.2l36 -20.5v41zM784.1 1146.6l36 -20.5v41zM787.4 1145.0l36 -20.5v41zM790.6 1143.5l36 -20.5v41zM793.8 1141.9l36 -20.5v41zM797.1 1140.4l36 -20.5v41zM800.3 1138.9l36 -20.5v41zM803.6 1137.4l36 -20.5v41zM806.8 1135.9l36 -20.5v41zM810.0 1134.4l36 -20.5v41zM813.3 1133.0l36 -20.5v41zM816.5 1131.5l36 -20.5v41zM819.7 1130.1l36 -20.5v41zM823.0 1128.6l36 -20.5v41zM826.2 1127.2l36 -20.5v41zM829.5 1125.7l36 -20.5v41zM832.7 1124.3l36 -20.5v41zM835.9 1122.9l36 -20.5v41zM839.2 1121.5l36 -20.5v41zM842.4 1120.1l36 -20.5v41zM845.6 1118.6l36 -20.5v41zM848.9 1117.2l36 -20.5v41zM852.1 1115.8l36 -20.5v41zM855.3 1114.4l36 -20.5v41zM858.6 1112.9l36 -20.5v41zM861.8 1111.5l36 -20.5v41zM865.1 1110.1l36 -20.5v41zM868.3 1108.6l36 -20.5v41zM871.5 1107.1l36 -20.5v41zM874.8 1105.6l36 -20.5v41zM878.0 1104.1l36 -20.5v41zM881.2 1102.6l36 -20.5v41zM884.5 1101.2l36 -20.5v41zM887.7 1099.7l36 -20.5v41zM891.0 1098.2l36 -20.5v41zM894.2 1096.6l36 -20.5v41zM897.4 1095.2l36 -20.5v41zM900.7 1093.7l36 -20.5v41zM903.9 1092.2l36 -20.5v41zM907.1 1090.7l36 -20.5v41zM910.4 1089.2l36 -20.5v41zM913.6 1087.8l36 -20.5v41zM916.9 1086.4l36 -20.5v41zM920.1 1085.0l36 -20.5v41zM923.3 1083.6l36 -20.5v41zM926.6 1082.2l36 -20.5v41zM929.8 1080.9l36 -20.5v41zM933.0 1079.6l36 -20.5v41zM936.3 1078.3l36 -20.5v41zM939.5 1077.1l36 -20.5v41zM942.7 1075.8l36 -20.5v41zM946.0 1074.6l36 -20.5v41zM949.2 1073.4l36 -20.5v41zM952.5 1072.3l36 -20.5v41zM955.7 1071.1l36 -20.5v41zM958.9 1070.0l36 -20.5v41zM962.2 1068.9l36 -20.5v41zM965.4 1067.7l36 -20.5v41zM968.6 1066.6l36 -20.5v41zM971.9 1065.5l36 -20.5v41zM975.1 1064.4l36 -20.5v41zM978.4 1063.4l36 -20.5v41zM981.6 1062.3l36 -20.5v41zM984.8 1061.2l36 -20.5v41zM988.1 1060.1l36 -20.5v41zM991.3 1059.0l36 -20.5v41zM994.5 1057.9l36 -20.5v41zM997.8 1056.9l36 -20.5v41zM1001.0 1055.8l36 -20.5v41zM1004.3 1054.6l36 -20.5v41zM1007.5 1053.5l36 -20.5v41zM1010.7 1052.4l36 -20.5v41zM1014.0 1051.2l36 -20.5v41zM1017.2 1050.1l36 -20.5v41zM1020.4 1048.9l36 -20.5v41zM1023.7 1047.7l36 -20.5v41zM1026.9 1046.5l36 -20.5v41zM1030.1 1045.3l36 -20.5v41zM1033.4 1044.1l36 -20.5v41zM1036.6 1042.8l36 -20.5v41zM1039.9 1041.6l36 -20.5v41zM1043.1 1040.4l36 -20.5v41zM1046.3 1039.2l36 -20.5v41zM1049.6 1038.0l36 -20.5v41zM1052.8 1036.8l36 -20.5v41zM1056.0 1035.6l36 -20.5v41zM1059.3 1034.4l36 -20.5v41zM1062.5 1033.3l36 -20.5v41zM1065.8 1032.2l36 -20.5v41zM1069.0 1031.0l36 -20.5v41zM1072.2 1030.0l36 -20.5v41zM1075.5 1028.9l36 -20.5v41zM1078.7 1027.9l36 -20.5v41zM1082.0 1027.0l36 -20.5v41zM1085.2 1026.0l36 -20.5v41zM1088.4 1025.1l36 -20.5v41zM1091.7 1024.3l36 -20.5v41zM1094.9 1023.4l36 -20.5v41zM1098.1 1022.6l36 -20.5v41zM1101.4 1021.7l36 -20.5v41zM1104.6 1020.9l36 -20.5v41zM1107.9 1020.1l36 -20.5v41zM1111.1 1019.3l36 -20.5v41zM1114.3 1018.5l36 -20.5v41zM1117.6 1017.8l36 -20.5v41zM1120.8 1017.0l36 -20.5v41zM1124.0 1016.2l36 -20.5v41zM1127.3 1015.5l36 -20.5v41zM1130.5 1014.7l36 -20.5v41zM1133.8 1014.0l36 -20.5v41zM1137.0 1013.2l36 -20.5v41zM1140.2 1012.4l36 -20.5v41zM1143.5 1011.7l36 -20.5v41zM1146.7 1010.9l36 -20.5v41zM1149.9 1010.0l36 -20.5v41zM1153.2 1009.2l36 -20.5v41zM1156.4 1008.4l36 -20.5v41zM1159.6 1007.5l36 -20.5v41zM1162.9 1006.6l36 -20.5v41zM1166.1 1005.7l36 -20.5v41zM1169.4 1004.8l36 -20.5v41zM1172.6 1003.9l36 -20.5v41zM1175.8 1003.0l36 -20.5v41zM1179.1 1002.1l36 -20.5v41zM1182.3 1001.1l36 -20.5v41zM1185.5 1000.2l36 -20.5v41zM1188.8 999.2l36 -20.5v41zM1192.0 998.3l36 -20.5v41zM1195.3 997.4l36 -20.5v41zM1198.5 996.4l36 -20.5v41zM1201.7 995.5l36 -20.5v41zM1205.0 994.6l36 -20.5v41zM1208.2 993.6l36 -20.5v41zM1211.4 992.7l36 -20.5v41zM1214.7 991.8l36 -20.5v41zM1217.9 991.0l36 -20.5v41zM1221.2 990.1l36 -20.5v41zM1224.4 989.3l36 -20.5v41zM1227.6 988.4l36 -20.5v41zM1230.9 987.6l36 -20.5v41zM1234.1 986.9l36 -20.5v41zM1237.3 986.1l36 -20.5v41zM1240.6 985.4l36 -20.5v41zM1243.8 984.6l36 -20.5v41zM1247.0 983.9l36 -20.5v41zM1250.3 983.2l36 -20.5v41zM1253.5 982.5l36 -20.5v41zM1256.8 981.8l36 -20.5v41zM1260.0 981.1l36 -20.5v41zM1263.2 980.4l36 -20.5v41zM1266.5 979.7l36 -20.5v41zM1269.7 979.0l36 -20.5v41zM1272.9 978.3l36 -20.5v41zM1276.2 977.6l36 -20.5v41zM1279.4 976.9l36 -20.5v41zM1282.7 976.2l36 -20.5v41zM1285.9 975.4l36 -20.5v41zM1289.1 974.7l36 -20.5v41zM1292.4 973.9l36 -20.5v41zM1295.6 973.1l36 -20.5v41zM1298.8 972.2l36 -20.5v41zM1302.1 971.3l36 -20.5v41zM1305.3 970.4l36 -20.5v41zM1308.6 969.4l36 -20.5v41zM1311.8 968.5l36 -20.5v41zM1315.0 967.4l36 -20.5v41zM1318.3 966.4l36 -20.5v41zM1321.5 965.3l36 -20.5v41zM1324.7 964.2l36 -20.5v41zM1328.0 963.1l36 -20.5v41zM1331.2 961.9l36 -20.5v41zM1334.4 960.8l36 -20.5v41zM1337.7 959.6l36 -20.5v41zM1340.9 958.4l36 -20.5v41zM1344.2 957.3l36 -20.5v41zM1347.4 956.1l36 -20.5v41zM1350.6 954.9l36 -20.5v41zM1353.9 953.8l36 -20.5v41zM1357.1 952.6l36 -20.5v41zM1360.3 951.5l36 -20.5v41zM1363.6 950.4l36 -20.5v41zM1366.8 949.3l36 -20.5v41zM1370.1 948.3l36 -20.5v41zM1373.3 947.3l36 -20.5v41zM1376.5 946.4l36 -20.5v41zM1379.8 945.4l36 -20.5v41zM1383.0 944.5l36 -20.5v41zM1386.2 943.5l36 -20.5v41zM1389.5 942.6l36 -20.5v41zM1392.7 941.7l36 -20.5v41zM1396.0 940.8l36 -20.5v41zM1399.2 939.9l36 -20.5v41zM1402.4 939.0l36 -20.5v41zM1405.7 938.1l36 -20.5v41zM1408.9 937.2l36 -20.5v41zM1412.1 936.3l36 -20.5v41zM1415.4 935.4l36 -20.5v41zM1418.6 934.6l36 -20.5v41zM1421.8 933.7l36 -20.5v41zM1425.1 932.8l36 -20.5v41zM1428.3 932.0l36 -20.5v41zM1431.6 931.2l36 -20.5v41zM1434.8 930.3l36 -20.5v41zM1438.0 929.5l36 -20.5v41zM1441.3 928.6l36 -20.5v41zM1444.5 927.8l36 -20.5v41zM1447.7 927.0l36 -20.5v41zM1451.0 926.2l36 -20.5v41zM1454.2 925.3l36 -20.5v41zM1457.5 924.5l36 -20.5v41zM1460.7 923.7l36 -20.5v41zM1463.9 922.9l36 -20.5v41zM1467.2 922.1l36 -20.5v41zM1470.4 921.3l36 -20.5v41zM1473.6 920.5l36 -20.5v41zM1476.9 919.7l36 -20.5v41zM1480.1 918.9l36 -20.5v41zM1483.4 918.1l36 -20.5v41zM1486.6 917.3l36 -20.5v41zM1489.8 916.5l36 -20.5v41zM1493.1 915.7l36 -20.5v41zM1496.3 914.9l36 -20.5v41zM1499.5 914.1l36 -20.5v41zM1502.8 913.3l36 -20.5v41zM1506.0 912.5l36 -20.5v41zM1509.2 911.7l36 -20.5v41zM1512.5 910.8l36 -20.5v41zM1515.7 910.0l36 -20.5v41zM1519.0 909.2l36 -20.5v41zM1522.2 908.4l36 -20.5v41zM1525.4 907.6l36 -20.5v41zM1528.7 906.7l36 -20.5v41zM1531.9 905.9l36 -20.5v41zM1535.1 905.1l36 -20.5v41zM1538.4 904.4l36 -20.5v41zM1541.6 903.6l36 -20.5v41zM1544.9 902.8l36 -20.5v41zM1548.1 902.0l36 -20.5v41zM1551.3 901.2l36 -20.5v41zM1554.6 900.4l36 -20.5v41zM1557.8 899.5l36 -20.5v41zM1561.0 898.7l36 -20.5v41zM1564.3 897.8l36 -20.5v41zM1567.5 897.0l36 -20.5v41zM1570.8 896.0l36 -20.5v41zM1574.0 895.1l36 -20.5v41zM1577.2 894.1l36 -20.5v41zM1580.5 893.1l36 -20.5v41zM1583.7 891.9l36 -20.5v41zM1586.9 890.8l36 -20.5v41zM1590.2 889.5l36 -20.5v41zM1593.4 888.2l36 -20.5v41zM1596.6 886.6l36 -20.5v41zM1599.9 885.0l36 -20.5v41zM1603.1 883.2l36 -20.5v41zM1606.4 881.2l36 -20.5v41zM1609.6 879.2l36 -20.5v41zM1612.8 877.1l36 -20.5v41zM1616.1 875.1l36 -20.5v41zM1619.3 873.0l36 -20.5v41zM1622.5 871.0l36 -20.5v41zM1625.8 869.1l36 -20.5v41zM1629.0 867.4l36 -20.5v41zM1632.3 865.9l36 -20.5v41zM1635.5 864.3l36 -20.5v41zM1638.7 862.9l36 -20.5v41zM1642.0 861.4l36 -20.5v41zM1645.2 859.9l36 -20.5v41zM1648.4 858.5l36 -20.5v41zM1651.7 857.1l36 -20.5v41zM1654.9 855.7l36 -20.5v41zM1658.2 854.2l36 -20.5v41zM1661.4 852.6l36 -20.5v41zM1664.6 851.0l36 -20.5v41zM1667.9 849.2l36 -20.5v41zM1671.1 847.4l36 -20.5v41zM1674.3 845.5l36 -20.5v41zM1677.6 843.6l36 -20.5v41zM1680.8 841.7l36 -20.5v41zM1684.0 839.8l36 -20.5v41zM1687.3 838.0l36 -20.5v41zM1690.5 836.2l36 -20.5v41zM1693.8 834.4l36 -20.5v41zM1697.0 832.7l36 -20.5v41zM1700.2 831.0l36 -20.5v41zM1703.5 829.3l36 -20.5v41zM1706.7 827.5l36 -20.5v41zM1709.9 825.6l36 -20.5v41zM1713.2 823.4l36 -20.5v41zM1716.4 821.0l36 -20.5v41zM1719.7 818.1l36 -20.5v41zM1722.9 814.1l36 -20.5v41zM1726.1 809.8l36 -20.5v41zM1729.4 806.7l36 -20.5v41zM1732.6 803.3l36 -20.5v41zM1735.8 798.4l36 -20.5v41zM1739.1 792.5l36 -20.5v41zM1742.3 786.4l36 -20.5v41zM1745.6 779.5l36 -20.5v41zM1748.8 771.2l36 -20.5v41zM1752.0 762.2l36 -20.5v41zM1755.3 753.5l36 -20.5v41zM1758.5 744.8l36 -20.5v41zM1761.7 735.1l36 -20.5v41zM1765.0 723.4l36 -20.5v41zM1768.2 710.7l36 -20.5v41zM1771.4 696.6l36 -20.5v41zM1774.7 678.0l36 -20.5v41zM1777.9 656.8l36 -20.5v41zM1781.2 633.4l36 -20.5v41zM1784.4 605.2l36 -20.5v41zM1787.6 566.6l36 -20.5v41zM1790.9 518.4l36 -20.5v41zM1794.1 465.6l36 -20.5v41zM1797.3 389.6l36 -20.5v41z"/>
<path fill="#8000ff" d="M401.6 1352.4l-36 -20.5v41zM404.8 1352.4l-36 -20.5v41zM408.1 1352.4l-36 -20.5v41zM411.3 1352.4l-36 -20.5v41zM414.6 1352.4l-36 -20.5v41zM417.8 1351.6l-36 -20.5v41zM421.0 1349.4l-36 -20.5v41zM424.3 1346.2l-36 -20.5v41zM427.5 1341.9l-36 -20.5v41zM430.7 1337.4l-36 -20.5v41zM434.0 1332.9l-36 -20.5v41zM437.2 1328.9l-36 -20.5v41zM440.5 1325.6l-36 -20.5v41zM443.7 1323.1l-36 -20.5v41zM446.9 1321.2l-36 -20.5v41zM450.2 1319.4l-36 -20.5v41zM453.4 1317.7l-36 -20.5v41zM456.6 1315.9l-36 -20.5v41zM459.9 1314.1l-36 -20.5v41zM463.1 1312.3l-36 -20.5v41zM466.3 1310.5l-36 -20.5v41zM469.6 1308.4l-36 -20.5v41zM472.8 1306.0l-36 -20.5v41zM476.1 1302.9l-36 -20.5v41zM479.3 1299.9l-36 -20.5v41zM482.5 1297.0l-36 -20.5v41zM485.8 1294.4l-36 -20.5v41zM489.0 1292.2l-36 -20.5v41zM492.2 1290.3l-36 -20.5v41zM495.5 1288.5l-36 -20.5v41zM498.7 1286.9l-36 -20.5v41zM502.0 1285.3l-36 -20.5v41zM505.2 1283.8l-36 -20.5v41zM508.4 1282.3l-36 -20.5v41zM511.7 1280.7l-36 -20.5v41zM514.9 1279.7l-36 -20.5v41zM518.1 1278.7l-36 -20.5v41zM521.4 1277.6l-36 -20.5v41zM524.6 1276.6l-36 -20.5v41zM527.9 1275.5l-36 -20.5v41zM531.1 1274.4l-36 -20.5v41zM534.3 1273.3l-36 -20.5v41zM537.6 1272.2l-36 -20.5v41zM540.8 1271.0l-36 -20.5v41zM544.0 1269.7l-36 -20.5v41zM547.3 1268.4l-36 -20.5v41zM550.5 1266.8l-36 -20.5v41zM553.7 1265.2l-36 -20.5v41zM557.0 1263.4l-36 -20.5v41zM560.2 1261.6l-36 -20.5v41zM563.5 1259.7l-36 -20.5v41zM566.7 1257.8l-36 -20.5v41zM569.9 1255.8l-36 -20.5v41zM573.2 1253.7l-36 -20.5v41zM576.4 1251.6l-36 -20.5v41zM579.6 1249.5l-36 -20.5v41zM582.9 1247.4l-36 -20.5v41zM586.1 1245.2l-36 -20.5v41zM589.4 1243.0l-36 -20.5v41zM592.6 1240.8l-36 -20.5v41zM595.8 1238.6l-36 -20.5v41zM599.1 1236.4l-36 -20.5v41zM602.3 1234.3l-36 -20.5v41zM605.5 1232.2l-36 -20.5v41zM608.8 1230.3l-36 -20.5v41zM612.0 1228.3l-36 -20.5v41zM615.3 1226.5l-36 -20.5v41zM618.5 1224.7l-36 -20.5v41zM621.7 1223.1l-36 -20.5v41zM625.0 1221.5l-36 -20.5v41zM628.2 1219.9l-36 -20.5v41zM631.4 1218.4l-36 -20.5v41zM634.7 1216.5l-36 -20.5v41zM637.9 1214.6l-36 -20.5v41zM641.1 1212.6l-36 -20.5v41zM644.4 1210.8l-36 -20.5v41zM647.6 1208.9l-36 -20.5v41zM650.9 1207.1l-36 -20.5v41zM654.1 1205.3l-36 -20.5v41zM657.3 1203.4l-36 -20.5v41zM660.6 1201.7l-36 -20.5v41zM663.8 1199.9l-36 -20.5v41zM667.0 1198.1l-36 -20.5v41zM670.3 1196.3l-36 -20.5v41zM673.5 1195.0l-36 -20.5v41zM676.8 1193.7l-36 -20.5v41zM680.0 1192.5l-36 -20.5v41zM683.2 1191.1l-36 -20.5v41zM686.5 1189.8l-36 -20.5v41zM689.7 1188.4l-36 -20.5v41zM692.9 1187.0l-36 -20.5v41zM696.2 1185.6l-36 -20.5v41zM699.4 1184.2l-36 -20.5v41zM702.7 1182.7l-36 -20.5v41zM705.9 1181.2l-36 -20.5v41zM709.1 1179.7l-36 -20.5v41zM712.4 1178.2l-36 -20.5v41zM715.6 1176.6l-36 -20.5v41zM718.8 1174.9l-36 -20.5v41zM722.1 1173.2l-36 -20.5v41zM725.3 1171.6l-36 -20.5v41zM728.5 1169.9l-36 -20.5v41zM731.8 1168.2l-36 -20.5v41zM735.0 1166.5l-36 -20.5v41zM738.3 1164.8l-36 -20.5v41zM741.5 1163.1l-36 -20.5v41zM744.7 1161.5l-36 -20.5v41zM748.0 1159.8l-36 -20.5v41zM751.2 1158.1l-36 -20.5v41zM754.4 1156.4l-36 -20.5v41zM757.7 1154.4l-36 -20.5v41zM760.9 1152.4l-36 -20.5v41zM764.2 1150.4l-36 -20.5v41zM767.4 1148.5l-36 -20.5v41zM770.6 1146.5l-36 -20.5v41zM773.9 1144.6l-36 -20.5v41zM777.1 1142.6l-36 -20.5v41zM780.3 1140.7l-36 -20.5v41zM783.6 1138.7l-36 -20.5v41zM786.8 1136.8l-36 -20.5v41zM790.1 1134.9l-36 -20.5v41zM793.3 1132.9l-36 -20.5v41zM796.5 1131.0l-36 -20.5v41zM799.8 1129.2l-36 -20.5v41zM803.0 1127.6l-36 -20.5v41zM806.2 1126.0l-36 -20.5v41zM809.5 1124.4l-36 -20.5v41zM812.7 1122.7l-36 -20.5v41zM815.9 1121.1l-36 -20.5v41zM819.2 1119.5l-36 -20.5v41zM822.4 1117.9l-36 -20.5v41zM825.7 1116.3l-36 -20.5v41zM828.9 1114.7l-36 -20.5v41zM832.1 1113.1l-36 -20.5v41zM835.4 1111.5l-36 -20.5v41zM838.6 1109.9l-36 -20.5v41zM841.8 1108.3l-36 -20.5v41zM845.1 1106.7l-36 -20.5v41zM848.3 1105.2l-36 -20.5v41zM851.6 1103.6l-36 -20.5v41zM854.8 1102.0l-36 -20.5v41zM858.0 1100.5l-36 -20.5v41zM861.3 1098.9l-36 -20.5v41zM864.5 1097.3l-36 -20.5v41zM867.7 1095.8l-36 -20.5v41zM871.0 1094.2l-36 -20.5v41zM874.2 1092.7l-36 -20.5v41zM877.5 1091.1l-36 -20.5v41zM880.7 1089.6l-36 -20.5v41zM883.9 1088.0l-36 -20.5v41zM887.2 1086.5l-36 -20.5v41zM890.4 1084.9l-36 -20.5v41zM893.6 1083.3l-36 -20.5v41zM896.9 1081.8l-36 -20.5v41zM900.1 1080.2l-36 -20.5v41zM903.3 1078.6l-36 -20.5v41zM906.6 1077.0l-36 -20.5v41zM909.8 1075.4l-36 -20.5v41zM913.1 1073.8l-36 -20.5v41zM916.3 1072.2l-36 -20.5v41zM919.5 1070.5l-36 -20.5v41zM922.8 1068.9l-36 -20.5v41zM926.0 1067.2l-36 -20.5v41zM929.2 1065.5l-36 -20.5v41zM932.5 1063.8l-36 -20.5v41zM935.7 1062.1l-36 -20.5v41zM939.0 1060.4l-36 -20.5v41zM942.2 1058.7l-36 -20.5v41zM945.4 1056.9l-36 -20.5v41zM948.7 1055.2l-36 -20.5v41zM951.9 1053.5l-36 -20.5v41zM955.1 1051.8l-36 -20.5v41zM958.4 1050.1l-36 -20.5v41zM961.6 1048.4l-36 -20.5v41zM964.9 1046.8l-36 -20.5v41zM968.1 1045.1l-36 -20.5v41zM971.3 1043.5l-36 -20.5v41zM974.6 1041.9l-36 -20.5v41zM977.8 1040.4l-36 -20.5v41zM981.0 1038.8l-36 -20.5v41zM984.3 1037.4l-36 -20.5v41zM987.5 1035.9l-36 -20.5v41zM990.7 1034.5l-36 -20.5v41zM994.0 1033.1l-36 -20.5v41zM997.2 1031.7l-36 -20.5v41zM1000.5 1030.3l-36 -20.5v41zM1003.7 1028.9l-36 -20.5v41zM1006.9 1027.6l-36 -20.5v41zM1010.2 1026.2l-36 -20.5v41zM1013.4 1024.9l-36 -20.5v41zM1016.6 1023.6l-36 -20.5v41zM1019.9 1022.3l-36 -20.5v41zM1023.1 1021.0l-36 -20.5v41zM1026.4 1019.7l-36 -20.5v41zM1029.6 1018.4l-36 -20.5v41zM1032.8 1017.1l-36 -20.5v41zM1036.1 1015.9l-36 -20.5v41zM1039.3 1014.6l-36 -20.5v41zM1042.5 1013.3l-36 -20.5v41zM1045.8 1012.0l-36 -20.5v41zM1049.0 1010.7l-36 -20.5v41zM1052.3 1009.4l-36 -20.5v41zM1055.5 1008.1l-36 -20.5v41zM1058.7 1006.8l-36 -20.5v41zM1062.0 1005.5l-36 -20.5v41zM1065.2 1004.2l-36 -20.5v41zM1068.4 1002.8l-36 -20.5v41zM1071.7 1001.5l-36 -20.5v41zM1074.9 1000.1l-36 -20.5v41zM1078.1 998.7l-36 -20.5v41zM1081.4 997.3l-36 -20.5v41zM1084.6 995.9l-36 -20.5v41zM1087.9 994.6l-36 -20.5v41zM1091.1 993.2l-36 -20.5v41zM1094.3 991.8l-36 -20.5v41zM1097.6 990.5l-36 -20.5v41zM1100.8 989.1l-36 -20.5v41zM1104.0 987.8l-36 -20.5v41zM1107.3 986.5l-36 -20.5v41zM1110.5 985.2l-36 -20.5v41zM1113.8 984.0l-36 -20.5v41zM1117.0 982.7l-36 -20.5v41zM1120.2 981.6l-36 -20.5v41zM1123.5 980.4l-36 -20.5v41zM1126.7 979.3l-36 -20.5v41zM1130.0 978.3l-36 -20.5v41zM1133.2 977.2l-36 -20.5v41zM1136.4 976.3l-36 -20.5v41zM1139.7 975.3l-36 -20.5v41zM1142.9 974.4l-36 -20.5v41zM1146.1 973.5l-36 -20.5v41zM1149.4 972.6l-36 -20.5v41zM1152.6 971.8l-36 -20.5v41zM1155.9 970.9l-36 -20.5v41zM1159.1 970.1l-36 -20.5v41zM1162.3 969.3l-36 -20.5v41zM1165.6 968.5l-36 -20.5v41zM1168.8 967.7l-36 -20.5v41zM1172.0 966.9l-36 -20.5v41zM1175.3 966.1l-36 -20.5v41zM1178.5 965.3l-36 -20.5v41zM1181.8 964.5l-36 -20.5v41zM1185.0 963.7l-36 -20.5v41zM1188.2 962.8l-36 -20.5v41zM1191.5 962.0l-36 -20.5v41zM1194.7 961.1l-36 -20.5v41zM1197.9 960.2l-36 -20.5v41zM1201.2 959.3l-36 -20.5v41zM1204.4 958.3l-36 -20.5v41zM1207.6 957.3l-36 -20.5v41zM1210.9 956.3l-36 -20.5v41zM1214.1 955.3l-36 -20.5v41zM1217.4 954.2l-36 -20.5v41zM1220.6 953.1l-36 -20.5v41zM1223.8 952.0l-36 -20.5v41zM1227.1 950.9l-36 -20.5v41zM1230.3 949.8l-36 -20.5v41zM1233.5 948.6l-36 -20.5v41zM1236.8 947.5l-36 -20.5v41zM1240.0 946.3l-36 -20.5v41zM1243.3 945.2l-36 -20.5v41zM1246.5 944.0l-36 -20.5v41zM1249.7 942.9l-36 -20.5v41zM1253.0 941.7l-36 -20.5v41zM1256.2 940.6l-36 -20.5v41zM1259.4 939.5l-36 -20.5v41zM1262.7 938.4l-36 -20.5v41zM1265.9 937.3l-36 -20.5v41zM1269.2 936.3l-36 -20.5v41zM1272.4 935.3l-36 -20.5v41zM1275.6 934.3l-36 -20.5v41zM1278.9 933.4l-36 -20.5v41zM1282.1 932.4l-36 -20.5v41zM1285.3 931.5l-36 -20.5v41zM1288.6 930.6l-36 -20.5v41zM1291.8 929.7l-36 -20.5v41zM1295.0 928.8l-36 -20.5v41zM1298.3 927.9l-36 -20.5v41zM1301.5 927.0l-36 -20.5v41zM1304.8 926.1l-36 -20.5v41zM1308.0 925.2l-36 -20.5v41zM1311.2 924.4l-36 -20.5v41zM1314.5 923.5l-36 -20.5v41zM1317.7 922.6l-36 -20.5v41zM1320.9 921.8l-36 -20.5v41zM1324.2 920.9l-36 -20.5v41zM1327.4 920.1l-36 -20.5v41zM1330.7 919.2l-36 -20.5v41zM1333.9 918.4l-36 -20.5v41zM1337.1 917.6l-36 -20.5v41zM1340.4 916.7l-36 -20.5v41zM1343.6 915.9l-36 -20.5v41zM1346.8 915.0l-36 -20.5v41zM1350.1 914.2l-36 -20.5v41zM1353.3 913.3l-36 -20.5v41zM1356.6 912.5l-36 -20.5v41zM1359.8 911.7l-36 -20.5v41zM1363.0 910.8l-36 -20.5v41zM1366.3 910.0l-36 -20.5v41zM1369.5 909.2l-36 -20.5v41zM1372.7 908.3l-36 -20.5v41zM1376.0 907.5l-36 -20.5v41zM1379.2 906.7l-36 -20.5v41zM1382.4 905.8l-36 -20.5v41zM1385.7 905.0l-36 -20.5v41zM1388.9 904.2l-36 -20.5v41zM1392.2 903.3l-36 -20.5v41zM1395.4 902.5l-36 -20.5v41zM1398.6 901.7l-36 -20.5v41zM1401.9 900.8l-36 -20.5v41zM1405.1 900.0l-36 -20.5v41zM1408.3 899.2l-36 -20.5v41zM1411.6 898.3l-36 -20.5v41zM1414.8 897.5l-36 -20.5v41zM1418.1 896.6l-36 -20.5v41zM1421.3 895.8l-36 -20.5v41zM1424.5 894.9l-36 -20.5v41zM1427.8 894.1l-36 -20.5v41zM1431.0 893.2l-36 -20.5v41zM1434.2 892.3l-36 -20.5v41zM1437.5 891.5l-36 -20.5v41zM1440.7 890.6l-36 -20.5v41zM1444.0 889.7l-36 -20.5v41zM1447.2 888.8l-36 -20.5v41zM1450.4 887.9l-36 -20.5v41zM1453.7 887.0l-36 -20.5v41zM1456.9 886.1l-36 -20.5v41zM1460.1 885.3l-36 -20.5v41zM1463.4 884.3l-36 -20.5v41zM1466.6 883.5l-36 -20.5v41zM1469.8 882.6l-36 -20.5v41zM1473.1 881.6l-36 -20.5v41zM1476.3 880.7l-36 -20.5v41zM1479.6 879.8l-36 -20.5v41zM1482.8 878.9l-36 -20.5v41zM1486.0 878.0l-36 -20.5v41zM1489.3 877.0l-36 -20.5v41zM1492.5 876.1l-36 -20.5v41zM1495.7 875.2l-36 -20.5v41zM1499.0 874.2l-36 -20.5v41zM1502.2 873.3l-36 -20.5v41zM1505.5 872.4l-36 -20.5v41zM1508.7 871.4l-36 -20.5v41zM1511.9 870.5l-36 -20.5v41zM1515.2 869.5l-36 -20.5v41zM1518.4 868.6l-36 -20.5v41zM1521.6 867.6l-36 -20.5v41zM1524.9 866.6l-36 -20.5v41zM1528.1 865.7l-36 -20.5v41zM1531.4 864.7l-36 -20.5v41zM1534.6 863.7l-36 -20.5v41zM1537.8 862.7l-36 -20.5v41zM1541.1 861.7l-36 -20.5v41zM1544.3 860.7l-36 -20.5v41zM1547.5 859.6l-36 -20.5v41zM1550.8 858.6l-36 -20.5v41zM1554.0 857.5l-36 -20.5v41zM1557.2 856.5l-36 -20.5v41zM1560.5 855.4l-36 -20.5v41zM1563.7 854.3l-36 -20.5v41zM1567.0 853.1l-36 -20.5v41zM1570.2 852.0l-36 -20.5v41zM1573.4 850.8l-36 -20.5v41zM1576.7 849.6l-36 -20.5v41zM1579.9 848.3l-36 -20.5v41zM1583.1 847.0l-36 -20.5v41zM1586.4 845.7l-36 -20.5v41zM1589.6 844.3l-36 -20.5v41zM1592.9 842.9l-36 -20.5v41zM1596.1 841.5l-36 -20.5v41zM1599.3 840.1l-36 -20.5v41zM1602.6 838.7l-36 -20.5v41zM1605.8 837.2l-36 -20.5v41zM1609.0 835.8l-36 -20.5v41zM1612.3 834.3l-36 -20.5v41zM1615.5 832.9l-36 -20.5v41zM1618.8 831.4l-36 -20.5v41zM1622.0 830.0l-36 -20.5v41zM1625.2 828.6l-36 -20.5v41zM1628.5 827.2l-36 -20.5v41zM1631.7 825.9l-36 -20.5v41zM1634.9 824.6l-36 -20.5v41zM1638.2 823.4l-36 -20.5v41zM1641.4 822.3l-36 -20.5v41zM1644.6 821.2l-36 -20.5v41zM1647.9 820.1l-36 -20.5v41zM1651.1 819.1l-36 -20.5v41zM1654.4 818.1l-36 -20.5v41zM1657.6 817.1l-36 -20.5v41zM1660.8 816.1l-36 -20.5v41zM1664.1 815.1l-36 -20.5v41zM1667.3 814.2l-36 -20.5v41zM1670.5 813.2l-36 -20.5v41zM1673.8 812.2l-36 -20.5v41zM1677.0 811.2l-36 -20.5v41zM1680.3 810.2l-36 -20.5v41zM1683.5 809.2l-36 -20.5v41zM1686.7 808.1l-36 -20.5v41zM1690.0 806.9l-36 -20.5v41zM1693.2 805.8l-36 -20.5v41zM1696.4 804.6l-36 -20.5v41zM1699.7 803.5l-36 -20.5v41zM1702.9 802.3l-36 -20.5v41zM1706.2 801.1l-36 -20.5v41zM1709.4 799.8l-36 -20.5v41zM1712.6 798.5l-36 -20.5v41zM1715.9 797.1l-36 -20.5v41zM1719.1 795.7l-36 -20.5v41zM1722.3 794.2l-36 -20.5v41zM1725.6 792.6l-36 -20.5v41zM1728.8 790.9l-36 -20.5v41zM1732.0 789.1l-36 -20.5v41zM1735.3 787.2l-36 -20.5v41zM1738.5 785.2l-36 -20.5v41zM1741.8 783.1l-36 -20.5v41zM1745.0 780.9l-36 -20.5v41zM1748.2 778.5l-36 -20.5v41zM1751.5 776.1l-36 -20.5v41zM1754.7 773.5l-36 -20.5v41zM1757.9 770.8l-36 -20.5v41zM1761.2 768.0l-36 -20.5v41zM1764.4 765.0l-36 -20.5v41zM1767.7 762.0l-36 -20.5v41zM1770.9 758.9l-36 -20.5v41zM1774.1 755.3l-36 -20.5v41zM1777.4 751.1l-36 -20.5v41zM1780.6 746.0l-36 -20.5v41zM1783.8 738.6l-36 -20.5v41zM1787.1 729.9l-36 -20.5v41zM1790.3 721.7l-36 -20.5v41zM1793.6 715.4l-36 -20.5v41zM1796.8 708.1l-36 -20.5v41zM1800.0 699.6l-36 -20.5v41zM1803.3 691.2l-36 -20.5v41zM1806.5 681.7l-36 -20.5v41zM1809.7 671.3l-36 -20.5v41zM1813.0 659.6l-36 -20.5v41zM1816.2 646.6l-36 -20.5v41zM1819.4 630.1l-36 -20.5v41zM1822.7 613.2l-36 -20.5v41zM1825.9 591.2l-36 -20.5v41zM1829.2 566.1l-36 -20.5v41zM1832.4 535.7l-36 -20.5v41zM1835.6 499.2l-36 -20.5v41zM1838.9 452.6l-36 -20.5v41zM1842.1 392.9l-36 -20.5v41zM1845.3 310.4l-36 -20.5v41z"/>
<path fill="#800080" d="M377.6 1318.0l16.5 9.5v19l-16.5 9.5l-16.5 -9.5v-19zM380.8 1318.0l16.5 9.5v19l-16.5 9.5l-16.5 -9.5v-19zM384.1 1318.0l16.5 9.5v19l-16.5 9.5l-16.5 -9.5v-19zM387.3 1318.0l16.5 9.5v19l-16.5 9.5l-16.5 -9.5v-19zM390.6 1318.0l16.5 9.5v19l-16.5 9.5l-16.5 -9.5v-19zM393.8 1317.1l16.5 9.5v19l-16.5 9.5l-16.5 -9.5v-19zM397.0 1314.5l16.5 9.5v19l-16.5 9.5l-16.5 -9.5v-19zM400.3 1310.6l16.5 9.5v19l-16.5 9.5l-16.5 -9.5v-19zM403.5 1305.9l16.5 9.5v19l-16.5 9.5l-16.5 -9.5v-19zM406.7 1300.6l16.5 9.5v19l-16.5 9.5l-16.5 -9.5v-19zM410.0 1295.3l16.5 9.5v19l-16.5 9.5l-16.5 -9.5v-19zM413.2 1290.2l16.5 9.5v19l-16.5 9.5l-16.5 -9.5v-19zM416.5 1285.8l16.5 9.5v19l-16.5 9.5l-16.5 -9.5v-19zM419.7 1282.3l16.5 9.5v19l-16.5 9.5l-16.5 -9.5v-19zM422.9 1279.0l16.5 9.5v19l-16.5 9.5l-16.5 -9.5v-19zM426.2 1275.7l16.5 9.5v19l-16.5 9.5l-16.5 -9.5v-19zM429.4 1272.7l16.5 9.5v19l-16.5 9.5l-16.5 -9.5v-19zM432.6 1269.9l16.5 9.5v19l-16.5 9.5l-16.5 -9.5v-19zM435.9 1267.3l16.5 9.5v19l-16.5 9.5l-16.5 -9.5v-19zM439.1 1265.1l16.5 9.5v19l-16.5 9.5l-16.5 -9.5v-19zM442.3 1263.1l16.5 9.5v19l-16.5 9.5l-16.5 -9.5v-19zM445.6 1261.2l16.5 9.5v19l-16.5 9.5l-16.5 -9.5v-19zM448.8 1259.2l16.5 9.5v19l-16.5 9.5l-16.5 -9.5v-19zM452.1 1257.2l16.5 9.5v19l-16.5 9.5l-16.5 -9.5v-19zM455.3 1255.0l16.5 9.5v19l-16.5 9.5l-16.5 -9.5v-19zM458.5 1252.6l16.5 9.5v19l-16.5 9.5l-16.5 -9.5v-19zM461.8 1250.2l16.5 9.5v19l-16.5 9.5l-16.5 -9.5v-19zM465.0 1247.8l16.5 9.5v19l-16.5 9.5l-16.5 -9.5v-19zM468.2 1245.4l16.5 9.5v19l-16.5 9.5l-16.5 -9.5v-19zM471.5 1243.1l16.5 9.5v19l-16.5 9.5l-16.5 -9.5v-19zM474.7 1240.8l16.5 9.5v19l-16.5 9.5l-16.5 -9.5v-19zM478.0 1238.5l16.5 9.5v19l-16.5 9.5l-16.5 -9.5v-19zM481.2 1236.2l16.5 9.5v19l-16.5 9.5l-16.5 -9.5v-19zM484.4 1234.0l16.5 9.5v19l-16.5 9.5l-16.5 -9.5v-19zM487.7 1232.0l16.5 9.5v19l-16.5 9.5l-16.5 -9.5v-19zM490.9 1230.0l16.5 9.5v19l-16.5 9.5l-16.5 -9.5v-19zM494.1 1228.2l16.5 9.5v19l-16.5 9.5l-16.5 -9.5v-19zM497.4 1226.4l16.5 9.5v19l-16.5 9.5l-16.5 -9.5v-19zM500.6 1224.6l16.5 9.5v19l-16.5 9.5l-16.5 -9.5v-19zM503.9 1222.9l16.5 9.5v19l-16.5 9.5l-16.5 -9.5v-19zM507.1 1221.2l16.5 9.5v19l-16.5 9.5l-16.5 -9.5v-19zM510.3 1219.6l16.5 9.5v19l-16.5 9.5l-16.5 -9.5v-19zM513.6 1218.0l16.5 9.5v19l-16.5 9.5l-16.5 -9.5v-19zM516.8 1216.4l16.5 9.5v19l-16.5 9.5l-16.5 -9.5v-19zM520.0 1214.7l16.5 9.5v19l-16.5 9.5l-16.5 -9.5v-19zM523.3 1212.8l16.5 9.5v19l-16.5 9.5l-16.5 -9.5v-19zM526.5 1210.8l16.5 9.5v19l-16.5 9.5l-16.5 -9.5v-19zM529.7 1208.6l16.5 9.5v19l-16.5 9.5l-16.5 -9.5v-19zM533.0 1206.3l16.5 9.5v19l-16.5 9.5l-16.5 -9.5v-19zM536.2 1203.9l16.5 9.5v19l-16.5 9.5l-16.5 -9.5v-19zM539.5 1201.5l16.5 9.5v19l-16.5 9.5l-16.5 -9.5v-19zM542.7 1199.1l16.5 9.5v19l-16.5 9.5l-16.5 -9.5v-19zM545.9 1196.7l16.5 9.5v19l-16.5 9.5l-16.5 -9.5v-19zM549.2 1194.1l16.5 9.5v19l-16.5 9.5l-16.5 -9.5v-19zM552.4 1191.6l16.5 9.5v19l-16.5 9.5l-16.5 -9.5v-19zM555.6 1189.0l16.5 9.5v19l-16.5 9.5l-16.5 -9.5v-19zM558.9 1186.4l16.5 9.5v19l-16.5 9.5l-16.5 -9.5v-19zM562.1 1183.6l16.5 9.5v19l-16.5 9.5l-16.5 -9.5v-19zM565.4 1180.8l16.5 9.5v19l-16.5 9.5l-16.5 -9.5v-19zM568.6 1178.0l16.5 9.5v19l-16.5 9.5l-16.5 -9.5v-19zM571.8 1175.4l16.5 9.5v19l-16.5 9.5l-16.5 -9.5v-19zM575.1 1172.7l16.5 9.5v19l-16.5 9.5l-16.5 -9.5v-19zM578.3 1170.1l16.5 9.5v19l-16.5 9.5l-16.5 -9.5v-19zM581.5 1167.5l16.5 9.5v19l-16.5 9.5l-16.5 -9.5v-19zM584.8 1164.9l16.5 9.5v19l-16.5 9.5l-16.5 -9.5v-19zM588.0 1162.3l16.5 9.5v19l-16.5 9.5l-16.5 -9.5v-19zM591.3 1159.8l16.5 9.5v19l-16.5 9.5l-16.5 -9.5v-19zM594.5 1157.4l16.5 9.5v19l-16.5 9.5l-16.5 -9.5v-19zM597.7 1155.0l16.5 9.5v19l-16.5 9.5l-16.5 -9.5v-19zM601.0 1152.7l16.5 9.5v19l-16.5 9.5l-16.5 -9.5v-19zM604.2 1150.4l16.5 9.5v19l-16.5 9.5l-16.5 -9.5v-19zM607.4 1148.2l16.5 9.5v19l-16.5 9.5l-16.5 -9.5v-19zM610.7 1146.0l16.5 9.5v19l-16.5 9.5l-16.5 -9.5v-19zM613.9 1143.8l16.5 9.5v19l-16.5 9.5l-16.5 -9.5v-19zM617.1 1141.5l16.5 9.5v19l-16.5 9.5l-16.5 -9.5v-19zM620.4 1139.3l16.5 9.5v19l-16.5 9.5l-16.5 -9.5v-19zM623.6 1137.1l16.5 9.5v19l-16.5 9.5l-16.5 -9.5v-19zM626.9 1135.0l16.5 9.5v19l-16.5 9.5l-16.5 -9.5v-19zM630.1 1133.0l16.5 9.5v19l-16.5 9.5l-16.5 -9.5v-19zM633.3 1131.1l16.5 9.5v19l-16.5 9.5l-16.5 -9.5v-19zM636.6 1129.3l16.5 9.5v19l-16.5 9.5l-16.5 -9.5v-19zM639.8 1127.6l16.5 9.5v19l-16.5 9.5l-16.5 -9.5v-19zM643.0 1125.9l16.5 9.5v19l-16.5 9.5l-16.5 -9.5v-19zM646.3 1124.0l16.5 9.5v19l-16.5 9.5l-16.5 -9.5v-19zM649.5 1122.1l16.5 9.5v19l-16.5 9.5l-16.5 -9.5v-19zM652.8 1120.1l16.5 9.5v19l-16.5 9.5l-16.5 -9.5v-19zM656.0 1118.0l16.5 9.5v19l-16.5 9.5l-16.5 -9.5v-19zM659.2 1115.9l16.5 9.5v19l-16.5 9.5l-16.5 -9.5v-19zM662.5 1113.7l16.5 9.5v19l-16.5 9.5l-16.5 -9.5v-19zM665.7 1111.6l16.5 9.5v19l-16.5 9.5l-16.5 -9.5v-19zM668.9 1109.5l16.5 9.5v19l-16.5 9.5l-16.5 -9.5v-19zM672.2 1107.4l16.5 9.5v19l-16.5 9.5l-16.5 -9.5v-19zM675.4 1105.3l16.5 9.5v19l-16.5 9.5l-16.5 -9.5v-19zM678.7 1103.2l16.5 9.5v19l-16.5 9.5l-16.5 -9.5v-19zM681.9 1101.1l16.5 9.5v19l-16.5 9.5l-16.5 -9.5v-19zM685.1 1099.0l16.5 9.5v19l-16.5 9.5l-16.5 -9.5v-19zM688.4 1096.9l16.5 9.5v19l-16.5 9.5l-16.5 -9.5v-19zM691.6 1094.8l16.5 9.5v19l-16.5 9.5l-16.5 -9.5v-19zM694.8 1092.7l16.5 9.5v19l-16.5 9.5l-16.5 -9.5v-19zM698.1 1090.6l16.5 9.5v19l-16.5 9.5l-16.5 -9.5v-19zM701.3 1088.4l16.5 9.5v19l-16.5 9.5l-16.5 -9.5v-19zM704.5 1086.2l16.5 9.5v19l-16.5 9.5l-16.5 -9.5v-19zM707.8 1083.8l16.5 9.5v19l-16.5 9.5l-16.5 -9.5v-19zM711.0 1081.5l16.5 9.5v19l-16.5 9.5l-16.5 -9.5v-19zM714.3 1079.2l16.5 9.5v19l-16.5 9.5l-16.5 -9.5v-19zM717.5 1077.0l16.5 9.5v19l-16.5 9.5l-16.5 -9.5v-19zM720.7 1074.8l16.5 9.5v19l-16.5 9.5l-16.5 -9.5v-19zM724.0 1072.8l16.5 9.5v19l-16.5 9.5l-16.5 -9.5v-19zM727.2 1070.7l16.5 9.5v19l-16.5 9.5l-16.5 -9.5v-19zM730.4 1068.7l16.5 9.5v19l-16.5 9.5l-16.5 -9.5v-19zM733.7 1066.7l16.5 9.5v19l-16.5 9.5l-16.5 -9.5v-19zM736.9 1064.7l16.5 9.5v19l-16.5 9.5l-16.5 -9.5v-19zM740.2 1062.7l16.5 9.5v19l-16.5 9.5l-16.5 -9.5v-19zM743.4 1060.7l16.5 9.5v19l-16.5 9.5l-16.5 -9.5v-19zM746.6 1058.8l16.5 9.5v19l-16.5 9.5l-16.5 -9.5v-19zM749.9 1056.8l16.5 9.5v19l-16.5 9.5l-16.5 -9.5v-19zM753.1 1054.9l16.5 9.5v19l-16.5 9.5l-16.5 -9.5v-19zM756.3 1052.9l16.5 9.5v19l-16.5 9.5l-16.5 -9.5v-19zM759.6 1051.0l16.5 9.5v19l-16.5 9.5l-16.5 -9.5v-19zM762.8 1049.0l16.5 9.5v19l-16.5 9.5l-16.5 -9.5v-19zM766.1 1047.0l16.5 9.5v19l-16.5 9.5l-16.5 -9.5v-19zM769.3 1045.0l16.5 9.5v19l-16.5 9.5l-16.5 -9.5v-19zM772.5 1043.0l16.5 9.5v19l-16.5 9.5l-16.5 -9.5v-19zM775.8 1041.1l16.5 9.5v19l-16.5 9.5l-16.5 -9.5v-19zM779.0 1039.1l16.5 9.5v19l-16.5 9.5l-16.5 -9.5v-19zM782.2 1037.1l16.5 9.5v19l-16.5 9.5l-16.5 -9.5v-19zM785.5 1035.1l16.5 9.5v19l-16.5 9.5l-16.5 -9.5v-19zM788.7 1033.2l16.5 9.5v19l-16.5 9.5l-16.5 -9.5v-19zM791.9 1031.2l16.5 9.5v19l-16.5 9.5l-16.5 -9.5v-19zM795.2 1029.2l16.5 9.5v19l-16.5 9.5l-16.5 -9.5v-19zM798.4 1027.2l16.5 9.5v19l-16.5 9.5l-16.5 -9.5v-19zM801.7 1025.1l16.5 9.5v19l-16.5 9.5l-16.5 -9.5v-19zM804.9 1023.1l16.5 9.5v19l-16.5 9.5l-16.5 -9.5v-19zM808.1 1021.1l16.5 9.5v19l-16.5 9.5l-16.5 -9.5v-19zM811.4 1019.0l16.5 9.5v19l-16.5 9.5l-16.5 -9.5v-19zM814.6 1016.9l16.5 9.5v19l-16.5 9.5l-16.5 -9.5v-19zM817.8 1014.8l16.5 9.5v19l-16.5 9.5l-16.5 -9.5v-19zM821.1 1012.7l16.5 9.5v19l-16.5 9.5l-16.5 -9.5v-19zM824.3 1010.6l16.5 9.5v19l-16.5 9.5l-16.5 -9.5v-19zM827.6 1008.6l16.5 9.5v19l-16.5 9.5l-16.5 -9.5v-19zM830.8 1006.5l16.5 9.5v19l-16.5 9.5l-16.5 -9.5v-19zM834.0 1004.5l16.5 9.5v19l-16.5 9.5l-16.5 -9.5v-19zM837.3 1002.5l16.5 9.5v19l-16.5 9.5l-16.5 -9.5v-19zM840.5 1000.6l16.5 9.5v19l-16.5 9.5l-16.5 -9.5v-19zM843.7 998.7l16.5 9.5v19l-16.5 9.5l-16.5 -9.5v-19zM847.0 996.8l16.5 9.5v19l-16.5 9.5l-16.5 -9.5v-19zM850.2 995.0l16.5 9.5v19l-16.5 9.5l-16.5 -9.5v-19zM853.5 993.1l16.5 9.5v19l-16.5 9.5l-16.5 -9.5v-19zM856.7 991.1l16.5 9.5v19l-16.5 9.5l-16.5 -9.5v-19zM859.9 989.1l16.5 9.5v19l-16.5 9.5l-16.5 -9.5v-19zM863.2 987.1l16.5 9.5v19l-16.5 9.5l-16.5 -9.5v-19zM866.4 985.0l16.5 9.5v19l-16.5 9.5l-16.5 -9.5v-19zM869.6 982.8l16.5 9.5v19l-16.5 9.5l-16.5 -9.5v-19zM872.9 980.7l16.5 9.5v19l-16.5 9.5l-16.5 -9.5v-19zM876.1 978.5l16.5 9.5v19l-16.5 9.5l-16.5 -9.5v-19zM879.3 976.3l16.5 9.5v19l-16.5 9.5l-16.5 -9.5v-19zM882.6 974.1l16.5 9.5v19l-16.5 9.5l-16.5 -9.5v-19zM885.8 971.9l16.5 9.5v19l-16.5 9.5l-16.5 -9.5v-19zM889.1 969.7l16.5 9.5v19l-16.5 9.5l-16.5 -9.5v-19zM892.3 967.5l16.5 9.5v19l-16.5 9.5l-16.5 -9.5v-19zM895.5 965.2l16.5 9.5v19l-16.5 9.5l-16.5 -9.5v-19zM898.8 963.0l16.5 9.5v19l-16.5 9.5l-16.5 -9.5v-19zM902.0 960.7l16.5 9.5v19l-16.5 9.5l-16.5 -9.5v-19zM905.2 958.5l16.5 9.5v19l-16.5 9.5l-16.5 -9.5v-19zM908.5 956.3l16.5 9.5v19l-16.5 9.5l-16.5 -9.5v-19zM911.7 954.2l16.5 9.5v19l-16.5 9.5l-16.5 -9.5v-19zM915.0 952.2l16.5 9.5v19l-16.5 9.5l-16.5 -9.5v-19zM918.2 950.3l16.5 9.5v19l-16.5 9.5l-16.5 -9.5v-19zM921.4 948.4l16.5 9.5v19l-16.5 9.5l-16.5 -9.5v-19zM924.7 946.6l16.5 9.5v19l-16.5 9.5l-16.5 -9.5v-19zM927.9 944.8l16.5 9.5v19l-16.5 9.5l-16.5 -9.5v-19zM931.1 943.0l16.5 9.5v19l-16.5 9.5l-16.5 -9.5v-19zM934.4 941.1l16.5 9.5v19l-16.5 9.5l-16.5 -9.5v-19zM937.6 939.1l16.5 9.5v19l-16.5 9.5l-16.5 -9.5v-19zM940.9 937.1l16.5 9.5v19l-16.5 9.5l-16.5 -9.5v-19zM944.1 934.9l16.5 9.5v19l-16.5 9.5l-16.5 -9.5v-19zM947.3 932.7l16.5 9.5v19l-16.5 9.5l-16.5 -9.5v-19zM950.6 930.4l16.5 9.5v19l-16.5 9.5l-16.5 -9.5v-19zM953.8 928.2l16.5 9.5v19l-16.5 9.5l-16.5 -9.5v-19zM957.0 926.1l16.5 9.5v19l-16.5 9.5l-16.5 -9.5v-19zM960.3 924.1l16.5 9.5v19l-16.5 9.5l-16.5 -9.5v-19zM963.5 922.1l16.5 9.5v19l-16.5 9.5l-16.5 -9.5v-19zM966.7 920.1l16.5 9.5v19l-16.5 9.5l-16.5 -9.5v-19zM970.0 918.1l16.5 9.5v19l-16.5 9.5l-16.5 -9.5v-19zM973.2 916.2l16.5 9.5v19l-16.5 9.5l-16.5 -9.5v-19zM976.5 914.2l16.5 9.5v19l-16.5 9.5l-16.5 -9.5v-19zM979.7 912.2l16.5 9.5v19l-16.5 9.5l-16.5 -9.5v-19zM982.9 910.1l16.5 9.5v19l-16.5 9.5l-16.5 -9.5v-19zM986.2 908.1l16.5 9.5v19l-16.5 9.5l-16.5 -9.5v-19zM989.4 906.2l16.5 9.5v19l-16.5 9.5l-16.5 -9.5v-19zM992.6 904.4l16.5 9.5v19l-16.5 9.5l-16.5 -9.5v-19zM995.9 902.7l16.5 9.5v19l-16.5 9.5l-16.5 -9.5v-19zM999.1 901.1l16.5 9.5v19l-16.5 9.5l-16.5 -9.5v-19zM1002.4 899.5l16.5 9.5v19l-16.5 9.5l-16.5 -9.5v-19zM1005.6 898.0l16.5 9.5v19l-16.5 9.5l-16.5 -9.5v-19zM1008.8 896.5l16.5 9.5v19l-16.5 9.5l-16.5 -9.5v-19zM1012.1 895.1l16.5 9.5v19l-16.5 9.5l-16.5 -9.5v-19zM1015.3 893.7l16.5 9.5v19l-16.5 9.5l-16.5 -9.5v-19zM1018.5 892.4l16.5 9.5v19l-16.5 9.5l-16.5 -9.5v-19zM1021.8 891.1l16.5 9.5v19l-16.5 9.5l-16.5 -9.5v-19zM1025.0 889.7l16.5 9.5v19l-16.5 9.5l-16.5 -9.5v-19zM1028.3 888.3l16.5 9.5v19l-16.5 9.5l-16.5 -9.5v-19zM1031.5 886.7l16.5 9.5v19l-16.5 9.5l-16.5 -9.5v-19zM1034.7 884.9l16.5 9.5v19l-16.5 9.5l-16.5 -9.5v-19zM1038.0 883.1l16.5 9.5v19l-16.5 9.5l-16.5 -9.5v-19zM1041.2 881.1l16.5 9.5v19l-16.5 9.5l-16.5 -9.5v-19zM1044.4 879.1l16.5 9.5v19l-16.5 9.5l-16.5 -9.5v-19zM1047.7 877.1l16.5 9.5v19l-16.5 9.5l-16.5 -9.5v-19zM1050.9 875.1l16.5 9.5v19l-16.5 9.5l-16.5 -9.5v-19zM1054.1 873.2l16.5 9.5v19l-16.5 9.5l-16.5 -9.5v-19zM1057.4 871.4l16.5 9.5v19l-16.5 9.5l-16.5 -9.5v-19zM1060.6 869.7l16.5 9.5v19l-16.5 9.5l-16.5 -9.5v-19zM1063.9 867.9l16.5 9.5v19l-16.5 9.5l-16.5 -9.5v-19zM1067.1 866.3l16.5 9.5v19l-16.5 9.5l-16.5 -9.5v-19zM1070.3 864.6l16.5 9.5v19l-16.5 9.5l-16.5 -9.5v-19zM1073.6 863.0l16.5 9.5v19l-16.5 9.5l-16.5 -9.5v-19zM1076.8 861.3l16.5 9.5v19l-16.5 9.5l-16.5 -9.5v-19zM1080.0 859.7l16.5 9.5v19l-16.5 9.5l-16.5 -9.5v-19zM1083.3 858.1l16.5 9.5v19l-16.5 9.5l-16.5 -9.5v-19zM1086.5 856.4l16.5 9.5v19l-16.5 9.5l-16.5 -9.5v-19zM1089.8 854.7l16.5 9.5v19l-16.5 9.5l-16.5 -9.5v-19zM1093.0 853.0l16.5 9.5v19l-16.5 9.5l-16.5 -9.5v-19zM1096.2 851.3l16.5 9.5v19l-16.5 9.5l-16.5 -9.5v-19zM1099.5 849.7l16.5 9.5v19l-16.5 9.5l-16.5 -9.5v-19zM1102.7 848.0l16.5 9.5v19l-16.5 9.5l-16.5 -9.5v-19zM1106.0 846.5l16.5 9.5v19l-16.5 9.5l-16.5 -9.5v-19zM1109.2 845.0l16.5 9.5v19l-16.5 9.5l-16.5 -9.5v-19zM1112.4 843.7l16.5 9.5v19l-16.5 9.5l-16.5 -9.5v-19zM1115.7 842.3l16.5 9.5v19l-16.5 9.5l-16.5 -9.5v-19zM1118.9 841.1l16.5 9.5v19l-16.5 9.5l-16.5 -9.5v-19zM1122.1 839.8l16.5 9.5v19l-16.5 9.5l-16.5 -9.5v-19zM1125.4 838.6l16.5 9.5v19l-16.5 9.5l-16.5 -9.5v-19zM1128.6 837.4l16.5 9.5v19l-16.5 9.5l-16.5 -9.5v-19zM1131.9 836.2l16.5 9.5v19l-16.5 9.5l-16.5 -9.5v-19zM1135.1 834.9l16.5 9.5v19l-16.5 9.5l-16.5 -9.5v-19zM1138.3 833.6l16.5 9.5v19l-16.5 9.5l-16.5 -9.5v-19zM1141.6 832.3l16.5 9.5v19l-16.5 9.5l-16.5 -9.5v-19zM1144.8 831.0l16.5 9.5v19l-16.5 9.5l-16.5 -9.5v-19zM1148.0 829.7l16.5 9.5v19l-16.5 9.5l-16.5 -9.5v-19zM1151.3 828.4l16.5 9.5v19l-16.5 9.5l-16.5 -9.5v-19zM1154.5 827.1l16.5 9.5v19l-16.5 9.5l-16.5 -9.5v-19zM1157.8 825.7l16.5 9.5v19l-16.5 9.5l-16.5 -9.5v-19zM1161.0 824.3l16.5 9.5v19l-16.5 9.5l-16.5 -9.5v-19zM1164.2 822.8l16.5 9.5v19l-16.5 9.5l-16.5 -9.5v-19zM1167.5 821.3l16.5 9.5v19l-16.5 9.5l-16.5 -9.5v-19zM1170.7 819.6l16.5 9.5v19l-16.5 9.5l-16.5 -9.5v-19zM1173.9 818.0l16.5 9.5v19l-16.5 9.5l-16.5 -9.5v-19zM1177.2 816.3l16.5 9.5v19l-16.5 9.5l-16.5 -9.5v-19zM1180.4 814.7l16.5 9.5v19l-16.5 9.5l-16.5 -9.5v-19zM1183.6 813.2l16.5 9.5v19l-16.5 9.5l-16.5 -9.5v-19zM1186.9 811.7l16.5 9.5v19l-16.5 9.5l-16.5 -9.5v-19zM1190.1 810.4l16.5 9.5v19l-16.5 9.5l-16.5 -9.5v-19zM1193.4 809.1l16.5 9.5v19l-16.5 9.5l-16.5 -9.5v-19zM1196.6 807.9l16.5 9.5v19l-16.5 9.5l-16.5 -9.5v-19zM1199.8 806.8l16.5 9.5v19l-16.5 9.5l-16.5 -9.5v-19zM1203.1 805.7l16.5 9.5v19l-16.5 9.5l-16.5 -9.5v-19zM1206.3 804.6l16.5 9.5v19l-16.5 9.5l-16.5 -9.5v-19zM1209.5 803.4l16.5 9.5v19l-16.5 9.5l-16.5 -9.5v-19zM1212.8 802.3l16.5 9.5v19l-16.5 9.5l-16.5 -9.5v-19zM1216.0 801.1l16.5 9.5v19l-16.5 9.5l-16.5 -9.5v-19zM1219.3 799.9l16.5 9.5v19l-16.5 9.5l-16.5 -9.5v-19zM1222.5 798.6l16.5 9.5v19l-16.5 9.5l-16.5 -9.5v-19zM1225.7 797.2l16.5 9.5v19l-16.5 9.5l-16.5 -9.5v-19zM1229.0 795.7l16.5 9.5v19l-16.5 9.5l-16.5 -9.5v-19zM1232.2 794.3l16.5 9.5v19l-16.5 9.5l-16.5 -9.5v-19zM1235.4 792.8l16.5 9.5v19l-16.5 9.5l-16.5 -9.5v-19zM1238.7 791.3l16.5 9.5v19l-16.5 9.5l-16.5 -9.5v-19zM1241.9 789.8l16.5 9.5v19l-16.5 9.5l-16.5 -9.5v-19zM1245.2 788.3l16.5 9.5v19l-16.5 9.5l-16.5 -9.5v-19zM1248.4 786.9l16.5 9.5v19l-16.5 9.5l-16.5 -9.5v-19zM1251.6 785.6l16.5 9.5v19l-16.5 9.5l-16.5 -9.5v-19zM1254.9 784.4l16.5 9.5v19l-16.5 9.5l-16.5 -9.5v-19zM1258.1 783.1l16.5 9.5v19l-16.5 9.5l-16.5 -9.5v-19zM1261.3 781.9l16.5 9.5v19l-16.5 9.5l-16.5 -9.5v-19zM1264.6 780.7l16.5 9.5v19l-16.5 9.5l-16.5 -9.5v-19zM1267.8 779.5l16.5 9.5v19l-16.5 9.5l-16.5 -9.5v-19zM1271.0 778.4l16.5 9.5v19l-16.5 9.5l-16.5 -9.5v-19zM1274.3 777.2l16.5 9.5v19l-16.5 9.5l-16.5 -9.5v-19zM1277.5 776.0l16.5 9.5v19l-16.5 9.5l-16.5 -9.5v-19zM1280.8 774.9l16.5 9.5v19l-16.5 9.5l-16.5 -9.5v-19zM1284.0 773.7l16.5 9.5v19l-16.5 9.5l-16.5 -9.5v-19zM1287.2 772.6l16.5 9.5v19l-16.5 9.5l-16.5 -9.5v-19zM1290.5 771.5l16.5 9.5v19l-16.5 9.5l-16.5 -9.5v-19zM1293.7 770.4l16.5 9.5v19l-16.5 9.5l-16.5 -9.5v-19zM1296.9 769.3l16.5 9.5v19l-16.5 9.5l-16.5 -9.5v-19zM1300.2 768.2l16.5 9.5v19l-16.5 9.5l-16.5 -9.5v-19zM1303.4 767.0l16.5 9.5v19l-16.5 9.5l-16.5 -9.5v-19zM1306.7 765.9l16.5 9.5v19l-16.5 9.5l-16.5 -9.5v-19zM1309.9 764.8l16.5 9.5v19l-16.5 9.5l-16.5 -9.5v-19zM1313.1 763.7l16.5 9.5v19l-16.5 9.5l-16.5 -9.5v-19zM1316.4 762.5l16.5 9.5v19l-16.5 9.5l-16.5 -9.5v-19zM1319.6 761.4l16.5 9.5v19l-16.5 9.5l-16.5 -9.5v-19zM1322.8 760.2l16.5 9.5v19l-16.5 9.5l-16.5 -9.5v-19zM1326.1 759.1l16.5 9.5v19l-16.5 9.5l-16.5 -9.5v-19zM1329.3 757.9l16.5 9.5v19l-16.5 9.5l-16.5 -9.5v-19zM1332.6 756.7l16.5 9.5v19l-16.5 9.5l-16.5 -9.5v-19zM1335.8 755.5l16.5 9.5v19l-16.5 9.5l-16.5 -9.5v-19zM1339.0 754.3l16.5 9.5v19l-16.5 9.5l-16.5 -9.5v-19zM1342.3 753.1l16.5 9.5v19l-16.5 9.5l-16.5 -9.5v-19zM1345.5 751.8l16.5 9.5v19l-16.5 9.5l-16.5 -9.5v-19zM1348.7 750.6l16.5 9.5v19l-16.5 9.5l-16.5 -9.5v-19zM1352.0 749.4l16.5 9.5v19l-16.5 9.5l-16.5 -9.5v-19zM1355.2 748.2l16.5 9.5v19l-16.5 9.5l-16.5 -9.5v-19zM1358.4 746.9l16.5 9.5v19l-16.5 9.5l-16.5 -9.5v-19zM1361.7 745.7l16.5 9.5v19l-16.5 9.5l-16.5 -9.5v-19zM1364.9 744.4l16.5 9.5v19l-16.5 9.5l-16.5 -9.5v-19zM1368.2 743.2l16.5 9.5v19l-16.5 9.5l-16.5 -9.5v-19zM1371.4 742.0l16.5 9.5v19l-16.5 9.5l-16.5 -9.5v-19zM1374.6 740.7l16.5 9.5v19l-16.5 9.5l-16.5 -9.5v-19zM1377.9 739.5l16.5 9.5v19l-16.5 9.5l-16.5 -9.5v-19zM1381.1 738.3l16.5 9.5v19l-16.5 9.5l-16.5 -9.5v-19zM1384.3 737.1l16.5 9.5v19l-16.5 9.5l-16.5 -9.5v-19zM1387.6 735.9l16.5 9.5v19l-16.5 9.5l-16.5 -9.5v-19zM1390.8 734.7l16.5 9.5v19l-16.5 9.5l-16.5 -9.5v-19zM1394.1 733.5l16.5 9.5v19l-16.5 9.5l-16.5 -9.5v-19zM1397.3 732.4l16.5 9.5v19l-16.5 9.5l-16.5 -9.5v-19zM1400.5 731.2l16.5 9.5v19l-16.5 9.5l-16.5 -9.5v-19zM1403.8 730.1l16.5 9.5v19l-16.5 9.5l-16.5 -9.5v-19zM1407.0 729.0l16.5 9.5v19l-16.5 9.5l-16.5 -9.5v-19zM1410.2 728.0l16.5 9.5v19l-16.5 9.5l-16.5 -9.5v-19zM1413.5 726.9l16.5 9.5v19l-16.5 9.5l-16.5 -9.5v-19zM1416.7 725.8l16.5 9.5v19l-16.5 9.5l-16.5 -9.5v-19zM1420.0 724.8l16.5 9.5v19l-16.5 9.5l-16.5 -9.5v-19zM1423.2 723.7l16.5 9.5v19l-16.5 9.5l-16.5 -9.5v-19zM1426.4 722.7l16.5 9.5v19l-16.5 9.5l-16.5 -9.5v-19zM1429.7 721.6l16.5 9.5v19l-16.5 9.5l-16.5 -9.5v-19zM1432.9 720.5l16.5 9.5v19l-16.5 9.5l-16.5 -9.5v-19zM1436.1 719.4l16.5 9.5v19l-16.5 9.5l-16.5 -9.5v-19zM1439.4 718.4l16.5 9.5v19l-16.5 9.5l-16.5 -9.5v-19zM1442.6 717.3l16.5 9.5v19l-16.5 9.5l-16.5 -9.5v-19zM1445.8 716.2l16.5 9.5v19l-16.5 9.5l-16.5 -9.5v-19zM1449.1 715.2l16.5 9.5v19l-16.5 9.5l-16.5 -9.5v-19zM1452.3 714.1l16.5 9.5v19l-16.5 9.5l-16.5 -9.5v-19zM1455.6 713.0l16.5 9.5v19l-16.5 9.5l-16.5 -9.5v-19zM1458.8 711.9l16.5 9.5v19l-16.5 9.5l-16.5 -9.5v-19zM1462.0 710.8l16.5 9.5v19l-16.5 9.5l-16.5 -9.5v-19zM1465.3 709.7l16.5 9.5v19l-16.5 9.5l-16.5 -9.5v-19zM1468.5 708.5l16.5 9.5v19l-16.5 9.5l-16.5 -9.5v-19zM1471.7 707.3l16.5 9.5v19l-16.5 9.5l-16.5 -9.5v-19zM1475.0 706.1l16.5 9.5v19l-16.5 9.5l-16.5 -9.5v-19zM1478.2 704.8l16.5 9.5v19l-16.5 9.5l-16.5 -9.5v-19zM1481.5 703.5l16.5 9.5v19l-16.5 9.5l-16.5 -9.5v-19zM1484.7 702.2l16.5 9.5v19l-16.5 9.5l-16.5 -9.5v-19zM1487.9 700.9l16.5 9.5v19l-16.5 9.5l-16.5 -9.5v-19zM1491.2 699.5l16.5 9.5v19l-16.5 9.5l-16.5 -9.5v-19zM1494.4 698.2l16.5 9.5v19l-16.5 9.5l-16.5 -9.5v-19zM1497.6 696.8l16.5 9.5v19l-16.5 9.5l-16.5 -9.5v-19zM1500.9 695.5l16.5 9.5v19l-16.5 9.5l-16.5 -9.5v-19zM1504.1 694.3l16.5 9.5v19l-16.5 9.5l-16.5 -9.5v-19zM1507.4 693.1l16.5 9.5v19l-16.5 9.5l-16.5 -9.5v-19zM1510.6 692.0l16.5 9.5v19l-16.5 9.5l-16.5 -9.5v-19zM1513.8 690.8l16.5 9.5v19l-16.5 9.5l-16.5 -9.5v-19zM1517.1 689.7l16.5 9.5v19l-16.5 9.5l-16.5 -9.5v-19zM1520.3 688.6l16.5 9.5v19l-16.5 9.5l-16.5 -9.5v-19zM1523.5 687.5l16.5 9.5v19l-16.5 9.5l-16.5 -9.5v-19zM1526.8 686.5l16.5 9.5v19l-16.5 9.5l-16.5 -9.5v-19zM1530.0 685.4l16.5 9.5v19l-16.5 9.5l-16.5 -9.5v-19zM1533.2 684.3l16.5 9.5v19l-16.5 9.5l-16.5 -9.5v-19zM1536.5 683.3l16.5 9.5v19l-16.5 9.5l-16.5 -9.5v-19zM1539.7 682.2l16.5 9.5v19l-16.5 9.5l-16.5 -9.5v-19zM1543.0 681.1l16.5 9.5v19l-16.5 9.5l-16.5 -9.5v-19zM1546.2 680.0l16.5 9.5v19l-16.5 9.5l-16.5 -9.5v-19zM1549.4 678.8l16.5 9.5v19l-16.5 9.5l-16.5 -9.5v-19zM1552.7 677.7l16.5 9.5v19l-16.5 9.5l-16.5 -9.5v-19zM1555.9 676.5l16.5 9.5v19l-16.5 9.5l-16.5 -9.5v-19zM1559.1 675.4l16.5 9.5v19l-16.5 9.5l-16.5 -9.5v-19zM1562.4 674.2l16.5 9.5v19l-16.5 9.5l-16.5 -9.5v-19zM1565.6 673.0l16.5 9.5v19l-16.5 9.5l-16.5 -9.5v-19zM1568.9 671.8l16.5 9.5v19l-16.5 9.5l-16.5 -9.5v-19zM1572.1 670.6l16.5 9.5v19l-16.5 9.5l-16.5 -9.5v-19zM1575.3 669.4l16.5 9.5v19l-16.5 9.5l-16.5 -9.5v-19zM1578.6 668.1l16.5 9.5v19l-16.5 9.5l-16.5 -9.5v-19zM1581.8 666.9l16.5 9.5v19l-16.5 9.5l-16.5 -9.5v-19zM1585.0 665.6l16.5 9.5v19l-16.5 9.5l-16.5 -9.5v-19zM1588.3 664.3l16.5 9.5v19l-16.5 9.5l-16.5 -9.5v-19zM1591.5 663.0l16.5 9.5v19l-16.5 9.5l-16.5 -9.5v-19zM1594.8 661.7l16.5 9.5v19l-16.5 9.5l-16.5 -9.5v-19zM1598.0 660.4l16.5 9.5v19l-16.5 9.5l-16.5 -9.5v-19zM1601.2 659.0l16.5 9.5v19l-16.5 9.5l-16.5 -9.5v-19zM1604.5 657.7l16.5 9.5v19l-16.5 9.5l-16.5 -9.5v-19zM1607.7 656.3l16.5 9.5v19l-16.5 9.5l-16.5 -9.5v-19zM1610.9 655.0l16.5 9.5v19l-16.5 9.5l-16.5 -9.5v-19zM1614.2 653.6l16.5 9.5v19l-16.5 9.5l-16.5 -9.5v-19zM1617.4 652.2l16.5 9.5v19l-16.5 9.5l-16.5 -9.5v-19zM1620.6 650.8l16.5 9.5v19l-16.5 9.5l-16.5 -9.5v-19zM1623.9 649.3l16.5 9.5v19l-16.5 9.5l-16.5 -9.5v-19zM1627.1 647.9l16.5 9.5v19l-16.5 9.5l-16.5 -9.5v-19zM1630.4 646.4l16.5 9.5v19l-16.5 9.5l-16.5 -9.5v-19zM1633.6 644.8l16.5 9.5v19l-16.5 9.5l-16.5 -9.5v-19zM1636.8 643.3l16.5 9.5v19l-16.5 9.5l-16.5 -9.5v-19zM1640.1 641.8l16.5 9.5v19l-16.5 9.5l-16.5 -9.5v-19zM1643.3 640.3l16.5 9.5v19l-16.5 9.5l-16.5 -9.5v-19zM1646.5 638.8l16.5 9.5v19l-16.5 9.5l-16.5 -9.5v-19zM1649.8 637.3l16.5 9.5v19l-16.5 9.5l-16.5 -9.5v-19zM1653.0 635.9l16.5 9.5v19l-16.5 9.5l-16.5 -9.5v-19zM1656.3 634.5l16.5 9.5v19l-16.5 9.5l-16.5 -9.5v-19zM1659.5 633.1l16.5 9.5v19l-16.5 9.5l-16.5 -9.5v-19zM1662.7 631.8l16.5 9.5v19l-16.5 9.5l-16.5 -9.5v-19zM1666.0 630.4l16.5 9.5v19l-16.5 9.5l-16.5 -9.5v-19zM1669.2 629.1l16.5 9.5v19l-16.5 9.5l-16.5 -9.5v-19zM1672.4 627.8l16.5 9.5v19l-16.5 9.5l-16.5 -9.5v-19zM1675.7 626.5l16.5 9.5v19l-16.5 9.5l-16.5 -9.5v-19zM1678.9 625.2l16.5 9.5v19l-16.5 9.5l-16.5 -9.5v-19zM1682.2 623.9l16.5 9.5v19l-16.5 9.5l-16.5 -9.5v-19zM1685.4 622.5l16.5 9.5v19l-16.5 9.5l-16.5 -9.5v-19zM1688.6 621.1l16.5 9.5v19l-16.5 9.5l-16.5 -9.5v-19zM1691.9 619.6l16.5 9.5v19l-16.5 9.5l-16.5 -9.5v-19zM1695.1 618.2l16.5 9.5v19l-16.5 9.5l-16.5 -9.5v-19zM1698.3 616.7l16.5 9.5v19l-16.5 9.5l-16.5 -9.5v-19zM1701.6 615.2l16.5 9.5v19l-16.5 9.5l-16.5 -9.5v-19zM1704.8 613.5l16.5 9.5v19l-16.5 9.5l-16.5 -9.5v-19zM1708.0 611.7l16.5 9.5v19l-16.5 9.5l-16.5 -9.5v-19zM1711.3 609.8l16.5 9.5v19l-16.5 9.5l-16.5 -9.5v-19zM1714.5 607.7l16.5 9.5v19l-16.5 9.5l-16.5 -9.5v-19zM1717.8 605.5l16.5 9.5v19l-16.5 9.5l-16.5 -9.5v-19zM1721.0 603.2l16.5 9.5v19l-16.5 9.5l-16.5 -9.5v-19zM1724.2 600.7l16.5 9.5v19l-16.5 9.5l-16.5 -9.5v-19zM1727.5 598.1l16.5 9.5v19l-16.5 9.5l-16.5 -9.5v-19zM1730.7 595.4l16.5 9.5v19l-16.5 9.5l-16.5 -9.5v-19zM1733.9 592.4l16.5 9.5v19l-16.5 9.5l-16.5 -9.5v-19zM1737.2 589.2l16.5 9.5v19l-16.5 9.5l-16.5 -9.5v-19zM1740.4 585.8l16.5 9.5v19l-16.5 9.5l-16.5 -9.5v-19zM1743.7 582.3l16.5 9.5v19l-16.5 9.5l-16.5 -9.5v-19zM1746.9 578.4l16.5 9.5v19l-16.5 9.5l-16.5 -9.5v-19zM1750.1 574.2l16.5 9.5v19l-16.5 9.5l-16.5 -9.5v-19zM1753.4 569.8l16.5 9.5v19l-16.5 9.5l-16.5 -9.5v-19zM1756.6 565.0l16.5 9.5v19l-16.5 9.5l-16.5 -9.5v-19zM1759.8 559.8l16.5 9.5v19l-16.5 9.5l-16.5 -9.5v-19zM1763.1 554.2l16.5 9.5v19l-16.5 9.5l-16.5 -9.5v-19zM1766.3 547.9l16.5 9.5v19l-16.5 9.5l-16.5 -9.5v-19zM1769.6 540.8l16.5 9.5v19l-16.5 9.5l-16.5 -9.5v-19zM1772.8 533.0l16.5 9.5v19l-16.5 9.5l-16.5 -9.5v-19zM1776.0 524.6l16.5 9.5v19l-16.5 9.5l-16.5 -9.5v-19zM1779.3 515.8l16.5 9.5v19l-16.5 9.5l-16.5 -9.5v-19zM1782.5 506.4l16.5 9.5v19l-16.5 9.5l-16.5 -9.5v-19zM1785.7 496.1l16.5 9.5v19l-16.5 9.5l-16.5 -9.5v-19zM1789.0 484.9l16.5 9.5v19l-16.5 9.5l-16.5 -9.5v-19zM1792.2 473.0l16.5 9.5v19l-16.5 9.5l-16.5 -9.5v-19zM1795.4 459.8l16.5 9.5v19l-16.5 9.5l-16.5 -9.5v-19zM1798.7 443.8l16.5 9.5v19l-16.5 9.5l-16.5 -9.5v-19zM1801.9 422.6l16.5 9.5v19l-16.5 9.5l-16.5 -9.5v-19zM1805.2 398.1l16.5 9.5v19l-16.5 9.5l-16.5 -9.5v-19zM1808.4 370.0l16.5 9.5v19l-16.5 9.5l-16.5 -9.5v-19zM1811.6 334.9l16.5 9.5v19l-16.5 9.5l-16.5 -9.5v-19zM1814.9 290.9l16.5 9.5v19l-16.5 9.5l-16.5 -9.5v-19zM1818.1 234.0l16.5 9.5v19l-16.5 9.5l-16.5 -9.5v-19zM1821.3 155.2l16.5 9.5v19l-16.5 9.5l-16.5 -9.5v-19z"/>
<g stroke="#000" stroke-width="7.2" fill="none" stroke-linecap="round">
<path stroke-linecap="square" d="M231.9 1455.0H1980.0M231.9 1455.0V47.8H1980.0V1455.0"/>
<path d="M231.9 1455.0v16M231.9 47.8v16M377.6 1455.0v31M377.6 47.8v31M523.3 1455.0v16M523.3 47.8v16M668.9 1455.0v31M668.9 47.8v31M814.6 1455.0v16M814.6 47.8v16M960.3 1455.0v31M960.3 47.8v31M1106.0 1455.0v16M1106.0 47.8v16M1251.6 1455.0v31M1251.6 47.8v31M1397.3 1455.0v16M1397.3 47.8v16M1543.0 1455.0v31M1543.0 47.8v31M1688.6 1455.0v16M1688.6 47.8v16M1834.3 1455.0v31M1834.3 47.8v31M1980.0 1455.0v16M1980.0 47.8v16M231.9 1455.0h-31M1980.0 1455.0h-31M231.9 1346.8h-16M1980.0 1346.8h-16M231.9 1238.5h-31M1980.0 1238.5h-31M231.9 1130.2h-16M1980.0 1130.2h-16M231.9 1022.0h-31M1980.0 1022.0h-31M231.9 913.8h-16M1980.0 913.8h-16M231.9 805.5h-31M1980.0 805.5h-31M231.9 697.2h-16M1980.0 697.2h-16M231.9 589.0h-31M1980.0 589.0h-31M231.9 480.8h-16M1980.0 480.8h-16M231.9 372.5h-31M1980.0 372.5h-31M231.9 264.2h-16M1980.0 264.2h-16M231.9 156.0h-31M1980.0 156.0h-31M231.9 47.8h-16M1980.0 47.8h-16"/>
</g>
<g font-family="Liberation Sans, Arial, sans-serif" font-weight="bold" fill="#000">
<text x="184" y="1473.5" font-size="66" text-anchor="end">0</text>
<text x="184" y="1257.0" font-size="66" text-anchor="end">1</text>
<text x="184" y="1040.5" font-size="66" text-anchor="end">2</text>
<text x="184" y="824.0" font-size="66" text-anchor="end">3</text>
<text x="184" y="607.5" font-size="66" text-anchor="end">4</text>
<text x="184" y="391.0" font-size="66" text-anchor="end">5</text>
<text x="184" y="174.5" font-size="66" text-anchor="end">6</text>
<text x="376.1" y="1554.5" font-size="66" text-anchor="middle">0.0</text>
<text x="667.4" y="1554.5" font-size="66" text-anchor="middle">0.2</text>
<text x="958.8" y="1554.5" font-size="66" text-anchor="middle">0.4</text>
<text x="1250.1" y="1554.5" font-size="66" text-anchor="middle">0.6</text>
<text x="1541.5" y="1554.5" font-size="66" text-anchor="middle">0.8</text>
<text x="1832.8" y="1554.5" font-size="66" text-anchor="middle">1.0</text>
<text x="1054.6" y="1675.8" font-size="73">r/R</text>
<text x="421.9" y="173.2" font-size="59.5">m=0.2</text>
<text x="421.9" y="248.3" font-size="59.5">m=0.3</text>
<text x="421.9" y="322.7" font-size="59.5">m=0.4</text>
<text x="421.9" y="398.2" font-size="59.5">m=0.5</text>
<text x="421.9" y="473.2" font-size="59.5">m=0.6</text>
<text x="421.9" y="548.8" font-size="59.5">m=0.7</text>
<text x="421.9" y="623.8" font-size="59.5">m=0.8</text>
<text x="421.9" y="698.6" font-size="59.5">m=0.9</text>
</g>
<text transform="translate(89.2 852.7) rotate(-90)" font-family="Liberation Serif, Times New Roman, serif" font-size="70" fill="#000">&#916;&#937;</text>
<path fill="#000000" d="M322.8 136.2h30.5v30.5h-30.5z"/>
<path fill="#ff0000" d="M321.0 227.3a17.5 17.5 0 1 0 35.0 0a17.5 17.5 0 1 0 -35.0 0z"/>
<path fill="#0000ff" d="M338.5 278.7l20.5 36h-41z"/>
<path fill="#ff00ff" d="M338.5 400.8l20.5 -36h-41z"/>
<path fill="#008000" d="M338.6 431.8l21.7 21.5l-21.7 21.5l-21.7 -21.5z"/>
<path fill="#000080" d="M315.0 528.4l36 -20.5v41z"/>
<path fill="#8000ff" d="M362.0 603.5l-36 -20.5v41z"/>
<path fill="#800080" d="M338.4 660.0l16.5 9.5v19l-16.5 9.5l-16.5 -9.5v-19z"/>
</svg></body></html>
